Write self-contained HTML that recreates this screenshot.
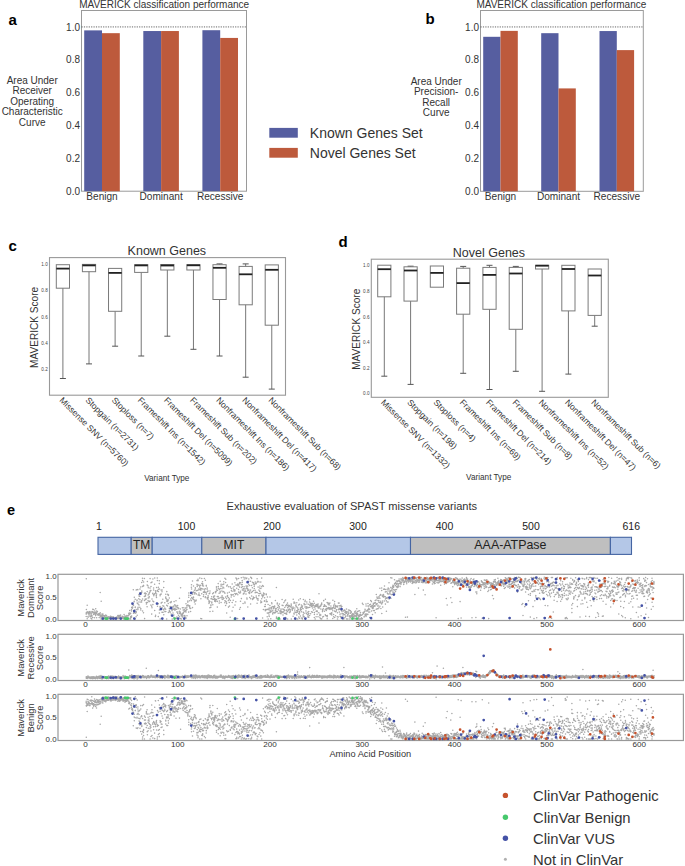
<!DOCTYPE html>
<html><head><meta charset="utf-8"><style>
html,body{margin:0;padding:0;background:#fff;}
svg{display:block;font-family:"Liberation Sans", sans-serif;}
</style></head><body>
<svg width="685" height="866" viewBox="0 0 685 866">
<rect x="81.5" y="10.5" width="165.0" height="180.7" fill="none" stroke="#9a9a9a" stroke-width="1"/>
<line x1="81.5" y1="26.93" x2="246.5" y2="26.93" stroke="#555" stroke-width="0.9" stroke-dasharray="1.2 1.2"/>
<rect x="84.20" y="30.38" width="17.80" height="160.82" fill="#565ea0"/>
<rect x="102.00" y="33.17" width="17.80" height="158.03" fill="#bd5a3c"/>
<rect x="143.30" y="31.03" width="17.80" height="160.17" fill="#565ea0"/>
<rect x="161.10" y="31.03" width="17.80" height="160.17" fill="#bd5a3c"/>
<rect x="202.40" y="30.21" width="17.80" height="160.99" fill="#565ea0"/>
<rect x="220.20" y="37.93" width="17.80" height="153.27" fill="#bd5a3c"/>
<text x="80.0" y="194.80" font-size="10" text-anchor="end" fill="#333333" font-weight="normal" >0.0</text>
<text x="80.0" y="161.95" font-size="10" text-anchor="end" fill="#333333" font-weight="normal" >0.2</text>
<text x="80.0" y="129.09" font-size="10" text-anchor="end" fill="#333333" font-weight="normal" >0.4</text>
<text x="80.0" y="96.24" font-size="10" text-anchor="end" fill="#333333" font-weight="normal" >0.6</text>
<text x="80.0" y="63.38" font-size="10" text-anchor="end" fill="#333333" font-weight="normal" >0.8</text>
<text x="80.0" y="30.53" font-size="10" text-anchor="end" fill="#333333" font-weight="normal" >1.0</text>
<text x="102.00" y="199.7" font-size="10.1" text-anchor="middle" fill="#333333" font-weight="normal" >Benign</text>
<text x="161.10" y="199.7" font-size="10.1" text-anchor="middle" fill="#333333" font-weight="normal" >Dominant</text>
<text x="220.20" y="199.7" font-size="10.1" text-anchor="middle" fill="#333333" font-weight="normal" >Recessive</text>
<text x="32.2" y="83.80" font-size="10" text-anchor="middle" fill="#333333" font-weight="normal" >Area Under</text>
<text x="32.2" y="94.30" font-size="10" text-anchor="middle" fill="#333333" font-weight="normal" >Receiver</text>
<text x="32.2" y="104.80" font-size="10" text-anchor="middle" fill="#333333" font-weight="normal" >Operating</text>
<text x="32.2" y="115.30" font-size="10" text-anchor="middle" fill="#333333" font-weight="normal" >Characteristic</text>
<text x="32.2" y="125.80" font-size="10" text-anchor="middle" fill="#333333" font-weight="normal" >Curve</text>
<text x="79.2" y="8.3" font-size="10.0" text-anchor="start" fill="#333333" font-weight="normal" >MAVERICK classification performance</text>
<rect x="480.5" y="10.5" width="162.79999999999995" height="180.8" fill="none" stroke="#9a9a9a" stroke-width="1"/>
<line x1="480.5" y1="26.94" x2="643.3" y2="26.94" stroke="#555" stroke-width="0.9" stroke-dasharray="1.2 1.2"/>
<rect x="483.20" y="36.80" width="17.30" height="154.50" fill="#565ea0"/>
<rect x="500.50" y="30.88" width="17.30" height="160.42" fill="#bd5a3c"/>
<rect x="541.20" y="33.18" width="17.30" height="158.12" fill="#565ea0"/>
<rect x="558.50" y="88.41" width="17.30" height="102.89" fill="#bd5a3c"/>
<rect x="599.50" y="31.05" width="17.30" height="160.25" fill="#565ea0"/>
<rect x="616.80" y="50.11" width="17.30" height="141.19" fill="#bd5a3c"/>
<text x="479.0" y="194.90" font-size="10" text-anchor="end" fill="#333333" font-weight="normal" >0.0</text>
<text x="479.0" y="162.03" font-size="10" text-anchor="end" fill="#333333" font-weight="normal" >0.2</text>
<text x="479.0" y="129.15" font-size="10" text-anchor="end" fill="#333333" font-weight="normal" >0.4</text>
<text x="479.0" y="96.28" font-size="10" text-anchor="end" fill="#333333" font-weight="normal" >0.6</text>
<text x="479.0" y="63.41" font-size="10" text-anchor="end" fill="#333333" font-weight="normal" >0.8</text>
<text x="479.0" y="30.54" font-size="10" text-anchor="end" fill="#333333" font-weight="normal" >1.0</text>
<text x="500.50" y="199.7" font-size="10.1" text-anchor="middle" fill="#333333" font-weight="normal" >Benign</text>
<text x="558.50" y="199.7" font-size="10.1" text-anchor="middle" fill="#333333" font-weight="normal" >Dominant</text>
<text x="616.80" y="199.7" font-size="10.1" text-anchor="middle" fill="#333333" font-weight="normal" >Recessive</text>
<text x="436.2" y="85.00" font-size="10" text-anchor="middle" fill="#333333" font-weight="normal" >Area Under</text>
<text x="436.2" y="95.40" font-size="10" text-anchor="middle" fill="#333333" font-weight="normal" >Precision-</text>
<text x="436.2" y="105.80" font-size="10" text-anchor="middle" fill="#333333" font-weight="normal" >Recall</text>
<text x="436.2" y="116.20" font-size="10" text-anchor="middle" fill="#333333" font-weight="normal" >Curve</text>
<text x="476.4" y="8.3" font-size="10.0" text-anchor="start" fill="#333333" font-weight="normal" >MAVERICK classification performance</text>
<text x="8.5" y="24.5" font-size="15" text-anchor="start" fill="#000" font-weight="bold" >a</text>
<text x="425.6" y="24.2" font-size="15" text-anchor="start" fill="#000" font-weight="bold" >b</text>
<rect x="269.3" y="127.9" width="28.5" height="9.8" fill="#565ea0"/>
<rect x="269.3" y="147.9" width="28.5" height="9.8" fill="#bd5a3c"/>
<text x="309.8" y="137.8" font-size="14" text-anchor="start" fill="#333333" font-weight="normal" >Known Genes Set</text>
<text x="309.8" y="157.8" font-size="14" text-anchor="start" fill="#333333" font-weight="normal" >Novel Genes Set</text>
<rect x="49.5" y="257.6" width="236.0" height="137.59999999999997" fill="none" stroke="#999" stroke-width="1.1"/>
<line x1="62.90" y1="288.20" x2="62.90" y2="378.50" stroke="#777" stroke-width="1"/>
<line x1="59.90" y1="378.50" x2="65.90" y2="378.50" stroke="#555" stroke-width="1"/>
<rect x="56.30" y="264.70" width="13.2" height="23.50" fill="none" stroke="#7a7a7a" stroke-width="1"/>
<line x1="56.30" y1="268.60" x2="69.50" y2="268.60" stroke="#222" stroke-width="1.8"/>
<line x1="89.01" y1="271.70" x2="89.01" y2="363.90" stroke="#777" stroke-width="1"/>
<line x1="86.01" y1="363.90" x2="92.01" y2="363.90" stroke="#555" stroke-width="1"/>
<rect x="82.41" y="264.40" width="13.2" height="7.30" fill="none" stroke="#7a7a7a" stroke-width="1"/>
<line x1="82.41" y1="265.40" x2="95.61" y2="265.40" stroke="#222" stroke-width="1.8"/>
<line x1="115.12" y1="311.30" x2="115.12" y2="346.20" stroke="#777" stroke-width="1"/>
<line x1="112.12" y1="346.20" x2="118.12" y2="346.20" stroke="#555" stroke-width="1"/>
<rect x="108.52" y="268.40" width="13.2" height="42.90" fill="none" stroke="#7a7a7a" stroke-width="1"/>
<line x1="108.52" y1="272.90" x2="121.72" y2="272.90" stroke="#222" stroke-width="1.8"/>
<line x1="141.23" y1="272.40" x2="141.23" y2="356.00" stroke="#777" stroke-width="1"/>
<line x1="138.23" y1="356.00" x2="144.23" y2="356.00" stroke="#555" stroke-width="1"/>
<rect x="134.63" y="264.70" width="13.2" height="7.70" fill="none" stroke="#7a7a7a" stroke-width="1"/>
<line x1="134.63" y1="265.40" x2="147.83" y2="265.40" stroke="#222" stroke-width="1.8"/>
<line x1="167.34" y1="270.00" x2="167.34" y2="336.20" stroke="#777" stroke-width="1"/>
<line x1="164.34" y1="336.20" x2="170.34" y2="336.20" stroke="#555" stroke-width="1"/>
<rect x="160.74" y="264.50" width="13.2" height="5.50" fill="none" stroke="#7a7a7a" stroke-width="1"/>
<line x1="160.74" y1="265.50" x2="173.94" y2="265.50" stroke="#222" stroke-width="1.8"/>
<line x1="193.45" y1="270.00" x2="193.45" y2="349.30" stroke="#777" stroke-width="1"/>
<line x1="190.45" y1="349.30" x2="196.45" y2="349.30" stroke="#555" stroke-width="1"/>
<rect x="186.85" y="264.70" width="13.2" height="5.30" fill="none" stroke="#7a7a7a" stroke-width="1"/>
<line x1="186.85" y1="265.30" x2="200.05" y2="265.30" stroke="#222" stroke-width="1.8"/>
<line x1="219.56" y1="299.50" x2="219.56" y2="356.00" stroke="#777" stroke-width="1"/>
<line x1="216.56" y1="356.00" x2="222.56" y2="356.00" stroke="#555" stroke-width="1"/>
<line x1="219.56" y1="263.90" x2="219.56" y2="264.70" stroke="#777" stroke-width="1"/>
<line x1="216.56" y1="263.90" x2="222.56" y2="263.90" stroke="#555" stroke-width="1"/>
<rect x="212.96" y="264.70" width="13.2" height="34.80" fill="none" stroke="#7a7a7a" stroke-width="1"/>
<line x1="212.96" y1="267.80" x2="226.16" y2="267.80" stroke="#222" stroke-width="1.8"/>
<line x1="245.67" y1="304.80" x2="245.67" y2="377.20" stroke="#777" stroke-width="1"/>
<line x1="242.67" y1="377.20" x2="248.67" y2="377.20" stroke="#555" stroke-width="1"/>
<line x1="245.67" y1="263.90" x2="245.67" y2="266.40" stroke="#777" stroke-width="1"/>
<line x1="242.67" y1="263.90" x2="248.67" y2="263.90" stroke="#555" stroke-width="1"/>
<rect x="239.07" y="266.40" width="13.2" height="38.40" fill="none" stroke="#7a7a7a" stroke-width="1"/>
<line x1="239.07" y1="274.30" x2="252.27" y2="274.30" stroke="#222" stroke-width="1.8"/>
<line x1="271.78" y1="325.20" x2="271.78" y2="389.10" stroke="#777" stroke-width="1"/>
<line x1="268.78" y1="389.10" x2="274.78" y2="389.10" stroke="#555" stroke-width="1"/>
<rect x="265.18" y="264.90" width="13.2" height="60.30" fill="none" stroke="#7a7a7a" stroke-width="1"/>
<line x1="265.18" y1="269.80" x2="278.38" y2="269.80" stroke="#222" stroke-width="1.8"/>
<text x="47.7" y="371.10" font-size="4.6" text-anchor="end" fill="#444" font-weight="normal" >0.2</text>
<text x="47.7" y="344.80" font-size="4.6" text-anchor="end" fill="#444" font-weight="normal" >0.4</text>
<text x="47.7" y="318.50" font-size="4.6" text-anchor="end" fill="#444" font-weight="normal" >0.6</text>
<text x="47.7" y="292.20" font-size="4.6" text-anchor="end" fill="#444" font-weight="normal" >0.8</text>
<text x="47.7" y="265.90" font-size="4.6" text-anchor="end" fill="#444" font-weight="normal" >1.0</text>
<text x="0" y="0" font-size="8.6" fill="#333333" transform="translate(59.00,400.80) rotate(45)">Missense SNV (n=5760)</text>
<text x="0" y="0" font-size="8.6" fill="#333333" transform="translate(85.11,400.80) rotate(45)">Stopgain (n=2731)</text>
<text x="0" y="0" font-size="8.6" fill="#333333" transform="translate(111.22,400.80) rotate(45)">Stoploss (n=7)</text>
<text x="0" y="0" font-size="8.6" fill="#333333" transform="translate(137.33,400.80) rotate(45)">Frameshift Ins (n=1542)</text>
<text x="0" y="0" font-size="8.6" fill="#333333" transform="translate(163.44,400.80) rotate(45)">Frameshift Del (n=5099)</text>
<text x="0" y="0" font-size="8.6" fill="#333333" transform="translate(189.55,400.80) rotate(45)">Frameshift Sub (n=202)</text>
<text x="0" y="0" font-size="8.6" fill="#333333" transform="translate(215.66,400.80) rotate(45)">Nonframeshift Ins (n=186)</text>
<text x="0" y="0" font-size="8.6" fill="#333333" transform="translate(241.77,400.80) rotate(45)">Nonframeshift Del (n=417)</text>
<text x="0" y="0" font-size="8.6" fill="#333333" transform="translate(267.88,400.80) rotate(45)">Nonframeshift Sub (n=68)</text>
<text x="127.60" y="255.4" font-size="12.5" text-anchor="start" fill="#333333" font-weight="normal" >Known Genes</text>
<text x="0" y="0" font-size="10.1" fill="#333333" text-anchor="middle" transform="translate(37.5,327.40) rotate(-90)">MAVERICK Score</text>
<text x="166.8" y="481.2" font-size="8.2" text-anchor="middle" fill="#333333" font-weight="normal" >Variant Type</text>
<rect x="371.3" y="259.2" width="236.99999999999994" height="138.10000000000002" fill="none" stroke="#999" stroke-width="1.1"/>
<line x1="384.30" y1="296.80" x2="384.30" y2="376.20" stroke="#777" stroke-width="1"/>
<line x1="381.30" y1="376.20" x2="387.30" y2="376.20" stroke="#555" stroke-width="1"/>
<rect x="377.70" y="265.20" width="13.2" height="31.60" fill="none" stroke="#7a7a7a" stroke-width="1"/>
<line x1="377.70" y1="269.20" x2="390.90" y2="269.20" stroke="#222" stroke-width="1.8"/>
<line x1="410.60" y1="301.10" x2="410.60" y2="384.40" stroke="#777" stroke-width="1"/>
<line x1="407.60" y1="384.40" x2="413.60" y2="384.40" stroke="#555" stroke-width="1"/>
<line x1="410.60" y1="266.20" x2="410.60" y2="266.80" stroke="#777" stroke-width="1"/>
<line x1="407.60" y1="266.20" x2="413.60" y2="266.20" stroke="#555" stroke-width="1"/>
<rect x="404.00" y="266.80" width="13.2" height="34.30" fill="none" stroke="#7a7a7a" stroke-width="1"/>
<line x1="404.00" y1="270.50" x2="417.20" y2="270.50" stroke="#222" stroke-width="1.8"/>
<rect x="430.30" y="266.00" width="13.2" height="21.20" fill="none" stroke="#7a7a7a" stroke-width="1"/>
<line x1="430.30" y1="272.90" x2="443.50" y2="272.90" stroke="#222" stroke-width="1.8"/>
<line x1="463.20" y1="314.20" x2="463.20" y2="373.30" stroke="#777" stroke-width="1"/>
<line x1="460.20" y1="373.30" x2="466.20" y2="373.30" stroke="#555" stroke-width="1"/>
<line x1="463.20" y1="266.40" x2="463.20" y2="268.20" stroke="#777" stroke-width="1"/>
<line x1="460.20" y1="266.40" x2="466.20" y2="266.40" stroke="#555" stroke-width="1"/>
<rect x="456.60" y="268.20" width="13.2" height="46.00" fill="none" stroke="#7a7a7a" stroke-width="1"/>
<line x1="456.60" y1="283.10" x2="469.80" y2="283.10" stroke="#222" stroke-width="1.8"/>
<line x1="489.50" y1="309.30" x2="489.50" y2="389.50" stroke="#777" stroke-width="1"/>
<line x1="486.50" y1="389.50" x2="492.50" y2="389.50" stroke="#555" stroke-width="1"/>
<line x1="489.50" y1="265.30" x2="489.50" y2="267.40" stroke="#777" stroke-width="1"/>
<line x1="486.50" y1="265.30" x2="492.50" y2="265.30" stroke="#555" stroke-width="1"/>
<rect x="482.90" y="267.40" width="13.2" height="41.90" fill="none" stroke="#7a7a7a" stroke-width="1"/>
<line x1="482.90" y1="274.90" x2="496.10" y2="274.90" stroke="#222" stroke-width="1.8"/>
<line x1="515.80" y1="329.30" x2="515.80" y2="371.30" stroke="#777" stroke-width="1"/>
<line x1="512.80" y1="371.30" x2="518.80" y2="371.30" stroke="#555" stroke-width="1"/>
<line x1="515.80" y1="266.40" x2="515.80" y2="267.40" stroke="#777" stroke-width="1"/>
<line x1="512.80" y1="266.40" x2="518.80" y2="266.40" stroke="#555" stroke-width="1"/>
<rect x="509.20" y="267.40" width="13.2" height="61.90" fill="none" stroke="#7a7a7a" stroke-width="1"/>
<line x1="509.20" y1="273.50" x2="522.40" y2="273.50" stroke="#222" stroke-width="1.8"/>
<line x1="542.10" y1="269.00" x2="542.10" y2="391.30" stroke="#777" stroke-width="1"/>
<line x1="539.10" y1="391.30" x2="545.10" y2="391.30" stroke="#555" stroke-width="1"/>
<rect x="535.50" y="265.30" width="13.2" height="3.70" fill="none" stroke="#7a7a7a" stroke-width="1"/>
<line x1="535.50" y1="265.70" x2="548.70" y2="265.70" stroke="#222" stroke-width="1.8"/>
<line x1="568.40" y1="310.90" x2="568.40" y2="374.10" stroke="#777" stroke-width="1"/>
<line x1="565.40" y1="374.10" x2="571.40" y2="374.10" stroke="#555" stroke-width="1"/>
<rect x="561.80" y="265.30" width="13.2" height="45.60" fill="none" stroke="#7a7a7a" stroke-width="1"/>
<line x1="561.80" y1="269.00" x2="575.00" y2="269.00" stroke="#222" stroke-width="1.8"/>
<line x1="594.70" y1="315.40" x2="594.70" y2="326.20" stroke="#777" stroke-width="1"/>
<line x1="591.70" y1="326.20" x2="597.70" y2="326.20" stroke="#555" stroke-width="1"/>
<rect x="588.10" y="269.00" width="13.2" height="46.40" fill="none" stroke="#7a7a7a" stroke-width="1"/>
<line x1="588.10" y1="275.50" x2="601.30" y2="275.50" stroke="#222" stroke-width="1.8"/>
<text x="369.5" y="395.20" font-size="4.6" text-anchor="end" fill="#444" font-weight="normal" >0.0</text>
<text x="369.5" y="369.64" font-size="4.6" text-anchor="end" fill="#444" font-weight="normal" >0.2</text>
<text x="369.5" y="344.08" font-size="4.6" text-anchor="end" fill="#444" font-weight="normal" >0.4</text>
<text x="369.5" y="318.52" font-size="4.6" text-anchor="end" fill="#444" font-weight="normal" >0.6</text>
<text x="369.5" y="292.96" font-size="4.6" text-anchor="end" fill="#444" font-weight="normal" >0.8</text>
<text x="369.5" y="267.40" font-size="4.6" text-anchor="end" fill="#444" font-weight="normal" >1.0</text>
<text x="0" y="0" font-size="8.6" fill="#333333" transform="translate(380.40,402.90) rotate(45)">Missense SNV (n=1332)</text>
<text x="0" y="0" font-size="8.6" fill="#333333" transform="translate(406.70,402.90) rotate(45)">Stopgain (n=198)</text>
<text x="0" y="0" font-size="8.6" fill="#333333" transform="translate(433.00,402.90) rotate(45)">Stoploss (n=4)</text>
<text x="0" y="0" font-size="8.6" fill="#333333" transform="translate(459.30,402.90) rotate(45)">Frameshift Ins (n=69)</text>
<text x="0" y="0" font-size="8.6" fill="#333333" transform="translate(485.60,402.90) rotate(45)">Frameshift Del (n=214)</text>
<text x="0" y="0" font-size="8.6" fill="#333333" transform="translate(511.90,402.90) rotate(45)">Frameshift Sub (n=8)</text>
<text x="0" y="0" font-size="8.6" fill="#333333" transform="translate(538.20,402.90) rotate(45)">Nonframeshift Ins (n=52)</text>
<text x="0" y="0" font-size="8.6" fill="#333333" transform="translate(564.50,402.90) rotate(45)">Nonframeshift Del (n=47)</text>
<text x="0" y="0" font-size="8.6" fill="#333333" transform="translate(590.80,402.90) rotate(45)">Nonframeshift Sub (n=6)</text>
<text x="452.80" y="256.6" font-size="12.5" text-anchor="start" fill="#333333" font-weight="normal" >Novel Genes</text>
<text x="0" y="0" font-size="10.1" fill="#333333" text-anchor="middle" transform="translate(359.5,329.25) rotate(-90)">MAVERICK Score</text>
<text x="488.7" y="480.2" font-size="8.2" text-anchor="middle" fill="#333333" font-weight="normal" >Variant Type</text>
<text x="8.5" y="251.0" font-size="15" text-anchor="start" fill="#000" font-weight="bold" >c</text>
<text x="338.6" y="246.5" font-size="15" text-anchor="start" fill="#000" font-weight="bold" >d</text>
<text x="7.0" y="514.9" font-size="14.5" text-anchor="start" fill="#000" font-weight="bold" >e</text>
<text x="226.6" y="509.7" font-size="11.1" text-anchor="start" fill="#333333" font-weight="normal" >Exhaustive evaluation of SPAST missense variants</text>
<rect x="98" y="537.3" width="33.20" height="17.1" fill="#b4c7e7" stroke="#4565a3" stroke-width="1.1"/>
<rect x="131.2" y="537.3" width="21.00" height="17.1" fill="#bfbfbf" stroke="#4565a3" stroke-width="1.1"/>
<rect x="152.2" y="537.3" width="49.60" height="17.1" fill="#b4c7e7" stroke="#4565a3" stroke-width="1.1"/>
<rect x="201.8" y="537.3" width="64.20" height="17.1" fill="#bfbfbf" stroke="#4565a3" stroke-width="1.1"/>
<rect x="266" y="537.3" width="144.50" height="17.1" fill="#b4c7e7" stroke="#4565a3" stroke-width="1.1"/>
<rect x="410.5" y="537.3" width="199.90" height="17.1" fill="#bfbfbf" stroke="#4565a3" stroke-width="1.1"/>
<rect x="610.4" y="537.3" width="21.10" height="17.1" fill="#b4c7e7" stroke="#4565a3" stroke-width="1.1"/>
<text x="141.7" y="549.4" font-size="12" text-anchor="middle" fill="#222" font-weight="normal" >TM</text>
<text x="233.9" y="549.4" font-size="12" text-anchor="middle" fill="#222" font-weight="normal" >MIT</text>
<text x="510.4" y="549.4" font-size="12.4" text-anchor="middle" fill="#222" font-weight="normal" >AAA-ATPase</text>
<text x="99" y="529.5" font-size="10.5" text-anchor="middle" fill="#222" font-weight="normal" >1</text>
<text x="186.5" y="529.5" font-size="10.5" text-anchor="middle" fill="#222" font-weight="normal" >100</text>
<text x="272" y="529.5" font-size="10.5" text-anchor="middle" fill="#222" font-weight="normal" >200</text>
<text x="358" y="529.5" font-size="10.5" text-anchor="middle" fill="#222" font-weight="normal" >300</text>
<text x="444.5" y="529.5" font-size="10.5" text-anchor="middle" fill="#222" font-weight="normal" >400</text>
<text x="531" y="529.5" font-size="10.5" text-anchor="middle" fill="#222" font-weight="normal" >500</text>
<text x="631.3" y="529.5" font-size="10.5" text-anchor="middle" fill="#222" font-weight="normal" >616</text>
<rect x="58.0" y="574.3" width="625.4" height="46.2" fill="none" stroke="#999" stroke-width="1.2"/>
<path d="M86.2 616.5h0M86.3 613.6h0M86.4 609.5h0M86.2 614.1h0M86.3 612.7h0M87.2 611.7h0M87.2 605.2h0M87.2 611.8h0M87.2 618.7h0M87.1 612.1h0M88.0 616.6h0M88.1 612.3h0M88.1 613.6h0M88.1 612.6h0M88.1 617.3h0M89.0 613.6h0M89.1 615.1h0M89.2 611.7h0M89.2 612.7h0M89.0 614.1h0M90.0 611.8h0M90.0 616.4h0M90.0 611.6h0M90.0 613.1h0M90.0 612.0h0M91.0 616.6h0M91.1 613.1h0M91.0 615.6h0M91.0 614.8h0M91.0 618.2h0M92.0 615.9h0M91.8 618.9h0M91.8 613.1h0M91.8 615.2h0M91.9 611.6h0M92.7 609.3h0M92.7 617.4h0M92.8 611.6h0M92.8 611.9h0M92.9 612.1h0M93.7 614.5h0M93.7 612.8h0M93.7 609.5h0M93.8 612.8h0M93.6 612.9h0M94.7 613.1h0M94.7 613.6h0M94.6 611.0h0M94.5 617.8h0M94.6 613.0h0M95.7 608.8h0M95.6 615.6h0M95.5 613.5h0M95.6 612.2h0M95.4 614.4h0M96.5 613.5h0M96.6 617.8h0M96.5 611.0h0M96.5 613.0h0M96.5 612.8h0M97.4 611.8h0M97.4 614.8h0M97.3 614.6h0M97.4 611.5h0M97.3 614.8h0M98.3 614.5h0M98.4 613.7h0M98.4 615.1h0M98.2 615.1h0M98.4 614.5h0M99.2 617.6h0M99.2 615.1h0M99.1 614.6h0M99.2 614.4h0M99.4 613.7h0M100.2 614.7h0M100.2 592.4h0M100.0 613.4h0M100.2 612.7h0M100.3 616.3h0M101.1 615.5h0M101.0 617.4h0M101.2 601.2h0M101.1 616.2h0M101.0 618.9h0M101.9 618.9h0M102.0 615.2h0M102.1 616.8h0M102.0 613.9h0M102.1 616.1h0M103.0 617.5h0M102.9 614.0h0M102.8 615.2h0M102.9 617.4h0M102.9 618.9h0M103.9 617.1h0M103.9 617.2h0M103.9 615.4h0M104.0 618.9h0M103.9 615.7h0M104.9 618.1h0M104.7 615.8h0M104.8 618.1h0M104.7 616.4h0M104.8 617.7h0M105.8 615.5h0M105.8 617.9h0M105.6 617.4h0M105.6 615.6h0M105.8 615.0h0M106.5 617.4h0M106.7 618.1h0M106.7 618.8h0M106.6 615.7h0M106.6 617.6h0M107.4 617.8h0M107.4 618.5h0M107.6 618.7h0M107.5 617.0h0M107.5 618.7h0M108.5 618.8h0M108.6 617.9h0M108.5 617.1h0M108.5 618.4h0M108.6 616.8h0M109.5 617.3h0M109.3 617.5h0M109.4 617.7h0M109.4 617.5h0M109.5 618.4h0M110.4 618.2h0M110.3 617.3h0M110.4 616.3h0M110.3 617.5h0M110.3 617.7h0M111.3 617.7h0M111.2 617.5h0M111.3 617.0h0M111.3 618.9h0M111.1 616.5h0M112.1 618.0h0M112.0 618.0h0M112.3 618.7h0M112.1 617.6h0M112.1 618.4h0M113.2 618.3h0M113.1 618.5h0M113.0 616.8h0M113.1 617.5h0M113.1 616.7h0M114.1 618.1h0M114.0 618.9h0M114.0 617.9h0M114.0 618.9h0M114.1 618.2h0M114.8 617.8h0M114.9 617.6h0M114.9 618.0h0M115.0 618.8h0M114.9 617.7h0M115.8 618.9h0M115.9 617.5h0M115.9 617.7h0M115.9 617.5h0M115.8 617.7h0M116.8 617.2h0M116.9 618.3h0M116.8 617.7h0M116.9 618.7h0M116.8 617.0h0M117.8 617.1h0M117.6 617.4h0M117.8 615.5h0M117.6 618.5h0M117.6 617.5h0M118.6 617.6h0M118.6 618.5h0M118.6 618.2h0M118.5 615.5h0M118.5 616.6h0M119.7 617.4h0M119.5 615.4h0M119.5 616.9h0M119.7 616.9h0M119.6 618.3h0M120.5 618.4h0M120.4 616.1h0M120.4 618.1h0M120.6 614.9h0M120.4 618.7h0M121.4 618.7h0M121.4 618.9h0M121.4 617.5h0M121.4 618.4h0M121.4 618.0h0M122.2 617.4h0M122.3 616.3h0M122.3 617.0h0M122.4 618.1h0M122.3 616.9h0M123.1 616.9h0M123.4 618.9h0M123.4 616.9h0M123.3 617.5h0M123.3 617.5h0M124.1 614.6h0M124.3 618.5h0M124.1 617.3h0M124.2 618.3h0M124.1 617.4h0M125.0 615.9h0M125.1 617.5h0M125.0 615.9h0M125.0 618.9h0M125.0 617.4h0M126.0 617.3h0M125.9 616.3h0M126.1 618.2h0M126.0 617.5h0M126.1 617.5h0M126.9 616.0h0M126.8 618.1h0M126.9 618.3h0M126.9 615.5h0M126.8 618.0h0M127.7 617.7h0M127.8 618.9h0M127.8 616.0h0M127.9 618.9h0M127.8 618.9h0M128.8 613.2h0M128.7 615.6h0M128.8 615.4h0M128.9 614.7h0M128.8 613.5h0M129.7 610.5h0M129.6 618.9h0M129.6 618.9h0M129.8 614.3h0M129.6 613.0h0M130.7 613.3h0M130.7 616.5h0M130.5 617.4h0M130.5 618.9h0M130.7 618.9h0M131.6 616.1h0M131.5 609.6h0M131.5 610.9h0M131.7 607.5h0M131.5 617.2h0M132.4 607.0h0M132.4 608.2h0M132.6 607.4h0M132.6 607.7h0M132.4 604.5h0M133.5 613.3h0M133.3 589.8h0M133.5 610.8h0M133.5 605.0h0M133.5 605.4h0M134.2 601.8h0M134.3 597.3h0M134.3 612.2h0M134.4 610.0h0M134.2 601.3h0M135.2 599.3h0M135.3 607.0h0M135.2 607.5h0M135.2 613.2h0M135.3 618.9h0M136.2 609.5h0M136.2 611.4h0M136.2 612.6h0M136.2 589.9h0M136.1 616.7h0M137.0 599.9h0M137.2 589.5h0M137.2 615.2h0M137.0 600.8h0M137.2 603.1h0M138.1 603.9h0M137.9 608.2h0M138.1 607.2h0M137.9 589.8h0M137.9 609.6h0M139.0 604.9h0M138.8 598.8h0M139.1 596.1h0M139.0 602.0h0M138.9 594.4h0M140.0 589.1h0M140.0 599.8h0M139.8 607.2h0M139.9 593.0h0M139.8 596.2h0M140.7 587.0h0M140.7 593.0h0M140.8 608.5h0M140.9 602.1h0M140.8 609.9h0M141.8 592.2h0M141.8 600.4h0M141.8 590.9h0M141.6 601.9h0M141.7 582.4h0M142.5 586.4h0M142.6 599.0h0M142.6 580.6h0M142.6 611.0h0M142.5 578.3h0M143.4 585.4h0M143.6 585.6h0M143.5 585.9h0M143.6 582.0h0M143.5 612.8h0M144.5 600.4h0M144.4 578.4h0M144.4 596.4h0M144.6 618.6h0M144.5 593.3h0M145.3 599.6h0M145.5 596.1h0M145.3 599.0h0M145.3 594.9h0M145.3 593.1h0M146.3 598.9h0M146.4 604.0h0M146.3 602.5h0M146.2 593.8h0M146.4 602.8h0M147.2 591.6h0M147.4 581.5h0M147.1 606.8h0M147.2 585.1h0M147.3 602.4h0M148.1 600.6h0M148.1 594.9h0M148.3 587.7h0M148.1 586.0h0M148.2 597.9h0M149.2 596.6h0M149.0 597.8h0M149.2 593.1h0M149.0 601.7h0M149.0 594.1h0M150.0 588.1h0M150.1 590.8h0M149.9 601.1h0M150.1 578.6h0M149.9 591.9h0M150.8 590.6h0M151.0 586.5h0M151.0 582.8h0M150.9 605.1h0M150.9 590.4h0M152.0 582.1h0M152.0 599.0h0M151.7 614.1h0M151.7 606.2h0M152.0 607.7h0M152.8 593.2h0M152.9 604.6h0M152.9 579.0h0M152.8 593.8h0M152.8 601.0h0M153.6 589.9h0M153.7 601.7h0M153.6 588.0h0M153.7 594.7h0M153.8 595.7h0M154.7 593.9h0M154.6 584.3h0M154.7 578.0h0M154.7 610.5h0M154.6 593.8h0M155.4 616.5h0M155.6 592.9h0M155.7 592.1h0M155.5 590.8h0M155.6 615.2h0M156.6 587.5h0M156.3 595.5h0M156.6 594.0h0M156.3 596.0h0M156.5 597.5h0M157.4 590.5h0M157.5 606.2h0M157.3 578.0h0M157.3 591.0h0M157.4 580.5h0M158.4 589.3h0M158.4 587.3h0M158.4 591.4h0M158.3 603.7h0M158.3 616.6h0M159.3 583.6h0M159.3 580.7h0M159.4 613.0h0M159.4 589.0h0M159.4 610.0h0M160.2 594.5h0M160.2 618.9h0M160.1 595.7h0M160.1 606.4h0M160.1 607.2h0M161.2 594.1h0M161.0 594.3h0M161.2 603.1h0M161.0 608.7h0M161.1 590.0h0M162.1 589.9h0M162.0 591.7h0M162.0 612.3h0M162.0 607.5h0M162.1 602.3h0M163.1 612.3h0M162.8 599.2h0M163.0 609.0h0M162.9 605.7h0M162.8 599.3h0M163.7 587.4h0M163.8 581.6h0M163.8 614.7h0M163.8 609.9h0M163.8 606.2h0M164.8 608.1h0M164.8 602.8h0M164.9 611.6h0M164.8 608.8h0M164.9 608.2h0M165.8 594.3h0M165.8 597.1h0M165.8 611.4h0M165.7 609.3h0M165.7 598.1h0M166.8 591.6h0M166.7 618.9h0M166.6 601.1h0M166.7 605.2h0M166.5 598.9h0M167.6 601.4h0M167.5 605.9h0M167.6 601.0h0M167.6 600.0h0M167.7 594.3h0M168.4 600.0h0M168.3 595.4h0M168.5 594.9h0M168.3 603.4h0M168.4 612.5h0M169.4 610.4h0M169.3 598.0h0M169.4 608.7h0M169.4 611.4h0M169.4 608.2h0M170.2 606.5h0M170.4 606.8h0M170.3 602.6h0M170.2 612.3h0M170.3 611.9h0M171.1 602.5h0M171.4 607.0h0M171.3 615.7h0M171.2 601.4h0M171.1 614.0h0M172.1 610.7h0M172.0 610.3h0M172.1 609.4h0M172.2 618.9h0M172.1 610.6h0M173.0 606.5h0M173.0 607.8h0M173.1 607.9h0M173.1 609.2h0M173.0 612.9h0M174.0 609.4h0M173.9 617.3h0M174.1 601.6h0M173.9 614.9h0M174.0 606.0h0M174.8 608.4h0M175.0 610.3h0M174.9 608.2h0M174.8 604.7h0M175.1 609.9h0M175.9 606.8h0M175.9 609.2h0M175.9 618.2h0M176.0 600.8h0M175.9 605.6h0M176.9 617.1h0M176.8 611.9h0M176.8 609.3h0M176.7 606.9h0M176.7 618.6h0M177.8 612.0h0M177.7 607.8h0M177.6 605.5h0M177.7 613.5h0M177.6 605.7h0M178.5 618.9h0M178.5 615.3h0M178.5 608.0h0M178.6 615.5h0M178.6 608.6h0M179.5 598.2h0M179.5 611.3h0M179.7 613.5h0M179.5 616.7h0M179.5 613.1h0M180.4 618.4h0M180.6 587.7h0M180.3 613.8h0M180.4 612.2h0M180.3 608.9h0M181.3 615.8h0M181.5 614.3h0M181.3 615.5h0M181.3 618.9h0M181.4 614.5h0M182.3 613.8h0M182.4 607.7h0M182.3 614.7h0M182.3 617.1h0M182.4 616.0h0M183.2 607.7h0M183.1 613.6h0M183.2 609.9h0M183.2 612.9h0M183.3 612.6h0M184.2 611.8h0M184.0 609.9h0M184.2 615.6h0M184.0 616.0h0M184.3 609.8h0M185.1 615.9h0M185.1 610.2h0M185.0 617.6h0M185.0 607.9h0M184.9 611.5h0M186.0 612.0h0M186.0 603.7h0M186.0 610.6h0M186.1 618.1h0M185.9 607.9h0M186.9 609.4h0M186.9 605.4h0M187.0 615.7h0M186.9 609.2h0M187.0 607.0h0M187.9 601.9h0M187.9 601.1h0M187.9 605.1h0M187.8 602.1h0M188.0 605.1h0M188.7 612.1h0M188.9 605.9h0M188.8 592.9h0M188.7 597.2h0M188.8 595.2h0M189.7 608.0h0M189.6 606.6h0M189.7 600.7h0M189.7 605.7h0M189.8 607.2h0M190.6 611.4h0M190.6 611.4h0M190.7 608.5h0M190.6 595.5h0M190.7 599.0h0M191.7 597.5h0M191.4 600.6h0M191.4 587.3h0M191.6 589.0h0M191.5 584.8h0M192.4 592.4h0M192.4 594.3h0M192.4 598.5h0M192.5 580.9h0M192.5 607.6h0M193.5 585.9h0M193.3 599.4h0M193.4 597.0h0M193.4 592.0h0M193.5 597.7h0M194.3 600.0h0M194.3 593.9h0M194.4 590.2h0M194.4 601.9h0M194.3 592.4h0M195.3 587.7h0M195.1 592.8h0M195.4 589.0h0M195.2 601.1h0M195.2 603.9h0M196.2 594.1h0M196.1 600.1h0M196.1 590.7h0M196.2 593.7h0M196.1 600.7h0M197.1 590.5h0M197.0 584.2h0M197.0 584.8h0M197.2 586.4h0M197.0 580.6h0M198.0 585.1h0M198.0 579.2h0M198.1 594.9h0M198.0 590.2h0M198.1 580.6h0M199.0 594.7h0M198.8 589.0h0M198.8 595.0h0M199.1 585.2h0M199.0 593.1h0M199.9 587.8h0M199.9 589.8h0M199.8 595.5h0M199.8 578.1h0M199.7 586.2h0M200.9 598.7h0M200.8 618.4h0M200.8 588.7h0M200.9 590.1h0M200.7 585.2h0M201.7 618.8h0M201.8 583.4h0M201.7 593.8h0M201.8 578.4h0M201.6 588.5h0M202.8 588.9h0M202.7 584.8h0M202.5 581.8h0M202.7 583.7h0M202.6 585.7h0M203.4 596.5h0M203.4 592.2h0M203.6 594.8h0M203.5 586.0h0M203.5 592.1h0M204.3 589.3h0M204.5 591.9h0M204.5 591.0h0M204.4 578.4h0M204.4 592.5h0M205.4 592.3h0M205.4 580.2h0M205.3 597.6h0M205.4 596.7h0M205.4 588.8h0M206.4 592.9h0M206.3 585.6h0M206.2 585.5h0M206.3 586.1h0M206.2 594.3h0M207.2 588.0h0M207.1 589.3h0M207.3 598.7h0M207.3 591.6h0M207.2 597.4h0M208.3 597.2h0M208.1 599.2h0M208.0 591.1h0M208.1 595.7h0M208.1 597.6h0M209.1 593.7h0M209.0 603.5h0M209.0 600.7h0M209.2 602.7h0M209.0 601.7h0M209.9 601.6h0M210.0 591.0h0M209.9 607.8h0M209.9 592.9h0M210.0 611.5h0M211.0 605.1h0M211.0 598.8h0M210.9 604.9h0M210.9 607.2h0M210.9 605.5h0M211.7 596.8h0M211.8 598.8h0M211.8 602.1h0M211.8 603.0h0M211.8 602.3h0M212.8 593.5h0M212.8 599.5h0M212.8 611.2h0M212.7 593.7h0M212.8 604.7h0M213.8 596.3h0M213.6 592.8h0M213.6 597.3h0M213.6 599.2h0M213.7 596.7h0M214.6 596.0h0M214.7 601.3h0M214.7 600.6h0M214.7 598.4h0M214.6 599.5h0M215.6 599.4h0M215.7 592.8h0M215.6 601.6h0M215.5 600.8h0M215.4 591.7h0M216.5 599.6h0M216.5 589.1h0M216.4 591.1h0M216.5 586.7h0M216.5 587.3h0M217.3 607.1h0M217.3 596.6h0M217.3 601.2h0M217.5 590.2h0M217.3 601.4h0M218.2 583.6h0M218.2 598.4h0M218.4 588.2h0M218.3 586.4h0M218.2 596.5h0M219.1 593.2h0M219.4 600.9h0M219.2 598.1h0M219.3 589.4h0M219.2 603.1h0M220.2 591.6h0M220.2 592.7h0M220.1 591.2h0M220.2 581.2h0M220.3 588.6h0M221.1 602.4h0M221.2 584.3h0M220.9 597.6h0M221.1 586.2h0M221.1 585.0h0M222.0 588.6h0M222.0 599.0h0M222.1 595.8h0M222.0 596.9h0M221.9 591.0h0M222.8 599.5h0M223.0 592.0h0M222.9 587.1h0M222.8 584.6h0M223.0 597.4h0M223.8 587.9h0M223.8 581.7h0M223.8 584.1h0M223.8 591.5h0M223.8 598.4h0M224.7 592.8h0M224.9 593.3h0M224.9 578.2h0M224.8 602.7h0M224.9 600.7h0M225.8 579.2h0M225.6 605.4h0M225.6 601.3h0M225.6 582.5h0M225.6 597.1h0M226.5 598.6h0M226.5 602.1h0M226.6 603.6h0M226.7 585.9h0M226.7 612.9h0M227.5 593.0h0M227.4 585.0h0M227.5 595.6h0M227.4 596.6h0M227.4 596.0h0M228.5 586.8h0M228.4 600.4h0M228.5 597.5h0M228.5 600.5h0M228.5 607.1h0M229.5 606.0h0M229.3 602.4h0M229.3 598.7h0M229.4 599.2h0M229.3 592.3h0M230.2 617.3h0M230.4 600.5h0M230.3 587.1h0M230.2 586.8h0M230.4 587.0h0M231.2 597.0h0M231.4 590.4h0M231.3 595.2h0M231.1 594.5h0M231.3 588.4h0M232.2 583.9h0M232.1 611.0h0M232.1 591.2h0M232.0 594.9h0M232.2 602.4h0M233.2 600.2h0M233.2 600.2h0M233.1 587.9h0M233.1 607.2h0M233.2 594.6h0M233.9 589.5h0M234.0 596.2h0M234.1 590.9h0M234.1 586.4h0M233.9 591.0h0M234.9 593.4h0M235.0 590.1h0M234.9 582.8h0M234.8 591.0h0M235.0 605.1h0M235.9 578.0h0M235.8 594.0h0M235.7 594.6h0M235.9 584.9h0M235.8 601.8h0M236.8 579.7h0M236.7 588.3h0M236.7 585.1h0M236.8 593.5h0M236.8 578.6h0M237.7 584.0h0M237.6 618.6h0M237.8 584.5h0M237.8 585.6h0M237.8 594.7h0M238.5 589.5h0M238.7 585.8h0M238.6 592.1h0M238.6 578.4h0M238.7 584.6h0M239.5 592.9h0M239.6 587.1h0M239.6 609.3h0M239.6 582.5h0M239.5 583.6h0M240.5 592.8h0M240.4 591.3h0M240.5 601.3h0M240.4 607.5h0M240.6 582.8h0M241.3 577.7h0M241.4 584.8h0M241.4 598.6h0M241.5 587.5h0M241.3 584.5h0M242.3 582.3h0M242.3 589.9h0M242.2 580.5h0M242.4 586.4h0M242.2 584.4h0M243.1 603.4h0M243.3 593.9h0M243.2 588.8h0M243.2 577.3h0M243.2 590.3h0M244.2 579.0h0M244.0 593.6h0M244.2 592.0h0M244.1 586.8h0M244.1 588.4h0M245.0 577.5h0M245.0 590.1h0M245.1 590.9h0M244.9 601.9h0M245.0 603.1h0M246.0 594.1h0M246.1 588.6h0M246.0 578.8h0M246.1 586.1h0M245.9 591.5h0M246.8 578.1h0M247.0 599.1h0M247.0 586.3h0M246.9 598.0h0M246.9 587.7h0M247.8 606.9h0M247.7 588.7h0M247.8 590.8h0M247.8 589.7h0M247.9 585.9h0M248.7 584.3h0M248.8 578.9h0M248.8 581.2h0M248.7 592.7h0M248.9 590.1h0M249.7 592.3h0M249.7 597.4h0M249.7 585.5h0M249.8 591.4h0M249.6 593.5h0M250.6 590.1h0M250.7 577.3h0M250.6 604.0h0M250.7 598.7h0M250.6 581.3h0M251.6 585.4h0M251.6 595.9h0M251.6 578.5h0M251.5 577.9h0M251.5 592.4h0M252.4 591.4h0M252.6 599.4h0M252.4 587.7h0M252.5 582.3h0M252.5 599.0h0M253.3 596.9h0M253.3 583.9h0M253.5 590.5h0M253.3 598.6h0M253.5 582.8h0M254.3 584.5h0M254.3 588.4h0M254.2 586.2h0M254.3 597.7h0M254.3 586.2h0M255.4 592.2h0M255.3 583.7h0M255.2 592.7h0M255.3 582.1h0M255.1 590.2h0M256.2 596.0h0M256.1 592.3h0M256.2 597.5h0M256.1 618.4h0M256.2 583.6h0M257.1 578.8h0M257.1 603.2h0M257.0 598.8h0M257.2 592.6h0M257.1 582.2h0M258.0 598.9h0M257.9 598.4h0M257.9 581.2h0M258.1 587.1h0M258.0 600.2h0M258.8 595.7h0M258.9 593.4h0M259.0 595.8h0M258.9 589.9h0M259.0 581.9h0M260.0 593.4h0M259.9 591.2h0M259.7 591.3h0M259.9 586.0h0M259.7 588.0h0M260.8 602.8h0M260.9 588.4h0M260.7 593.2h0M260.7 601.0h0M260.8 582.1h0M261.7 602.1h0M261.7 598.7h0M261.7 578.1h0M261.7 586.8h0M261.7 594.9h0M262.5 585.4h0M262.8 595.1h0M262.6 596.9h0M262.5 596.2h0M262.6 618.0h0M263.5 593.0h0M263.7 593.7h0M263.4 586.2h0M263.6 595.6h0M263.4 609.5h0M264.4 601.3h0M264.6 606.4h0M264.6 593.9h0M264.6 597.7h0M264.5 600.7h0M265.3 610.1h0M265.3 606.5h0M265.3 610.8h0M265.3 609.4h0M265.3 604.5h0M266.4 609.7h0M266.2 601.8h0M266.3 594.1h0M266.3 594.7h0M266.3 600.0h0M267.4 597.0h0M267.2 609.3h0M267.2 616.8h0M267.3 612.9h0M267.2 601.6h0M268.1 604.5h0M268.2 613.2h0M268.2 618.9h0M268.2 609.7h0M268.1 609.6h0M269.0 615.0h0M269.2 608.0h0M269.1 612.6h0M269.1 608.6h0M269.2 616.4h0M270.1 610.9h0M269.9 610.0h0M270.0 596.9h0M270.1 612.4h0M269.9 605.4h0M270.8 618.8h0M271.0 608.5h0M270.8 611.9h0M270.8 611.3h0M271.0 607.6h0M271.9 609.0h0M271.9 603.8h0M271.9 610.9h0M271.7 607.3h0M271.7 602.8h0M272.8 606.5h0M272.9 613.3h0M272.7 614.0h0M272.8 613.1h0M272.8 610.8h0M273.7 608.7h0M273.7 607.9h0M273.7 607.0h0M273.6 607.0h0M273.7 612.4h0M274.5 612.6h0M274.6 612.9h0M274.7 606.9h0M274.6 605.9h0M274.6 606.3h0M275.5 608.7h0M275.7 610.2h0M275.4 600.5h0M275.4 612.6h0M275.4 610.7h0M276.3 608.7h0M276.5 617.1h0M276.5 611.6h0M276.4 618.3h0M276.4 587.4h0M277.3 618.9h0M277.3 611.6h0M277.3 602.9h0M277.5 607.5h0M277.3 603.9h0M278.3 609.8h0M278.2 613.3h0M278.4 610.0h0M278.3 605.5h0M278.4 617.5h0M279.2 606.4h0M279.3 617.4h0M279.1 608.2h0M279.4 603.9h0M279.2 607.0h0M280.1 618.9h0M280.2 611.5h0M280.1 610.6h0M280.0 613.3h0M280.0 611.8h0M281.0 613.8h0M281.0 609.1h0M281.0 611.9h0M281.1 610.9h0M281.1 609.3h0M282.1 605.3h0M281.9 612.5h0M282.1 611.7h0M282.0 611.8h0M282.1 599.4h0M283.0 605.6h0M283.0 614.9h0M283.0 609.3h0M282.9 608.9h0M283.1 612.6h0M284.0 618.9h0M283.9 609.4h0M283.9 602.6h0M283.8 611.3h0M283.8 618.9h0M284.8 618.9h0M284.8 610.2h0M284.6 613.3h0M284.8 607.4h0M284.7 601.0h0M285.7 613.6h0M285.8 606.0h0M285.6 600.0h0M285.8 605.6h0M285.6 617.4h0M286.5 610.7h0M286.7 604.5h0M286.5 613.0h0M286.7 614.3h0M286.7 609.9h0M287.6 618.9h0M287.6 611.6h0M287.5 603.1h0M287.6 607.7h0M287.4 605.4h0M288.4 610.2h0M288.4 606.8h0M288.4 605.3h0M288.4 609.4h0M288.5 610.2h0M289.5 609.5h0M289.4 608.9h0M289.4 612.6h0M289.3 606.4h0M289.4 605.5h0M290.4 611.0h0M290.4 606.8h0M290.2 609.4h0M290.2 611.4h0M290.2 612.0h0M291.2 607.1h0M291.3 605.2h0M291.2 604.1h0M291.2 605.6h0M291.3 618.9h0M292.2 608.2h0M292.1 609.1h0M292.2 609.5h0M292.3 610.2h0M292.2 608.4h0M293.2 608.4h0M293.2 599.3h0M293.1 607.8h0M293.0 606.9h0M293.1 616.3h0M294.1 614.1h0M294.1 602.7h0M294.0 603.2h0M293.9 613.2h0M294.1 602.0h0M294.8 610.1h0M294.9 611.9h0M294.9 607.9h0M295.0 603.0h0M294.9 618.4h0M295.9 606.0h0M295.9 605.3h0M296.0 605.1h0M295.8 618.9h0M295.8 612.4h0M296.8 614.9h0M296.8 612.5h0M296.7 610.7h0M296.8 602.7h0M296.8 607.0h0M297.8 609.9h0M297.6 618.9h0M297.6 611.9h0M297.7 608.1h0M297.7 611.4h0M298.7 600.0h0M298.6 604.9h0M298.7 613.4h0M298.5 609.6h0M298.7 617.0h0M299.6 612.2h0M299.4 618.3h0M299.5 604.2h0M299.5 614.1h0M299.5 611.6h0M300.4 609.3h0M300.5 610.3h0M300.4 615.9h0M300.3 598.7h0M300.4 608.1h0M301.3 618.0h0M301.5 611.8h0M301.3 607.1h0M301.3 609.6h0M301.4 605.0h0M302.3 618.1h0M302.4 618.9h0M302.4 606.0h0M302.2 606.5h0M302.3 607.9h0M303.4 599.5h0M303.1 608.7h0M303.1 616.1h0M303.2 614.8h0M303.3 612.3h0M304.0 617.1h0M304.1 616.6h0M304.2 604.7h0M304.1 613.3h0M304.1 603.4h0M305.1 604.6h0M305.0 601.6h0M305.1 618.7h0M305.0 607.1h0M305.2 600.3h0M306.1 608.5h0M305.9 611.0h0M306.1 613.1h0M306.0 610.9h0M306.1 606.7h0M307.0 604.0h0M307.0 606.9h0M306.8 602.0h0M307.0 613.9h0M307.0 607.6h0M308.0 616.0h0M307.8 612.3h0M308.0 617.1h0M308.0 614.7h0M307.7 607.7h0M308.7 613.6h0M308.8 611.4h0M308.8 617.2h0M308.8 607.4h0M308.7 604.3h0M309.7 599.6h0M309.8 607.3h0M309.8 605.3h0M309.6 602.0h0M309.6 615.5h0M310.7 605.3h0M310.7 603.5h0M310.6 613.8h0M310.5 603.2h0M310.6 604.7h0M311.5 611.7h0M311.5 603.4h0M311.6 604.8h0M311.5 603.8h0M311.4 606.4h0M312.5 605.4h0M312.5 612.3h0M312.5 608.0h0M312.3 606.1h0M312.6 603.4h0M313.5 605.5h0M313.3 604.9h0M313.5 610.0h0M313.5 601.3h0M313.4 605.1h0M314.4 612.6h0M314.2 607.3h0M314.3 603.2h0M314.3 617.4h0M314.4 614.4h0M315.1 606.2h0M315.2 618.9h0M315.1 609.0h0M315.1 605.4h0M315.1 606.7h0M316.2 606.5h0M316.2 606.0h0M316.2 604.5h0M316.1 616.8h0M316.1 611.2h0M317.0 610.7h0M317.2 604.4h0M317.1 614.2h0M317.0 606.0h0M317.2 611.6h0M317.9 605.6h0M318.0 606.6h0M318.1 604.1h0M318.0 607.7h0M318.0 616.8h0M319.0 607.2h0M319.0 608.3h0M318.9 607.7h0M318.8 612.7h0M319.0 593.8h0M319.8 614.2h0M319.9 606.7h0M319.9 606.2h0M319.9 617.8h0M319.8 615.7h0M320.8 609.0h0M320.9 604.9h0M320.7 606.1h0M320.7 618.8h0M320.8 614.9h0M321.7 604.6h0M321.7 603.1h0M321.6 618.9h0M321.8 618.7h0M321.6 603.7h0M322.6 616.9h0M322.5 609.4h0M322.7 610.5h0M322.6 610.8h0M322.5 611.6h0M323.5 616.4h0M323.4 608.7h0M323.6 606.5h0M323.7 600.4h0M323.7 600.7h0M324.5 611.3h0M324.5 604.7h0M324.6 606.3h0M324.3 605.0h0M324.5 605.5h0M325.3 609.6h0M325.4 599.3h0M325.5 606.0h0M325.5 615.4h0M325.3 614.7h0M326.3 608.4h0M326.3 606.4h0M326.3 609.3h0M326.3 615.7h0M326.4 610.4h0M327.1 602.6h0M327.2 618.8h0M327.2 616.7h0M327.3 608.8h0M327.3 615.6h0M328.0 602.8h0M328.2 603.4h0M328.0 603.9h0M328.1 607.4h0M328.1 608.6h0M329.1 603.9h0M329.0 607.8h0M329.2 609.0h0M329.2 608.7h0M329.1 605.0h0M330.0 609.5h0M329.9 608.8h0M329.9 613.7h0M329.9 603.1h0M330.0 607.8h0M330.8 614.2h0M331.0 613.2h0M330.8 608.6h0M330.9 606.0h0M331.0 614.5h0M331.8 612.8h0M331.8 614.9h0M331.9 609.2h0M331.8 613.2h0M331.7 608.0h0M332.9 600.2h0M332.7 608.8h0M332.8 610.8h0M332.8 618.4h0M332.7 607.7h0M333.6 616.7h0M333.7 607.5h0M333.7 605.2h0M333.8 606.7h0M333.6 614.4h0M334.6 604.0h0M334.6 611.1h0M334.7 617.5h0M334.7 608.4h0M334.6 601.6h0M335.4 605.5h0M335.5 615.7h0M335.4 608.1h0M335.5 611.8h0M335.6 606.5h0M336.5 606.2h0M336.5 609.8h0M336.4 610.9h0M336.4 609.8h0M336.5 606.6h0M337.5 606.9h0M337.3 605.9h0M337.4 612.8h0M337.3 616.8h0M337.5 618.9h0M338.4 603.1h0M338.4 609.6h0M338.3 609.5h0M338.3 609.4h0M338.2 616.9h0M339.3 612.1h0M339.1 603.1h0M339.3 608.3h0M339.1 609.5h0M339.1 605.7h0M340.2 605.8h0M340.0 609.3h0M340.1 616.2h0M340.0 614.2h0M340.2 613.9h0M341.1 616.7h0M341.2 610.2h0M341.0 605.2h0M341.1 607.1h0M340.9 617.8h0M341.9 606.4h0M342.0 613.7h0M342.1 610.1h0M342.0 611.6h0M342.1 613.8h0M342.8 613.8h0M343.0 618.9h0M343.0 616.0h0M342.9 613.4h0M343.0 618.9h0M343.8 618.9h0M343.9 610.3h0M343.7 614.3h0M343.7 610.9h0M344.0 614.5h0M344.9 612.3h0M344.7 610.3h0M344.9 614.6h0M344.8 617.8h0M344.7 610.1h0M345.8 613.1h0M345.6 616.6h0M345.6 611.4h0M345.8 616.0h0M345.6 611.2h0M346.5 609.0h0M346.7 618.9h0M346.6 613.2h0M346.6 618.9h0M346.5 611.8h0M347.5 615.9h0M347.4 618.9h0M347.6 614.7h0M347.5 612.0h0M347.7 614.7h0M348.4 613.6h0M348.5 613.6h0M348.6 612.1h0M348.5 610.0h0M348.6 613.8h0M349.4 616.4h0M349.5 610.3h0M349.3 615.8h0M349.3 616.6h0M349.2 618.9h0M350.4 613.0h0M350.3 616.0h0M350.3 617.5h0M350.3 610.8h0M350.4 613.2h0M351.1 611.5h0M351.3 615.6h0M351.3 612.2h0M351.2 616.2h0M351.1 618.9h0M352.0 614.2h0M352.0 616.8h0M352.2 617.4h0M352.1 614.0h0M352.2 615.2h0M353.0 616.4h0M353.0 616.2h0M353.1 613.4h0M353.1 616.5h0M353.1 614.5h0M353.9 618.1h0M354.0 616.4h0M354.1 618.9h0M354.0 614.7h0M354.0 615.1h0M354.9 612.1h0M354.8 613.1h0M354.8 615.9h0M354.8 618.2h0M354.9 611.4h0M355.9 615.2h0M355.7 618.9h0M355.8 611.0h0M355.8 616.2h0M355.7 613.3h0M356.8 608.8h0M356.8 612.8h0M356.8 615.7h0M356.7 616.4h0M356.7 614.1h0M357.7 614.8h0M357.6 613.8h0M357.6 611.5h0M357.7 614.0h0M357.7 618.9h0M358.5 616.9h0M358.6 617.7h0M358.6 611.0h0M358.5 618.9h0M358.6 615.8h0M359.6 610.8h0M359.4 616.2h0M359.5 618.9h0M359.4 615.1h0M359.6 616.3h0M360.5 618.9h0M360.5 612.4h0M360.4 615.6h0M360.3 618.9h0M360.3 614.3h0M361.4 615.2h0M361.5 618.5h0M361.4 618.9h0M361.5 617.8h0M361.3 618.9h0M362.4 603.3h0M362.2 618.9h0M362.3 614.8h0M362.4 618.7h0M362.2 618.9h0M363.1 613.3h0M363.1 612.5h0M363.3 613.8h0M363.3 613.4h0M363.1 604.5h0M364.0 612.6h0M364.2 612.2h0M364.1 612.0h0M364.2 616.4h0M364.1 616.9h0M365.0 609.2h0M365.1 610.0h0M365.1 614.2h0M365.0 611.2h0M365.1 615.1h0M365.9 615.5h0M366.1 605.9h0M366.0 604.0h0M365.9 614.1h0M366.0 616.4h0M366.9 611.2h0M366.9 614.7h0M366.8 610.8h0M366.8 614.1h0M366.9 610.5h0M367.7 610.7h0M368.0 603.4h0M367.9 614.3h0M368.0 606.1h0M367.9 609.5h0M368.8 612.1h0M368.8 605.9h0M368.6 609.5h0M368.7 608.2h0M368.7 609.5h0M369.7 604.8h0M369.6 609.4h0M369.6 609.2h0M369.7 611.9h0M369.7 617.5h0M370.6 606.4h0M370.7 600.4h0M370.6 604.3h0M370.6 606.5h0M370.7 606.7h0M371.5 606.7h0M371.6 618.8h0M371.4 606.0h0M371.4 601.6h0M371.5 611.0h0M372.5 608.5h0M372.5 614.4h0M372.4 608.4h0M372.4 605.6h0M372.4 607.6h0M373.4 606.5h0M373.4 610.5h0M373.4 604.6h0M373.3 603.3h0M373.4 607.9h0M374.3 606.2h0M374.4 610.6h0M374.3 606.0h0M374.4 605.7h0M374.3 603.2h0M375.1 602.6h0M375.1 605.9h0M375.4 602.8h0M375.2 600.5h0M375.2 612.7h0M376.3 594.5h0M376.2 604.0h0M376.2 599.9h0M376.2 609.2h0M376.2 604.8h0M377.1 603.7h0M377.2 608.8h0M377.1 598.0h0M377.1 603.5h0M377.0 597.0h0M378.0 608.8h0M378.0 605.3h0M378.0 600.5h0M377.9 598.4h0M378.0 606.2h0M379.0 607.7h0M379.0 596.5h0M378.9 600.7h0M378.9 597.8h0M378.9 602.2h0M379.9 595.2h0M379.9 598.3h0M379.9 606.2h0M380.0 602.7h0M379.9 588.2h0M380.7 601.3h0M380.9 595.1h0M380.6 594.5h0M380.6 602.7h0M380.9 608.5h0M381.8 613.4h0M381.7 590.5h0M381.6 603.3h0M381.7 603.9h0M381.7 587.9h0M382.5 596.4h0M382.6 600.9h0M382.7 606.9h0M382.5 595.3h0M382.5 602.6h0M383.4 595.2h0M383.5 595.7h0M383.5 594.4h0M383.5 597.1h0M383.6 589.3h0M384.4 596.6h0M384.5 586.0h0M384.4 601.0h0M384.3 589.2h0M384.4 588.9h0M385.4 604.1h0M385.5 589.5h0M385.4 598.9h0M385.3 591.9h0M385.4 596.8h0M386.2 591.5h0M386.2 598.0h0M386.2 598.3h0M386.3 600.7h0M386.4 611.2h0M387.2 589.2h0M387.1 598.5h0M387.2 597.4h0M387.3 593.1h0M387.2 602.0h0M388.2 587.9h0M388.1 601.9h0M388.1 594.2h0M388.1 593.8h0M388.0 591.0h0M389.0 588.9h0M389.0 582.8h0M388.9 589.3h0M389.1 597.7h0M389.1 598.9h0M389.9 592.7h0M390.1 590.4h0M390.1 594.2h0M389.9 593.4h0M389.9 591.6h0M390.8 587.6h0M390.8 577.8h0M390.9 591.1h0M390.9 598.2h0M391.0 587.6h0M391.9 589.1h0M391.8 594.6h0M391.9 578.0h0M391.8 594.5h0M392.0 590.3h0M392.8 594.2h0M392.7 591.9h0M392.7 586.5h0M392.7 588.1h0M392.9 585.2h0M393.6 587.3h0M393.6 592.3h0M393.6 589.8h0M393.8 586.1h0M393.5 587.0h0M394.5 590.1h0M394.6 592.9h0M394.5 579.7h0M394.5 584.1h0M394.7 583.4h0M395.5 585.4h0M395.5 591.4h0M395.5 589.7h0M395.6 582.4h0M395.6 583.2h0M396.5 583.4h0M396.5 589.4h0M396.4 586.8h0M396.5 584.4h0M396.4 581.0h0M397.4 587.6h0M397.2 580.9h0M397.4 586.5h0M397.4 581.7h0M397.4 583.8h0M398.3 587.0h0M398.2 586.0h0M398.4 584.0h0M398.3 585.2h0M398.3 580.7h0M399.1 578.9h0M399.2 581.2h0M399.1 580.6h0M399.3 581.5h0M399.2 583.5h0M400.1 581.2h0M400.1 582.0h0M400.1 583.5h0M400.0 586.2h0M400.1 586.6h0M401.1 578.5h0M401.0 582.7h0M401.0 583.8h0M401.0 579.6h0M401.0 584.2h0M402.0 580.4h0M402.1 581.4h0M402.1 579.8h0M401.9 582.2h0M402.0 581.7h0M403.0 579.7h0M402.9 580.3h0M402.8 578.1h0M402.9 578.9h0M402.9 577.6h0M403.8 583.9h0M403.7 584.5h0M403.7 582.2h0M403.7 580.8h0M403.7 578.8h0M404.8 582.3h0M404.7 581.8h0M404.9 581.4h0M404.7 581.3h0M404.7 582.3h0M405.5 617.2h0M405.7 578.0h0M405.8 580.4h0M405.6 579.4h0M405.6 580.9h0M406.5 579.5h0M406.6 582.3h0M406.7 581.7h0M406.6 577.8h0M406.7 583.7h0M407.5 578.9h0M407.6 580.6h0M407.4 617.1h0M407.4 580.2h0M407.5 577.7h0M408.3 579.6h0M408.4 582.1h0M408.5 580.5h0M408.4 578.2h0M408.4 580.5h0M409.3 580.4h0M409.4 580.9h0M409.4 579.9h0M409.3 578.3h0M409.4 580.9h0M410.4 580.6h0M410.2 578.9h0M410.4 580.3h0M410.4 582.0h0M410.4 579.5h0M411.2 579.8h0M411.2 577.6h0M411.3 578.2h0M411.3 581.0h0M411.3 577.8h0M412.2 579.6h0M412.2 583.5h0M412.3 581.2h0M412.3 583.0h0M412.2 577.8h0M413.0 582.1h0M413.0 578.9h0M413.0 581.4h0M413.1 578.0h0M413.2 579.9h0M413.9 582.6h0M414.0 582.0h0M413.9 582.7h0M413.9 579.3h0M414.1 582.6h0M415.0 580.7h0M415.0 578.7h0M414.9 594.5h0M414.9 579.1h0M414.9 582.0h0M415.9 577.7h0M415.9 577.8h0M415.9 583.0h0M415.8 578.2h0M415.8 580.6h0M416.8 579.7h0M416.7 582.3h0M416.6 578.3h0M416.8 581.5h0M416.6 577.9h0M417.6 580.2h0M417.6 580.6h0M417.7 580.9h0M417.8 577.5h0M417.7 579.7h0M418.5 588.1h0M418.7 578.6h0M418.6 580.1h0M418.7 580.4h0M418.5 582.2h0M419.5 578.3h0M419.6 580.7h0M419.6 579.9h0M419.5 582.1h0M419.5 578.9h0M420.5 578.4h0M420.5 577.7h0M420.5 579.3h0M420.5 577.6h0M420.4 579.4h0M421.3 577.8h0M421.4 582.1h0M421.3 580.3h0M421.4 577.6h0M421.5 577.8h0M422.4 581.3h0M422.2 582.5h0M422.3 582.5h0M422.4 580.8h0M422.4 579.4h0M423.3 590.1h0M423.1 579.2h0M423.2 579.6h0M423.4 582.5h0M423.2 579.1h0M424.2 578.6h0M424.2 577.6h0M424.2 579.7h0M424.3 581.5h0M424.1 581.5h0M425.2 582.8h0M425.1 594.8h0M425.0 581.8h0M424.9 581.3h0M425.2 582.7h0M426.1 580.6h0M426.1 582.9h0M426.0 578.8h0M426.0 580.2h0M425.9 578.7h0M426.9 579.0h0M426.9 577.5h0M426.8 582.2h0M426.9 580.8h0M426.8 577.5h0M427.8 578.4h0M427.7 579.5h0M427.8 578.0h0M427.7 579.4h0M427.9 581.7h0M428.9 580.7h0M428.9 582.0h0M428.8 578.5h0M428.9 579.3h0M428.8 582.7h0M429.8 579.0h0M429.6 577.9h0M429.6 580.0h0M429.8 582.1h0M429.5 581.1h0M430.7 579.1h0M430.6 578.4h0M430.6 577.4h0M430.7 580.3h0M430.5 579.9h0M431.4 579.7h0M431.4 578.4h0M431.5 579.3h0M431.4 579.2h0M431.7 580.0h0M432.4 583.9h0M432.5 577.5h0M432.4 579.2h0M432.3 580.9h0M432.5 579.2h0M433.4 582.3h0M433.3 582.2h0M433.5 579.6h0M433.4 577.4h0M433.4 577.8h0M434.3 581.1h0M434.2 580.8h0M434.3 582.3h0M434.3 580.1h0M434.2 583.8h0M435.1 579.8h0M435.2 583.2h0M435.1 581.3h0M435.3 581.1h0M435.1 579.5h0M436.2 580.5h0M436.1 580.2h0M436.1 579.4h0M436.1 617.7h0M436.2 579.6h0M437.0 580.4h0M437.0 582.4h0M437.1 577.8h0M437.2 580.5h0M437.1 577.6h0M437.9 578.2h0M438.0 580.8h0M437.9 580.4h0M438.1 582.9h0M438.0 577.5h0M439.0 580.7h0M439.0 582.6h0M439.0 579.6h0M438.9 580.3h0M439.0 579.4h0M440.0 580.0h0M439.9 578.3h0M439.8 578.6h0M440.0 581.8h0M439.9 578.9h0M440.8 579.5h0M440.8 580.3h0M440.7 585.3h0M440.9 581.1h0M440.7 578.8h0M441.6 578.2h0M441.8 581.6h0M441.8 578.6h0M441.8 577.6h0M441.8 581.6h0M442.5 581.2h0M442.6 578.2h0M442.6 579.3h0M442.5 579.3h0M442.7 581.1h0M443.4 579.7h0M443.6 580.1h0M443.6 582.1h0M443.6 578.4h0M443.4 578.9h0M444.3 580.8h0M444.4 578.7h0M444.5 584.1h0M444.3 580.6h0M444.4 578.0h0M445.3 580.1h0M445.3 581.9h0M445.3 580.7h0M445.4 582.5h0M445.4 577.8h0M446.4 580.1h0M446.3 580.6h0M446.3 583.5h0M446.3 598.5h0M446.3 580.6h0M447.1 578.0h0M447.1 581.1h0M447.1 578.7h0M447.3 582.5h0M447.2 604.9h0M448.1 579.3h0M448.2 581.5h0M448.2 580.8h0M448.1 582.3h0M448.2 580.8h0M449.1 579.8h0M448.9 577.6h0M449.0 580.7h0M449.0 579.3h0M449.0 581.2h0M450.0 580.4h0M450.1 577.9h0M449.9 581.5h0M449.9 580.2h0M449.9 580.8h0M451.0 578.7h0M450.8 579.6h0M451.0 579.3h0M450.9 583.3h0M450.8 597.7h0M451.9 602.4h0M451.7 583.0h0M451.9 582.7h0M451.8 582.8h0M451.7 578.6h0M452.7 580.2h0M452.8 586.8h0M452.9 581.0h0M452.7 580.8h0M452.7 581.8h0M453.6 580.5h0M453.8 582.7h0M453.8 580.5h0M453.6 578.8h0M453.8 581.1h0M454.5 583.8h0M454.5 580.7h0M454.7 584.6h0M454.7 583.0h0M454.5 582.3h0M455.6 582.4h0M455.5 582.6h0M455.5 577.7h0M455.6 583.2h0M455.5 581.9h0M456.4 583.2h0M456.4 578.5h0M456.4 584.1h0M456.3 578.1h0M456.4 582.2h0M457.4 585.6h0M457.4 581.9h0M457.4 578.5h0M457.3 579.5h0M457.3 583.5h0M458.2 618.6h0M458.4 585.1h0M458.2 584.1h0M458.3 579.6h0M458.3 583.1h0M459.3 581.4h0M459.2 580.6h0M459.3 580.5h0M459.2 580.2h0M459.3 582.7h0M460.0 578.9h0M460.1 601.6h0M460.0 585.5h0M460.1 583.0h0M460.1 585.0h0M461.0 581.8h0M461.1 618.0h0M461.2 585.0h0M461.1 580.0h0M461.1 581.1h0M462.1 578.1h0M462.0 581.6h0M462.0 580.6h0M462.0 584.6h0M462.1 580.6h0M463.0 581.6h0M462.8 581.0h0M462.8 582.4h0M462.9 584.5h0M462.9 584.9h0M463.9 580.3h0M463.8 579.4h0M463.9 583.1h0M463.8 580.8h0M463.8 580.1h0M464.7 579.0h0M464.8 583.7h0M464.7 582.3h0M464.9 580.7h0M464.8 580.0h0M465.5 580.7h0M465.8 583.5h0M465.7 580.2h0M465.8 585.3h0M465.6 581.3h0M466.7 579.0h0M466.5 587.1h0M466.6 579.0h0M466.5 583.7h0M466.5 577.5h0M467.4 583.4h0M467.6 583.6h0M467.4 580.0h0M467.5 580.9h0M467.6 579.0h0M468.5 582.7h0M468.4 582.5h0M468.4 580.9h0M468.5 587.3h0M468.5 586.3h0M469.4 586.5h0M469.2 587.8h0M469.4 584.1h0M469.3 582.0h0M469.3 581.9h0M470.3 588.0h0M470.2 582.9h0M470.3 582.0h0M470.3 586.9h0M470.2 580.1h0M471.3 582.9h0M471.3 585.7h0M471.1 578.6h0M471.3 582.6h0M471.3 587.1h0M472.3 584.8h0M472.1 582.6h0M472.3 585.5h0M472.1 581.6h0M472.0 617.8h0M473.2 582.5h0M473.0 583.6h0M473.1 582.2h0M473.1 579.8h0M473.1 579.8h0M474.0 586.4h0M474.0 582.7h0M473.9 578.9h0M474.1 584.1h0M474.0 582.4h0M474.9 585.4h0M475.0 584.0h0M475.0 585.8h0M475.0 585.5h0M475.0 584.2h0M475.8 580.9h0M475.9 583.6h0M475.9 617.5h0M475.8 581.0h0M475.9 592.0h0M476.7 585.1h0M476.7 586.0h0M476.7 581.1h0M476.8 592.0h0M476.8 593.8h0M477.7 584.5h0M477.6 582.1h0M477.5 587.4h0M477.6 582.8h0M477.6 581.9h0M478.6 587.3h0M478.6 581.8h0M478.7 586.7h0M478.5 586.4h0M478.7 588.0h0M479.6 585.4h0M479.6 586.2h0M479.7 584.6h0M479.6 583.2h0M479.5 585.8h0M480.4 586.2h0M480.3 584.5h0M480.6 590.3h0M480.3 585.3h0M480.4 584.9h0M481.5 581.8h0M481.5 584.7h0M481.3 586.4h0M481.4 580.8h0M481.2 587.8h0M482.2 582.3h0M482.3 618.2h0M482.3 584.6h0M482.2 582.0h0M482.2 581.8h0M483.3 584.9h0M483.2 583.6h0M483.1 584.7h0M483.1 584.8h0M483.3 583.1h0M484.2 586.7h0M484.0 582.7h0M484.3 588.5h0M484.1 584.4h0M484.3 580.1h0M485.1 583.6h0M485.1 584.2h0M485.0 585.0h0M485.1 582.8h0M485.0 580.0h0M486.0 580.8h0M485.9 583.5h0M486.0 585.9h0M485.9 587.6h0M485.9 586.9h0M486.8 579.7h0M487.0 584.1h0M486.8 587.0h0M486.9 581.9h0M486.9 583.2h0M487.7 584.0h0M487.8 584.0h0M487.9 584.2h0M487.9 581.8h0M487.9 591.4h0M488.7 587.8h0M488.7 618.6h0M488.7 590.2h0M488.8 582.9h0M488.7 581.4h0M489.5 583.1h0M489.6 582.8h0M489.8 582.9h0M489.6 587.2h0M489.6 582.6h0M490.5 585.8h0M490.7 583.0h0M490.5 584.7h0M490.6 587.3h0M490.6 589.7h0M491.4 586.0h0M491.6 583.1h0M491.4 585.4h0M491.6 584.3h0M491.4 589.3h0M492.5 595.4h0M492.4 583.9h0M492.4 584.5h0M492.4 587.2h0M492.4 587.0h0M493.3 587.1h0M493.2 584.6h0M493.5 598.7h0M493.5 581.8h0M493.2 583.3h0M494.4 585.7h0M494.3 587.1h0M494.2 580.1h0M494.2 581.6h0M494.2 584.8h0M495.3 579.4h0M495.2 587.4h0M495.3 581.2h0M495.1 582.3h0M495.3 581.6h0M496.0 585.3h0M496.1 588.3h0M496.3 588.9h0M496.0 584.1h0M496.1 583.2h0M497.2 584.5h0M497.1 582.4h0M497.0 584.8h0M497.1 584.4h0M496.9 585.3h0M497.9 583.2h0M497.9 578.2h0M498.0 582.1h0M498.0 581.7h0M497.9 583.5h0M499.0 584.9h0M498.8 583.3h0M498.8 582.0h0M498.8 582.2h0M498.8 580.5h0M499.8 583.8h0M499.7 583.5h0M499.9 584.4h0M499.7 584.5h0M499.7 584.6h0M500.7 580.8h0M500.8 580.0h0M500.9 585.8h0M500.8 579.5h0M500.7 585.6h0M501.8 581.5h0M501.6 585.7h0M501.6 582.5h0M501.6 580.0h0M501.5 585.2h0M502.6 583.6h0M502.7 582.4h0M502.5 582.0h0M502.6 581.0h0M502.5 580.8h0M503.7 586.2h0M503.5 579.9h0M503.5 583.5h0M503.4 584.4h0M503.6 583.5h0M504.3 584.8h0M504.4 581.4h0M504.5 583.4h0M504.3 588.5h0M504.6 580.9h0M505.3 577.7h0M505.5 581.9h0M505.3 584.6h0M505.5 578.0h0M505.3 587.6h0M506.2 581.2h0M506.2 582.3h0M506.4 579.6h0M506.3 581.0h0M506.2 578.4h0M507.3 581.7h0M507.3 582.9h0M507.1 585.9h0M507.1 580.4h0M507.3 579.4h0M508.0 578.3h0M508.0 580.1h0M508.1 587.3h0M508.2 582.1h0M508.2 578.1h0M509.0 584.1h0M509.0 577.4h0M509.1 584.5h0M509.1 580.4h0M509.0 586.1h0M509.9 584.2h0M510.0 586.5h0M509.8 588.3h0M510.0 578.0h0M510.1 587.7h0M510.8 579.5h0M510.8 584.6h0M511.0 579.4h0M510.9 578.6h0M510.8 578.4h0M511.7 586.2h0M511.9 581.6h0M511.7 584.0h0M511.8 587.1h0M511.7 583.5h0M512.8 586.6h0M512.6 582.1h0M512.8 578.7h0M512.9 583.1h0M512.7 583.0h0M513.7 581.9h0M513.6 585.0h0M513.7 578.6h0M513.6 580.9h0M513.8 584.7h0M514.7 582.7h0M514.6 577.5h0M514.6 580.4h0M514.6 587.9h0M514.7 584.4h0M515.4 581.3h0M515.6 578.3h0M515.6 581.1h0M515.4 585.5h0M515.6 579.6h0M516.3 585.7h0M516.4 577.5h0M516.5 577.6h0M516.3 581.6h0M516.5 585.4h0M517.4 578.5h0M517.5 592.1h0M517.4 587.1h0M517.3 580.7h0M517.5 581.4h0M518.2 580.5h0M518.3 584.7h0M518.4 577.3h0M518.3 584.5h0M518.3 580.2h0M519.1 586.4h0M519.3 588.6h0M519.1 586.3h0M519.2 588.1h0M519.3 577.4h0M520.2 582.1h0M520.2 577.7h0M520.3 579.9h0M520.1 581.6h0M520.1 586.7h0M521.0 583.3h0M521.0 580.4h0M521.1 580.4h0M521.1 589.9h0M521.1 581.4h0M521.9 604.5h0M521.9 590.1h0M521.9 581.9h0M521.9 581.1h0M522.0 583.9h0M523.0 586.2h0M522.9 588.9h0M523.0 615.5h0M522.8 603.4h0M522.9 585.2h0M523.9 585.5h0M523.9 581.1h0M523.7 584.9h0M524.0 582.9h0M523.9 586.8h0M524.7 578.9h0M524.9 584.2h0M524.8 606.6h0M524.7 581.2h0M524.7 581.8h0M525.7 586.8h0M525.7 578.5h0M525.7 580.0h0M525.6 592.0h0M525.8 587.9h0M526.5 586.5h0M526.5 589.2h0M526.5 586.3h0M526.6 587.6h0M526.6 581.9h0M527.5 580.9h0M527.6 588.9h0M527.6 589.3h0M527.5 587.2h0M527.5 583.9h0M528.5 589.7h0M528.5 600.7h0M528.5 580.1h0M528.5 594.4h0M528.4 580.5h0M529.2 581.8h0M529.3 584.7h0M529.5 586.1h0M529.3 587.7h0M529.5 579.6h0M530.3 595.3h0M530.3 617.1h0M530.2 583.2h0M530.4 588.8h0M530.4 593.4h0M531.1 586.8h0M531.1 587.7h0M531.2 585.4h0M531.2 586.7h0M531.2 577.4h0M532.1 584.4h0M532.1 586.0h0M532.0 591.5h0M532.2 580.7h0M532.0 578.6h0M533.0 606.6h0M533.2 583.6h0M533.1 583.8h0M533.2 577.9h0M533.0 591.6h0M534.1 590.0h0M533.9 577.4h0M533.9 586.3h0M534.1 590.5h0M534.0 618.6h0M534.8 581.5h0M534.8 600.8h0M535.0 578.6h0M535.0 578.0h0M534.8 591.2h0M535.7 586.0h0M535.8 595.4h0M535.8 589.4h0M535.7 581.8h0M535.8 596.9h0M536.7 617.8h0M536.7 579.1h0M536.8 578.9h0M536.8 583.0h0M536.8 577.8h0M537.7 589.7h0M537.5 582.7h0M537.7 580.7h0M537.6 583.3h0M537.6 580.6h0M538.5 578.8h0M538.6 589.7h0M538.7 597.8h0M538.6 584.5h0M538.5 581.1h0M539.6 593.2h0M539.5 578.1h0M539.6 579.3h0M539.6 598.5h0M539.5 582.9h0M540.4 586.5h0M540.4 599.6h0M540.5 587.1h0M540.5 583.6h0M540.4 588.6h0M541.3 584.0h0M541.3 578.4h0M541.4 590.3h0M541.3 578.9h0M541.5 586.1h0M542.2 583.1h0M542.4 581.1h0M542.3 592.6h0M542.4 586.6h0M542.3 591.2h0M543.3 590.7h0M543.3 593.2h0M543.1 584.5h0M543.2 588.7h0M543.1 590.8h0M544.0 586.9h0M544.1 578.8h0M544.3 577.3h0M544.2 583.6h0M544.1 592.8h0M545.1 585.8h0M545.0 585.5h0M545.1 579.5h0M545.0 588.8h0M545.2 605.5h0M545.9 577.5h0M545.9 588.7h0M546.0 588.4h0M546.0 586.6h0M546.0 591.5h0M546.8 581.7h0M547.0 578.5h0M546.8 594.4h0M547.0 587.0h0M546.8 586.8h0M547.8 605.7h0M547.8 587.0h0M547.8 577.6h0M547.7 581.3h0M547.8 595.8h0M548.8 582.1h0M548.8 585.2h0M548.8 618.0h0M548.8 592.2h0M548.7 581.8h0M549.6 585.8h0M549.8 595.1h0M549.6 590.5h0M549.6 587.0h0M549.7 593.7h0M550.6 584.6h0M550.5 596.8h0M550.6 590.1h0M550.5 583.5h0M550.5 583.9h0M551.5 586.3h0M551.6 618.3h0M551.7 583.2h0M551.5 593.1h0M551.4 577.5h0M552.5 585.5h0M552.5 583.1h0M552.4 589.0h0M552.3 582.8h0M552.5 577.5h0M553.3 612.0h0M553.5 590.6h0M553.5 592.3h0M553.2 584.9h0M553.3 581.9h0M554.2 585.7h0M554.3 596.6h0M554.3 582.5h0M554.3 589.7h0M554.1 600.2h0M555.1 587.9h0M555.2 588.3h0M555.1 582.8h0M555.1 587.9h0M555.2 594.7h0M556.1 587.2h0M556.1 583.0h0M556.3 588.1h0M556.2 585.6h0M556.1 594.3h0M557.0 592.2h0M557.0 592.4h0M557.0 579.1h0M557.1 601.5h0M557.2 577.6h0M558.1 593.6h0M557.8 588.8h0M557.9 585.6h0M558.0 585.2h0M558.0 592.2h0M558.8 595.0h0M558.8 597.3h0M558.9 588.4h0M559.0 590.6h0M558.9 595.8h0M559.9 589.2h0M559.8 583.7h0M559.7 589.9h0M559.7 578.5h0M559.8 594.9h0M560.7 601.2h0M560.7 580.8h0M560.8 585.1h0M560.8 578.7h0M560.7 596.8h0M561.6 588.8h0M561.8 594.8h0M561.7 599.3h0M561.6 591.3h0M561.8 587.5h0M562.5 594.5h0M562.7 595.8h0M562.6 581.7h0M562.5 583.9h0M562.5 597.6h0M563.6 588.6h0M563.6 586.0h0M563.4 590.2h0M563.4 590.2h0M563.5 585.9h0M564.4 593.2h0M564.4 595.6h0M564.5 579.1h0M564.5 586.7h0M564.3 588.5h0M565.5 584.4h0M565.4 577.8h0M565.3 618.6h0M565.3 618.0h0M565.2 591.0h0M566.3 617.6h0M566.3 577.7h0M566.4 590.0h0M566.2 595.1h0M566.2 598.8h0M567.2 618.6h0M567.1 599.8h0M567.1 584.3h0M567.1 590.6h0M567.3 577.8h0M568.0 585.9h0M568.1 598.0h0M568.1 598.8h0M568.2 595.2h0M568.2 588.1h0M569.2 593.3h0M569.1 590.6h0M569.0 591.4h0M569.0 587.4h0M569.1 585.1h0M570.0 583.1h0M570.0 587.4h0M570.1 594.3h0M569.9 587.3h0M569.9 586.8h0M570.9 587.4h0M570.9 591.3h0M570.9 592.8h0M570.9 578.2h0M571.0 584.5h0M571.9 583.6h0M571.9 612.6h0M571.9 608.5h0M571.8 583.7h0M571.8 604.9h0M572.7 579.6h0M572.6 584.3h0M572.7 603.4h0M572.8 580.2h0M572.7 593.3h0M573.7 597.1h0M573.7 598.4h0M573.7 582.1h0M573.8 591.1h0M573.8 599.0h0M574.5 580.6h0M574.5 581.5h0M574.6 588.4h0M574.5 597.0h0M574.7 590.5h0M575.6 577.7h0M575.5 595.4h0M575.5 584.4h0M575.6 584.8h0M575.6 587.4h0M576.5 582.2h0M576.4 583.4h0M576.4 589.4h0M576.5 585.6h0M576.5 583.0h0M577.4 587.6h0M577.5 599.7h0M577.3 599.9h0M577.4 579.4h0M577.4 606.6h0M578.3 580.8h0M578.4 584.7h0M578.4 596.7h0M578.4 581.5h0M578.2 588.5h0M579.1 595.1h0M579.2 587.5h0M579.1 588.4h0M579.3 587.4h0M579.1 596.2h0M580.1 591.5h0M580.0 583.8h0M580.2 592.0h0M580.2 591.6h0M580.0 616.9h0M581.0 594.1h0M581.0 585.6h0M581.0 592.9h0M581.0 603.9h0M581.1 588.7h0M582.1 578.2h0M582.1 600.3h0M582.0 585.5h0M582.0 589.0h0M581.9 586.1h0M582.9 585.7h0M583.0 586.9h0M583.0 594.2h0M582.9 578.7h0M582.9 603.8h0M583.9 593.7h0M583.8 586.8h0M583.7 583.8h0M583.9 592.1h0M583.8 589.3h0M584.8 598.7h0M584.7 583.9h0M584.9 597.6h0M584.6 585.0h0M584.7 579.1h0M585.7 586.9h0M585.7 616.3h0M585.6 591.4h0M585.6 593.4h0M585.6 589.4h0M586.6 578.6h0M586.7 602.3h0M586.5 588.3h0M586.7 577.5h0M586.7 593.6h0M587.6 607.2h0M587.4 594.6h0M587.6 585.6h0M587.5 591.1h0M587.5 590.3h0M588.4 585.4h0M588.5 584.4h0M588.5 587.3h0M588.4 583.0h0M588.5 579.6h0M589.3 591.1h0M589.3 595.3h0M589.2 590.6h0M589.4 616.6h0M589.3 577.6h0M590.2 600.4h0M590.4 590.5h0M590.2 594.5h0M590.4 577.6h0M590.2 593.1h0M591.2 587.4h0M591.1 588.9h0M591.3 577.8h0M591.2 605.8h0M591.3 592.2h0M592.1 596.4h0M592.2 591.1h0M592.3 589.2h0M592.2 579.9h0M592.2 587.1h0M593.1 597.7h0M592.9 597.7h0M593.0 599.8h0M593.0 581.4h0M593.1 584.9h0M594.0 577.6h0M594.1 578.3h0M594.1 581.8h0M593.9 580.8h0M593.9 601.1h0M594.9 586.7h0M594.9 598.7h0M594.9 596.8h0M594.8 590.2h0M595.0 592.9h0M595.7 593.8h0M595.9 582.9h0M595.9 578.2h0M595.8 617.4h0M595.8 586.8h0M596.9 599.4h0M596.7 587.3h0M596.7 597.1h0M596.8 589.9h0M596.6 586.8h0M597.5 612.8h0M597.6 587.6h0M597.8 592.1h0M597.8 587.5h0M597.5 578.2h0M598.6 591.5h0M598.5 613.9h0M598.7 591.6h0M598.7 589.1h0M598.5 616.2h0M599.6 584.2h0M599.6 598.6h0M599.5 589.0h0M599.5 591.3h0M599.6 584.7h0M600.3 587.4h0M600.3 580.7h0M600.3 595.8h0M600.3 584.2h0M600.4 590.4h0M601.3 586.1h0M601.4 590.4h0M601.5 594.8h0M601.5 598.5h0M601.4 587.3h0M602.2 586.3h0M602.2 583.4h0M602.3 584.0h0M602.3 591.8h0M602.4 616.2h0M603.3 595.2h0M603.3 583.8h0M603.2 579.6h0M603.1 601.3h0M603.3 616.0h0M604.0 578.3h0M604.1 595.6h0M604.0 582.9h0M604.2 586.5h0M604.1 595.5h0M605.1 586.5h0M605.1 583.3h0M604.9 581.6h0M605.1 584.3h0M605.2 594.3h0M605.9 580.5h0M606.0 591.3h0M605.9 586.2h0M606.0 604.3h0M606.0 595.4h0M607.0 596.5h0M606.9 588.8h0M606.8 598.0h0M606.9 591.6h0M606.9 591.8h0M607.9 587.6h0M607.7 581.2h0M607.9 582.4h0M607.9 586.8h0M607.8 588.7h0M608.8 577.4h0M608.7 597.6h0M608.8 596.6h0M608.7 581.6h0M608.8 593.5h0M609.6 594.5h0M609.6 586.1h0M609.5 595.8h0M609.8 585.3h0M609.7 591.1h0M610.6 595.7h0M610.7 593.4h0M610.7 606.9h0M610.7 600.5h0M610.5 592.0h0M611.6 582.7h0M611.6 578.3h0M611.6 598.9h0M611.5 583.6h0M611.6 590.4h0M612.4 591.6h0M612.3 592.2h0M612.6 590.0h0M612.5 586.9h0M612.5 598.7h0M613.3 583.6h0M613.2 594.9h0M613.2 587.5h0M613.4 603.8h0M613.3 591.3h0M614.4 583.1h0M614.3 599.4h0M614.3 587.0h0M614.2 581.3h0M614.1 596.1h0M615.2 584.1h0M615.2 600.3h0M615.2 584.5h0M615.2 582.2h0M615.2 587.7h0M616.2 581.0h0M616.1 592.8h0M616.2 594.2h0M616.2 581.1h0M616.1 593.0h0M616.9 585.2h0M617.1 594.2h0M617.0 600.4h0M617.1 577.5h0M617.0 586.8h0M617.8 589.3h0M617.9 580.3h0M617.9 592.6h0M618.0 586.4h0M618.1 587.3h0M618.9 578.7h0M618.9 592.0h0M618.8 613.9h0M618.9 586.0h0M618.9 585.0h0M619.9 597.6h0M619.9 584.9h0M619.9 582.7h0M619.7 578.6h0M619.8 581.6h0M620.7 584.4h0M620.6 582.7h0M620.8 596.9h0M620.7 606.4h0M620.8 601.3h0M621.6 579.4h0M621.6 588.4h0M621.5 585.8h0M621.6 578.3h0M621.7 615.5h0M622.6 587.7h0M622.7 616.7h0M622.5 588.1h0M622.7 595.1h0M622.5 590.8h0M623.6 589.0h0M623.5 590.9h0M623.6 607.8h0M623.5 594.3h0M623.4 586.1h0M624.3 589.7h0M624.4 601.4h0M624.5 584.5h0M624.6 586.9h0M624.4 593.5h0M625.3 617.8h0M625.4 586.6h0M625.4 595.3h0M625.5 596.7h0M625.2 582.6h0M626.4 578.9h0M626.4 590.7h0M626.2 580.2h0M626.3 592.1h0M626.1 591.8h0M627.3 577.5h0M627.3 589.8h0M627.2 578.3h0M627.2 586.6h0M627.1 593.7h0M628.2 578.7h0M628.2 587.1h0M628.2 590.2h0M628.1 590.3h0M628.3 577.4h0M629.0 603.2h0M629.0 589.5h0M629.0 593.9h0M629.0 577.5h0M629.0 590.7h0M629.8 586.9h0M630.1 587.2h0M630.1 587.0h0M629.9 587.6h0M630.0 593.5h0M630.9 585.9h0M630.9 585.0h0M630.8 618.8h0M630.9 577.7h0M630.8 601.7h0M631.8 578.2h0M631.8 596.3h0M631.7 599.0h0M631.8 591.3h0M631.9 581.6h0M632.7 596.0h0M632.8 583.9h0M632.8 606.9h0M632.8 588.6h0M632.8 590.8h0M633.7 588.5h0M633.7 584.5h0M633.6 598.2h0M633.8 587.5h0M633.8 587.4h0M634.5 588.7h0M634.7 587.7h0M634.6 590.6h0M634.5 581.0h0M634.6 590.6h0M635.4 581.0h0M635.6 580.5h0M635.5 583.2h0M635.5 592.1h0M635.4 587.8h0M636.3 582.6h0M636.3 595.2h0M636.4 590.2h0M636.4 592.0h0M636.4 612.4h0M637.3 580.0h0M637.2 598.9h0M637.4 595.3h0M637.5 583.1h0M637.4 581.6h0M638.2 582.4h0M638.1 588.3h0M638.3 616.9h0M638.2 606.9h0M638.2 582.8h0M639.3 580.3h0M639.3 584.8h0M639.2 577.7h0M639.1 592.8h0M639.1 578.0h0M640.0 583.2h0M640.0 607.3h0M640.1 589.9h0M640.2 584.3h0M640.0 586.5h0M641.1 615.8h0M640.9 592.0h0M641.0 585.6h0M641.0 583.3h0M641.0 585.5h0M642.0 590.9h0M641.9 589.7h0M642.1 585.5h0M642.0 593.5h0M641.9 587.7h0M642.9 588.4h0M642.8 587.0h0M642.8 592.0h0M642.8 593.6h0M642.9 584.7h0M643.8 590.3h0M643.7 593.4h0M643.9 589.4h0M643.9 596.5h0M643.7 578.6h0M644.7 585.9h0M644.9 586.4h0M644.6 596.2h0M644.7 581.2h0M644.8 579.9h0M645.5 585.5h0M645.6 580.6h0M645.6 577.5h0M645.6 603.0h0M645.8 614.3h0M646.5 585.8h0M646.5 592.2h0M646.6 591.3h0M646.6 608.0h0M646.5 582.6h0M647.5 578.7h0M647.6 592.1h0M647.6 599.5h0M647.4 592.9h0M647.4 590.0h0M648.5 617.5h0M648.4 596.0h0M648.5 584.4h0M648.4 589.9h0M648.4 588.6h0M649.4 594.7h0M649.3 590.2h0M649.4 592.1h0M649.4 589.0h0M649.3 590.3h0M650.2 585.9h0M650.3 584.8h0M650.3 593.7h0M650.4 586.7h0M650.3 583.5h0M651.1 598.0h0M651.3 609.2h0M651.3 583.3h0M651.3 581.8h0M651.1 587.1h0M652.0 578.2h0M652.1 589.9h0M652.0 586.7h0M652.1 602.2h0M652.2 580.4h0M653.1 592.4h0M653.1 588.5h0M653.1 583.9h0M653.1 587.5h0M653.1 606.5h0M654.0 582.8h0M653.9 582.6h0M653.9 581.6h0M653.9 588.2h0M654.0 583.9h0M86.3 578.8h0" stroke="#a8a8a8" stroke-width="1.55" stroke-linecap="round" fill="none"/>
<path d="M105.7 618.6h0M107.1 618.6h0M125.1 618.6h0M126.5 618.5h0M127.9 618.6h0M174.6 618.5h0M234.9 618.9h0M278.7 618.7h0M352.5 618.5h0M356.9 618.6h0" stroke="#46c86c" stroke-width="2.75" stroke-linecap="round" fill="none"/>
<path d="M102.8 618.5h0M110.7 618.5h0M113.3 618.5h0M115.9 618.5h0M120.7 618.5h0M132.5 603.5h0M134.3 611.2h0M134.3 618.5h0M140.4 593.7h0M157.0 603.5h0M160.9 609.1h0M162.3 618.5h0M171.1 608.2h0M172.2 615.5h0M178.1 618.5h0M184.2 618.5h0M191.2 592.9h0M235.3 618.5h0M243.7 618.5h0M247.6 582.2h0M256.3 618.5h0M284.3 618.5h0M285.2 618.5h0M295.2 618.5h0M305.4 618.5h0M341.5 609.1h0M342.4 618.0h0M371.0 618.0h0M389.5 597.5h0M393.9 594.6h0M409.2 578.3h0M412.9 577.5h0M423.9 580.5h0M434.0 577.5h0M436.1 578.3h0M439.8 577.9h0M442.8 577.7h0M448.0 578.8h0M458.8 581.3h0M461.1 584.7h0M464.8 581.8h0M467.3 584.7h0M469.9 589.9h0M474.3 581.8h0M476.5 581.3h0M474.9 583.5h0M494.8 587.3h0M501.0 582.2h0M505.9 583.0h0M509.3 581.3h0M509.6 618.0h0M514.4 579.6h0M515.9 578.3h0M517.4 590.7h0M520.2 581.8h0M526.1 604.4h0M532.6 579.2h0M536.3 577.5h0M537.1 598.8h0M543.7 598.8h0M544.7 618.0h0M547.6 580.0h0M548.7 585.2h0M556.0 579.2h0M556.0 582.6h0M559.4 589.4h0M579.0 578.8h0M592.6 578.8h0M593.6 598.8h0M599.1 580.5h0M626.2 589.4h0M641.8 605.7h0M644.5 618.0h0M483.7 618.0h0" stroke="#4452a6" stroke-width="2.75" stroke-linecap="round" fill="none"/>
<path d="M405.6 577.9h0M414.3 577.7h0M419.2 577.5h0M425.2 578.3h0M428.2 582.2h0M430.3 578.3h0M431.1 577.9h0M434.8 578.3h0M439.8 577.7h0M444.3 578.3h0M445.4 582.2h0M446.3 579.2h0M454.4 579.8h0M460.1 588.6h0M463.2 586.4h0M467.5 581.3h0M471.2 582.6h0M479.2 586.4h0M487.4 581.8h0M492.5 586.4h0M493.3 587.7h0M496.6 589.4h0M499.8 584.7h0M504.9 580.5h0M510.0 579.2h0M512.7 586.4h0M521.0 579.6h0M534.8 581.3h0M535.5 582.6h0M541.5 580.5h0M542.8 584.3h0M546.3 578.3h0M560.4 578.3h0M564.3 578.8h0M590.2 582.2h0M600.0 586.4h0M601.4 585.2h0M604.8 578.3h0M604.8 581.3h0M613.8 601.0h0M618.5 584.3h0M628.7 583.5h0M632.5 580.5h0M635.4 584.7h0M652.0 583.5h0M652.9 598.8h0M550.3 616.8h0" stroke="#c6532e" stroke-width="2.75" stroke-linecap="round" fill="none"/>
<text x="56.6" y="621.5" font-size="7.9" text-anchor="end" fill="#333333" font-weight="normal" >0.0</text>
<text x="56.6" y="600.1" font-size="7.9" text-anchor="end" fill="#333333" font-weight="normal" >0.5</text>
<text x="56.6" y="578.8" font-size="7.9" text-anchor="end" fill="#333333" font-weight="normal" >1.0</text>
<text x="85.4" y="627.4" font-size="8.1" text-anchor="middle" fill="#333333" font-weight="normal" >0</text>
<text x="177.7" y="627.4" font-size="8.1" text-anchor="middle" fill="#333333" font-weight="normal" >100</text>
<text x="270.0" y="627.4" font-size="8.1" text-anchor="middle" fill="#333333" font-weight="normal" >200</text>
<text x="362.3" y="627.4" font-size="8.1" text-anchor="middle" fill="#333333" font-weight="normal" >300</text>
<text x="454.6" y="627.4" font-size="8.1" text-anchor="middle" fill="#333333" font-weight="normal" >400</text>
<text x="546.9" y="627.4" font-size="8.1" text-anchor="middle" fill="#333333" font-weight="normal" >500</text>
<text x="639.2" y="627.4" font-size="8.1" text-anchor="middle" fill="#333333" font-weight="normal" >600</text>
<text x="0" y="0" font-size="9.4" fill="#333333" text-anchor="middle" transform="translate(24.0,597.9) rotate(-90)">Maverick</text>
<text x="0" y="0" font-size="9.4" fill="#333333" text-anchor="middle" transform="translate(33.5,597.9) rotate(-90)">Dominant</text>
<text x="0" y="0" font-size="9.4" fill="#333333" text-anchor="middle" transform="translate(43.0,597.9) rotate(-90)">Score</text>
<rect x="58.0" y="634.3" width="625.4" height="46.2" fill="none" stroke="#999" stroke-width="1.2"/>
<path d="M86.2 677.1h0M86.3 678.2h0M86.4 676.7h0M86.2 677.3h0M86.3 676.9h0M87.2 678.4h0M87.2 677.4h0M87.2 677.3h0M87.2 677.8h0M87.1 678.2h0M88.0 675.9h0M88.1 677.0h0M88.1 677.8h0M88.1 677.2h0M88.1 676.6h0M89.0 677.7h0M89.1 677.7h0M89.2 677.1h0M89.2 677.9h0M89.0 678.0h0M90.0 677.5h0M90.0 677.5h0M90.0 678.2h0M90.0 677.0h0M90.0 676.9h0M91.0 677.3h0M91.1 677.4h0M91.0 678.5h0M91.0 678.6h0M91.0 677.1h0M92.0 676.8h0M91.8 678.3h0M91.8 677.6h0M91.8 678.3h0M91.9 677.4h0M92.7 676.9h0M92.7 676.9h0M92.8 678.7h0M92.8 677.6h0M92.9 678.0h0M93.7 677.3h0M93.7 677.4h0M93.7 677.2h0M93.8 678.1h0M93.6 676.7h0M94.7 678.0h0M94.7 678.1h0M94.6 678.3h0M94.5 678.0h0M94.6 677.0h0M95.7 678.5h0M95.6 677.6h0M95.5 678.2h0M95.6 677.3h0M95.4 678.7h0M96.5 678.0h0M96.6 677.6h0M96.5 676.3h0M96.5 676.6h0M96.5 677.1h0M97.4 677.1h0M97.4 678.6h0M97.3 677.0h0M97.4 677.3h0M97.3 677.6h0M98.3 678.0h0M98.4 677.0h0M98.4 677.3h0M98.2 676.9h0M98.4 677.5h0M99.2 676.8h0M99.2 675.9h0M99.1 678.2h0M99.2 678.3h0M99.4 676.2h0M100.2 677.3h0M100.2 677.0h0M100.0 677.3h0M100.2 678.2h0M100.3 676.2h0M101.1 678.6h0M101.0 677.3h0M101.2 676.8h0M101.1 677.9h0M101.0 675.5h0M101.9 677.4h0M102.0 676.8h0M102.1 678.9h0M102.0 677.0h0M102.1 678.3h0M103.0 677.0h0M102.9 677.5h0M102.8 677.3h0M102.9 677.2h0M102.9 677.1h0M103.9 677.0h0M103.9 677.3h0M103.9 677.5h0M104.0 677.9h0M103.9 677.9h0M104.9 677.8h0M104.7 677.3h0M104.8 677.0h0M104.7 677.9h0M104.8 676.5h0M105.8 677.2h0M105.8 676.7h0M105.6 677.6h0M105.6 677.0h0M105.8 677.6h0M106.5 677.9h0M106.7 678.8h0M106.7 676.9h0M106.6 677.8h0M106.6 677.1h0M107.4 677.3h0M107.4 677.5h0M107.6 677.3h0M107.5 677.6h0M107.5 677.3h0M108.5 675.9h0M108.6 678.5h0M108.5 678.6h0M108.5 678.0h0M108.6 677.4h0M109.5 677.5h0M109.3 677.2h0M109.4 677.3h0M109.4 677.0h0M109.5 677.9h0M110.4 676.7h0M110.3 678.0h0M110.4 677.5h0M110.3 677.7h0M110.3 676.0h0M111.3 677.4h0M111.2 677.7h0M111.3 678.6h0M111.3 676.6h0M111.1 677.1h0M112.1 676.7h0M112.0 676.1h0M112.3 676.7h0M112.1 677.2h0M112.1 677.5h0M113.2 678.2h0M113.1 676.3h0M113.0 678.5h0M113.1 677.0h0M113.1 678.1h0M114.1 676.8h0M114.0 677.5h0M114.0 677.7h0M114.0 677.3h0M114.1 677.4h0M114.8 676.5h0M114.9 676.5h0M114.9 677.0h0M115.0 677.7h0M114.9 677.2h0M115.8 678.0h0M115.9 676.5h0M115.9 678.1h0M115.9 678.1h0M115.8 676.5h0M116.8 678.0h0M116.9 678.5h0M116.8 678.2h0M116.9 677.5h0M116.8 678.3h0M117.8 677.3h0M117.6 677.4h0M117.8 676.8h0M117.6 677.4h0M117.6 677.7h0M118.6 676.1h0M118.6 676.7h0M118.6 676.6h0M118.5 678.1h0M118.5 676.9h0M119.7 677.6h0M119.5 676.7h0M119.5 677.2h0M119.7 677.2h0M119.6 677.7h0M120.5 676.7h0M120.4 677.1h0M120.4 677.4h0M120.6 678.6h0M120.4 677.0h0M121.4 678.4h0M121.4 676.9h0M121.4 676.7h0M121.4 678.1h0M121.4 678.3h0M122.2 677.9h0M122.3 677.9h0M122.3 677.8h0M122.4 677.6h0M122.3 677.4h0M123.1 675.6h0M123.4 677.4h0M123.4 676.9h0M123.3 677.5h0M123.3 676.6h0M124.1 678.2h0M124.3 678.7h0M124.1 677.3h0M124.2 677.5h0M124.1 678.0h0M125.0 676.9h0M125.1 676.4h0M125.0 676.1h0M125.0 677.6h0M125.0 678.2h0M126.0 676.8h0M125.9 676.6h0M126.1 677.6h0M126.0 676.8h0M126.1 676.7h0M126.9 677.6h0M126.8 676.8h0M126.9 677.0h0M126.9 677.7h0M126.8 677.2h0M127.7 677.6h0M127.8 677.4h0M127.8 677.9h0M127.9 677.2h0M127.8 677.9h0M128.8 678.6h0M128.7 678.6h0M128.8 670.0h0M128.9 678.3h0M128.8 677.5h0M129.7 675.5h0M129.6 676.7h0M129.6 677.0h0M129.8 676.7h0M129.6 676.0h0M130.7 676.0h0M130.7 677.3h0M130.5 677.1h0M130.5 677.0h0M130.7 677.6h0M131.6 674.9h0M131.5 676.6h0M131.5 677.5h0M131.7 678.0h0M131.5 677.1h0M132.4 676.5h0M132.4 677.1h0M132.6 676.0h0M132.6 676.4h0M132.4 675.5h0M133.5 677.3h0M133.3 678.4h0M133.5 676.6h0M133.5 676.0h0M133.5 676.8h0M134.2 678.7h0M134.3 675.9h0M134.3 676.0h0M134.4 676.9h0M134.2 675.7h0M135.2 676.9h0M135.3 676.0h0M135.2 676.0h0M135.2 676.2h0M135.3 678.1h0M136.2 676.1h0M136.2 677.1h0M136.2 676.5h0M136.2 675.8h0M136.1 677.7h0M137.0 676.1h0M137.2 676.8h0M137.2 678.9h0M137.0 677.3h0M137.2 676.9h0M138.1 676.7h0M137.9 676.4h0M138.1 675.6h0M137.9 676.5h0M137.9 677.8h0M139.0 677.1h0M138.8 677.2h0M139.1 677.3h0M139.0 677.8h0M138.9 676.5h0M140.0 677.0h0M140.0 676.1h0M139.8 676.0h0M139.9 676.2h0M139.8 676.1h0M140.7 676.2h0M140.7 676.9h0M140.8 676.6h0M140.9 676.2h0M140.8 677.8h0M141.8 676.8h0M141.8 677.0h0M141.8 676.6h0M141.6 676.7h0M141.7 678.0h0M142.5 676.6h0M142.6 676.9h0M142.6 676.3h0M142.6 676.4h0M142.5 675.6h0M143.4 675.7h0M143.6 677.3h0M143.5 676.6h0M143.6 677.6h0M143.5 676.8h0M144.5 677.4h0M144.4 676.4h0M144.4 677.2h0M144.6 677.6h0M144.5 677.3h0M145.3 677.1h0M145.5 676.9h0M145.3 676.4h0M145.3 676.3h0M145.3 677.0h0M146.3 668.3h0M146.4 678.5h0M146.3 677.5h0M146.2 677.0h0M146.4 677.4h0M147.2 676.1h0M147.4 677.4h0M147.1 676.7h0M147.2 676.6h0M147.3 677.2h0M148.1 676.2h0M148.1 675.7h0M148.3 677.6h0M148.1 677.2h0M148.2 675.7h0M149.2 676.4h0M149.0 676.5h0M149.2 677.7h0M149.0 677.1h0M149.0 676.6h0M150.0 676.8h0M150.1 677.1h0M149.9 677.6h0M150.1 676.2h0M149.9 677.6h0M150.8 676.9h0M151.0 675.3h0M151.0 676.4h0M150.9 676.6h0M150.9 676.0h0M152.0 676.1h0M152.0 676.9h0M151.7 675.6h0M151.7 676.7h0M152.0 676.6h0M152.8 676.8h0M152.9 676.8h0M152.9 677.0h0M152.8 677.5h0M152.8 676.6h0M153.6 677.0h0M153.7 676.8h0M153.6 677.3h0M153.7 677.3h0M153.8 676.1h0M154.7 677.4h0M154.6 676.7h0M154.7 676.2h0M154.7 676.4h0M154.6 676.4h0M155.4 676.4h0M155.6 676.2h0M155.7 677.8h0M155.5 676.5h0M155.6 677.2h0M156.6 676.9h0M156.3 675.6h0M156.6 676.4h0M156.3 677.2h0M156.5 676.6h0M157.4 677.6h0M157.5 677.0h0M157.3 676.3h0M157.3 675.8h0M157.4 677.0h0M158.4 670.4h0M158.4 676.1h0M158.4 676.9h0M158.3 676.8h0M158.3 677.3h0M159.3 676.6h0M159.3 677.0h0M159.4 676.5h0M159.4 676.6h0M159.4 675.8h0M160.2 677.2h0M160.2 676.8h0M160.1 678.1h0M160.1 676.4h0M160.1 677.7h0M161.2 677.4h0M161.0 677.1h0M161.2 677.5h0M161.0 676.9h0M161.1 676.6h0M162.1 677.1h0M162.0 677.7h0M162.0 678.0h0M162.0 676.7h0M162.1 675.7h0M163.1 677.1h0M162.8 676.9h0M163.0 677.8h0M162.9 677.6h0M162.8 676.2h0M163.7 677.1h0M163.8 676.5h0M163.8 675.9h0M163.8 677.3h0M163.8 675.7h0M164.8 675.6h0M164.8 677.3h0M164.9 676.6h0M164.8 675.9h0M164.9 678.5h0M165.8 676.4h0M165.8 676.8h0M165.8 677.1h0M165.7 676.9h0M165.7 675.9h0M166.8 677.4h0M166.7 677.5h0M166.6 676.4h0M166.7 676.8h0M166.5 676.8h0M167.6 677.8h0M167.5 676.5h0M167.6 677.1h0M167.6 676.3h0M167.7 675.3h0M168.4 676.5h0M168.3 677.7h0M168.5 675.6h0M168.3 676.6h0M168.4 675.7h0M169.4 677.7h0M169.3 676.8h0M169.4 675.9h0M169.4 675.9h0M169.4 677.5h0M170.2 676.4h0M170.4 676.6h0M170.3 677.2h0M170.2 676.2h0M170.3 675.9h0M171.1 677.4h0M171.4 677.0h0M171.3 676.3h0M171.2 676.6h0M171.1 677.2h0M172.1 677.6h0M172.0 677.2h0M172.1 676.5h0M172.2 676.5h0M172.1 676.6h0M173.0 677.2h0M173.0 675.9h0M173.1 676.2h0M173.1 676.9h0M173.0 676.2h0M174.0 678.0h0M173.9 676.8h0M174.1 676.3h0M173.9 677.5h0M174.0 676.6h0M174.8 676.7h0M175.0 676.6h0M174.9 676.4h0M174.8 677.0h0M175.1 676.7h0M175.9 677.6h0M175.9 676.9h0M175.9 676.5h0M176.0 675.5h0M175.9 678.0h0M176.9 678.2h0M176.8 677.1h0M176.8 676.1h0M176.7 676.5h0M176.7 676.8h0M177.8 676.7h0M177.7 677.0h0M177.6 676.1h0M177.7 677.0h0M177.6 676.5h0M178.5 676.4h0M178.5 676.3h0M178.5 676.4h0M178.6 677.0h0M178.6 677.5h0M179.5 676.8h0M179.5 676.6h0M179.7 678.0h0M179.5 676.7h0M179.5 676.9h0M180.4 677.5h0M180.6 677.1h0M180.3 677.0h0M180.4 677.0h0M180.3 676.5h0M181.3 677.3h0M181.5 677.0h0M181.3 676.7h0M181.3 677.2h0M181.4 676.7h0M182.3 677.5h0M182.4 677.2h0M182.3 677.0h0M182.3 676.1h0M182.4 676.4h0M183.2 676.4h0M183.1 676.5h0M183.2 677.7h0M183.2 677.3h0M183.3 677.0h0M184.2 677.3h0M184.0 677.6h0M184.2 676.5h0M184.0 676.7h0M184.3 676.4h0M185.1 677.2h0M185.1 676.1h0M185.0 676.6h0M185.0 675.3h0M184.9 677.4h0M186.0 676.9h0M186.0 677.5h0M186.0 675.7h0M186.1 676.4h0M185.9 676.8h0M186.9 676.6h0M186.9 676.3h0M187.0 677.4h0M186.9 677.4h0M187.0 676.1h0M187.9 676.7h0M187.9 676.6h0M187.9 675.7h0M187.8 677.0h0M188.0 677.3h0M188.7 676.3h0M188.9 676.1h0M188.8 676.2h0M188.7 677.1h0M188.8 676.6h0M189.7 676.2h0M189.6 676.8h0M189.7 676.7h0M189.7 676.5h0M189.8 676.7h0M190.6 677.1h0M190.6 677.0h0M190.7 676.0h0M190.6 676.0h0M190.7 676.3h0M191.7 677.3h0M191.4 676.0h0M191.4 677.8h0M191.6 677.4h0M191.5 677.3h0M192.4 677.3h0M192.4 676.7h0M192.4 676.4h0M192.5 677.1h0M192.5 677.8h0M193.5 675.3h0M193.3 676.0h0M193.4 678.1h0M193.4 676.0h0M193.5 677.4h0M194.3 676.6h0M194.3 676.7h0M194.4 675.9h0M194.4 677.5h0M194.3 677.4h0M195.3 678.4h0M195.1 676.2h0M195.4 677.6h0M195.2 676.2h0M195.2 675.1h0M196.2 676.1h0M196.1 675.2h0M196.1 677.0h0M196.2 676.8h0M196.1 676.0h0M197.1 678.1h0M197.0 675.6h0M197.0 676.8h0M197.2 677.2h0M197.0 677.8h0M198.0 676.4h0M198.0 676.8h0M198.1 676.8h0M198.0 677.1h0M198.1 677.3h0M199.0 675.8h0M198.8 677.0h0M198.8 677.4h0M199.1 677.5h0M199.0 675.6h0M199.9 676.9h0M199.9 677.3h0M199.8 677.8h0M199.8 676.4h0M199.7 676.9h0M200.9 676.3h0M200.8 677.8h0M200.8 676.3h0M200.9 676.4h0M200.7 677.2h0M201.7 675.7h0M201.8 676.1h0M201.7 676.4h0M201.8 676.5h0M201.6 676.6h0M202.8 677.5h0M202.7 675.6h0M202.5 676.4h0M202.7 676.1h0M202.6 677.4h0M203.4 677.0h0M203.4 676.6h0M203.6 676.3h0M203.5 676.6h0M203.5 677.4h0M204.3 676.6h0M204.5 676.7h0M204.5 675.8h0M204.4 677.7h0M204.4 677.2h0M205.4 676.0h0M205.4 677.3h0M205.3 677.1h0M205.4 677.8h0M205.4 677.6h0M206.4 677.6h0M206.3 677.0h0M206.2 675.7h0M206.3 677.2h0M206.2 677.3h0M207.2 678.4h0M207.1 677.3h0M207.3 676.0h0M207.3 676.6h0M207.2 676.8h0M208.3 677.5h0M208.1 676.4h0M208.0 677.0h0M208.1 674.9h0M208.1 677.3h0M209.1 677.6h0M209.0 675.2h0M209.0 677.3h0M209.2 676.5h0M209.0 676.6h0M209.9 675.7h0M210.0 677.4h0M209.9 677.0h0M209.9 676.5h0M210.0 676.7h0M211.0 675.8h0M211.0 677.3h0M210.9 676.5h0M210.9 676.9h0M210.9 677.7h0M211.7 676.8h0M211.8 676.0h0M211.8 677.5h0M211.8 677.1h0M211.8 677.1h0M212.8 677.9h0M212.8 677.6h0M212.8 677.4h0M212.7 676.7h0M212.8 677.4h0M213.8 677.6h0M213.6 676.8h0M213.6 676.4h0M213.6 676.9h0M213.7 675.6h0M214.6 676.7h0M214.7 677.2h0M214.7 675.3h0M214.7 677.6h0M214.6 677.3h0M215.6 678.1h0M215.7 676.6h0M215.6 676.5h0M215.5 676.8h0M215.4 676.9h0M216.5 676.2h0M216.5 677.9h0M216.4 677.0h0M216.5 676.4h0M216.5 676.5h0M217.3 677.8h0M217.3 677.7h0M217.3 676.6h0M217.5 677.9h0M217.3 677.4h0M218.2 676.9h0M218.2 676.3h0M218.4 677.4h0M218.3 677.5h0M218.2 677.2h0M219.1 677.0h0M219.4 676.7h0M219.2 676.6h0M219.3 676.5h0M219.2 676.7h0M220.2 676.8h0M220.2 677.2h0M220.1 676.6h0M220.2 676.5h0M220.3 675.3h0M221.1 677.1h0M221.2 676.2h0M220.9 676.7h0M221.1 675.1h0M221.1 677.1h0M222.0 677.3h0M222.0 676.4h0M222.1 677.6h0M222.0 676.3h0M221.9 676.2h0M222.8 678.1h0M223.0 676.5h0M222.9 677.6h0M222.8 676.8h0M223.0 677.6h0M223.8 677.9h0M223.8 676.3h0M223.8 677.5h0M223.8 677.1h0M223.8 676.1h0M224.7 676.9h0M224.9 676.7h0M224.9 677.0h0M224.8 678.6h0M224.9 677.7h0M225.8 675.9h0M225.6 677.2h0M225.6 677.5h0M225.6 676.4h0M225.6 677.1h0M226.5 676.7h0M226.5 677.3h0M226.6 676.7h0M226.7 676.5h0M226.7 677.1h0M227.5 676.6h0M227.4 677.4h0M227.5 676.8h0M227.4 677.5h0M227.4 677.3h0M228.5 676.1h0M228.4 676.6h0M228.5 676.5h0M228.5 675.5h0M228.5 677.1h0M229.5 676.1h0M229.3 677.1h0M229.3 677.2h0M229.4 677.0h0M229.3 676.4h0M230.2 676.3h0M230.4 677.2h0M230.3 677.7h0M230.2 677.2h0M230.4 676.4h0M231.2 676.1h0M231.4 676.6h0M231.3 678.0h0M231.1 677.4h0M231.3 676.8h0M232.2 677.4h0M232.1 677.6h0M232.1 676.0h0M232.0 677.6h0M232.2 678.5h0M233.2 675.4h0M233.2 677.8h0M233.1 676.6h0M233.1 677.5h0M233.2 676.9h0M233.9 676.8h0M234.0 676.5h0M234.1 676.5h0M234.1 678.0h0M233.9 677.9h0M234.9 676.4h0M235.0 677.6h0M234.9 676.3h0M234.8 676.5h0M235.0 677.6h0M235.9 677.6h0M235.8 675.3h0M235.7 676.8h0M235.9 676.3h0M235.8 678.1h0M236.8 676.5h0M236.7 677.5h0M236.7 676.8h0M236.8 676.9h0M236.8 676.5h0M237.7 677.9h0M237.6 675.8h0M237.8 675.6h0M237.8 676.8h0M237.8 677.1h0M238.5 676.7h0M238.7 675.1h0M238.6 676.6h0M238.6 677.4h0M238.7 676.8h0M239.5 676.7h0M239.6 676.3h0M239.6 675.6h0M239.6 676.2h0M239.5 676.9h0M240.5 676.4h0M240.4 677.2h0M240.5 676.6h0M240.4 676.4h0M240.6 676.7h0M241.3 676.9h0M241.4 677.1h0M241.4 675.3h0M241.5 677.6h0M241.3 676.6h0M242.3 676.0h0M242.3 677.4h0M242.2 675.9h0M242.4 675.8h0M242.2 677.9h0M243.1 675.5h0M243.3 676.6h0M243.2 676.8h0M243.2 676.5h0M243.2 677.7h0M244.2 677.7h0M244.0 676.4h0M244.2 675.6h0M244.1 676.0h0M244.1 677.2h0M245.0 677.4h0M245.0 675.2h0M245.1 678.4h0M244.9 678.2h0M245.0 676.3h0M246.0 676.7h0M246.1 676.9h0M246.0 676.5h0M246.1 677.8h0M245.9 677.3h0M246.8 676.6h0M247.0 677.3h0M247.0 675.5h0M246.9 677.2h0M246.9 676.9h0M247.8 677.0h0M247.7 676.9h0M247.8 677.8h0M247.8 677.4h0M247.9 677.7h0M248.7 677.7h0M248.8 677.0h0M248.8 677.0h0M248.7 677.3h0M248.9 675.0h0M249.7 676.3h0M249.7 676.5h0M249.7 677.4h0M249.8 676.9h0M249.6 676.8h0M250.6 677.2h0M250.7 677.4h0M250.6 677.6h0M250.7 676.7h0M250.6 677.8h0M251.6 678.6h0M251.6 677.1h0M251.6 677.7h0M251.5 677.4h0M251.5 677.0h0M252.4 675.9h0M252.6 677.0h0M252.4 676.9h0M252.5 677.4h0M252.5 677.6h0M253.3 676.1h0M253.3 676.9h0M253.5 677.2h0M253.3 676.4h0M253.5 677.5h0M254.3 676.7h0M254.3 677.2h0M254.2 676.0h0M254.3 676.3h0M254.3 675.4h0M255.4 677.8h0M255.3 676.3h0M255.2 677.6h0M255.3 677.7h0M255.1 676.4h0M256.2 676.8h0M256.1 676.8h0M256.2 676.4h0M256.1 675.9h0M256.2 676.8h0M257.1 676.5h0M257.1 677.0h0M257.0 678.3h0M257.2 676.3h0M257.1 675.8h0M258.0 676.8h0M257.9 676.7h0M257.9 676.9h0M258.1 678.0h0M258.0 677.0h0M258.8 676.9h0M258.9 676.6h0M259.0 677.0h0M258.9 676.7h0M259.0 676.9h0M260.0 675.9h0M259.9 678.3h0M259.7 677.7h0M259.9 676.3h0M259.7 676.4h0M260.8 676.9h0M260.9 675.5h0M260.7 676.8h0M260.7 677.7h0M260.8 676.1h0M261.7 675.8h0M261.7 675.7h0M261.7 676.1h0M261.7 676.7h0M261.7 677.9h0M262.5 676.9h0M262.8 676.6h0M262.6 676.5h0M262.5 676.7h0M262.6 677.2h0M263.5 677.0h0M263.7 676.9h0M263.4 676.0h0M263.6 676.3h0M263.4 676.8h0M264.4 676.7h0M264.6 676.0h0M264.6 677.0h0M264.6 676.4h0M264.5 676.7h0M265.3 676.6h0M265.3 675.5h0M265.3 675.7h0M265.3 676.2h0M265.3 677.2h0M266.4 677.2h0M266.2 676.4h0M266.3 676.4h0M266.3 677.2h0M266.3 676.9h0M267.4 677.1h0M267.2 676.2h0M267.2 677.2h0M267.3 675.0h0M267.2 676.5h0M268.1 675.6h0M268.2 676.6h0M268.2 676.4h0M268.2 676.6h0M268.1 677.2h0M269.0 677.5h0M269.2 676.5h0M269.1 676.2h0M269.1 677.3h0M269.2 676.8h0M270.1 676.6h0M269.9 676.7h0M270.0 676.9h0M270.1 677.8h0M269.9 677.1h0M270.8 675.3h0M271.0 676.5h0M270.8 677.2h0M270.8 677.2h0M271.0 676.6h0M271.9 676.7h0M271.9 674.9h0M271.9 676.9h0M271.7 677.2h0M271.7 676.6h0M272.8 676.9h0M272.9 677.5h0M272.7 677.3h0M272.8 676.9h0M272.8 677.3h0M273.7 676.3h0M273.7 677.2h0M273.7 676.4h0M273.6 675.9h0M273.7 676.8h0M274.5 677.2h0M274.6 676.9h0M274.7 676.7h0M274.6 677.5h0M274.6 676.5h0M275.5 676.5h0M275.7 676.6h0M275.4 675.6h0M275.4 675.5h0M275.4 675.7h0M276.3 675.8h0M276.5 677.0h0M276.5 676.9h0M276.4 675.5h0M276.4 676.5h0M277.3 676.4h0M277.3 675.4h0M277.3 677.4h0M277.5 677.9h0M277.3 677.3h0M278.3 676.5h0M278.2 677.6h0M278.4 677.0h0M278.3 677.0h0M278.4 675.7h0M279.2 676.4h0M279.3 677.1h0M279.1 676.7h0M279.4 677.7h0M279.2 676.7h0M280.1 677.2h0M280.2 676.7h0M280.1 676.2h0M280.0 676.7h0M280.0 676.0h0M281.0 676.9h0M281.0 676.6h0M281.0 677.3h0M281.1 676.6h0M281.1 677.3h0M282.1 676.7h0M281.9 677.3h0M282.1 676.6h0M282.0 677.5h0M282.1 677.3h0M283.0 677.2h0M283.0 677.3h0M283.0 676.5h0M282.9 677.2h0M283.1 676.7h0M284.0 676.8h0M283.9 676.8h0M283.9 676.9h0M283.8 676.7h0M283.8 676.5h0M284.8 677.0h0M284.8 676.3h0M284.6 676.4h0M284.8 676.4h0M284.7 677.8h0M285.7 676.6h0M285.8 677.0h0M285.6 676.3h0M285.8 677.1h0M285.6 677.1h0M286.5 677.2h0M286.7 677.1h0M286.5 675.7h0M286.7 678.6h0M286.7 677.2h0M287.6 677.1h0M287.6 675.8h0M287.5 677.0h0M287.6 677.5h0M287.4 677.8h0M288.4 676.1h0M288.4 677.2h0M288.4 677.0h0M288.4 675.0h0M288.5 676.7h0M289.5 676.0h0M289.4 676.3h0M289.4 676.6h0M289.3 676.7h0M289.4 678.3h0M290.4 676.4h0M290.4 676.7h0M290.2 676.8h0M290.2 676.8h0M290.2 676.0h0M291.2 676.1h0M291.3 677.6h0M291.2 677.1h0M291.2 676.8h0M291.3 676.5h0M292.2 677.8h0M292.1 676.2h0M292.2 677.0h0M292.3 677.7h0M292.2 678.2h0M293.2 677.1h0M293.2 676.5h0M293.1 676.2h0M293.0 677.2h0M293.1 677.5h0M294.1 675.9h0M294.1 676.9h0M294.0 676.6h0M293.9 677.2h0M294.1 677.9h0M294.8 676.8h0M294.9 675.7h0M294.9 678.7h0M295.0 677.4h0M294.9 678.2h0M295.9 676.4h0M295.9 676.9h0M296.0 677.3h0M295.8 676.9h0M295.8 676.0h0M296.8 676.9h0M296.8 676.2h0M296.7 676.5h0M296.8 676.4h0M296.8 678.2h0M297.8 676.3h0M297.6 674.3h0M297.6 671.9h0M297.7 676.6h0M297.7 676.6h0M298.7 677.6h0M298.6 676.5h0M298.7 677.0h0M298.5 677.8h0M298.7 676.1h0M299.6 676.5h0M299.4 677.0h0M299.5 676.6h0M299.5 677.6h0M299.5 676.0h0M300.4 677.7h0M300.5 677.5h0M300.4 676.6h0M300.3 677.2h0M300.4 677.0h0M301.3 675.7h0M301.5 676.7h0M301.3 676.3h0M301.3 677.2h0M301.4 676.2h0M302.3 676.9h0M302.4 676.7h0M302.4 676.9h0M302.2 677.0h0M302.3 677.2h0M303.4 676.8h0M303.1 676.9h0M303.1 677.5h0M303.2 676.1h0M303.3 677.0h0M304.0 675.8h0M304.1 676.2h0M304.2 677.4h0M304.1 677.7h0M304.1 676.2h0M305.1 677.1h0M305.0 676.0h0M305.1 676.0h0M305.0 676.6h0M305.2 676.5h0M306.1 676.2h0M305.9 677.7h0M306.1 676.2h0M306.0 677.4h0M306.1 677.3h0M307.0 677.0h0M307.0 677.9h0M306.8 677.0h0M307.0 676.9h0M307.0 676.4h0M308.0 676.3h0M307.8 676.8h0M308.0 675.4h0M308.0 676.7h0M307.7 676.1h0M308.7 676.5h0M308.8 677.0h0M308.8 676.9h0M308.8 677.2h0M308.7 676.4h0M309.7 667.6h0M309.8 676.9h0M309.8 676.6h0M309.6 676.6h0M309.6 675.2h0M310.7 676.6h0M310.7 676.9h0M310.6 676.9h0M310.5 676.8h0M310.6 677.5h0M311.5 677.8h0M311.5 677.8h0M311.6 676.2h0M311.5 676.3h0M311.4 676.9h0M312.5 676.8h0M312.5 676.3h0M312.5 675.3h0M312.3 677.2h0M312.6 677.2h0M313.5 677.1h0M313.3 677.3h0M313.5 677.5h0M313.5 676.7h0M313.4 676.1h0M314.4 677.0h0M314.2 675.8h0M314.3 677.1h0M314.3 677.2h0M314.4 675.4h0M315.1 675.9h0M315.2 677.0h0M315.1 677.2h0M315.1 676.2h0M315.1 676.1h0M316.2 676.1h0M316.2 676.5h0M316.2 677.4h0M316.1 676.7h0M316.1 676.6h0M317.0 677.0h0M317.2 675.4h0M317.1 677.2h0M317.0 675.3h0M317.2 676.9h0M317.9 675.9h0M318.0 677.1h0M318.1 677.4h0M318.0 676.8h0M318.0 675.7h0M319.0 676.3h0M319.0 676.2h0M318.9 677.1h0M318.8 676.4h0M319.0 677.1h0M319.8 675.7h0M319.9 675.8h0M319.9 677.0h0M319.9 677.2h0M319.8 676.6h0M320.8 676.3h0M320.9 676.5h0M320.7 676.6h0M320.7 676.4h0M320.8 676.3h0M321.7 676.8h0M321.7 677.3h0M321.6 677.3h0M321.8 676.0h0M321.6 678.0h0M322.6 677.9h0M322.5 677.3h0M322.7 676.5h0M322.6 676.0h0M322.5 676.9h0M323.5 677.3h0M323.4 676.1h0M323.6 677.0h0M323.7 676.4h0M323.7 677.4h0M324.5 677.4h0M324.5 676.4h0M324.6 676.1h0M324.3 677.1h0M324.5 677.2h0M325.3 676.9h0M325.4 677.5h0M325.5 676.9h0M325.5 676.5h0M325.3 676.5h0M326.3 676.7h0M326.3 676.4h0M326.3 677.1h0M326.3 676.3h0M326.4 676.8h0M327.1 678.0h0M327.2 676.2h0M327.2 676.6h0M327.3 677.8h0M327.3 677.3h0M328.0 676.2h0M328.2 677.2h0M328.0 676.2h0M328.1 675.7h0M328.1 677.0h0M329.1 677.4h0M329.0 675.9h0M329.2 677.4h0M329.2 677.5h0M329.1 677.6h0M330.0 676.7h0M329.9 676.4h0M329.9 675.2h0M329.9 676.9h0M330.0 675.9h0M330.8 677.1h0M331.0 677.8h0M330.8 676.4h0M330.9 677.0h0M331.0 676.1h0M331.8 676.7h0M331.8 677.2h0M331.9 675.9h0M331.8 675.9h0M331.7 676.3h0M332.9 677.1h0M332.7 676.4h0M332.8 677.6h0M332.8 676.9h0M332.7 677.3h0M333.6 677.9h0M333.7 677.1h0M333.7 675.2h0M333.8 676.1h0M333.6 677.9h0M334.6 676.6h0M334.6 677.5h0M334.7 676.3h0M334.7 675.4h0M334.6 675.8h0M335.4 677.1h0M335.5 676.8h0M335.4 677.4h0M335.5 676.1h0M335.6 676.5h0M336.5 677.8h0M336.5 677.3h0M336.4 677.2h0M336.4 677.1h0M336.5 676.4h0M337.5 676.4h0M337.3 677.2h0M337.4 676.0h0M337.3 675.9h0M337.5 675.8h0M338.4 677.6h0M338.4 676.4h0M338.3 676.3h0M338.3 676.7h0M338.2 676.7h0M339.3 676.7h0M339.1 675.9h0M339.3 677.6h0M339.1 677.0h0M339.1 676.8h0M340.2 676.9h0M340.0 677.2h0M340.1 677.6h0M340.0 677.0h0M340.2 676.2h0M341.1 677.2h0M341.2 677.2h0M341.0 676.8h0M341.1 676.7h0M340.9 675.1h0M341.9 676.7h0M342.0 676.9h0M342.1 676.8h0M342.0 676.8h0M342.1 676.8h0M342.8 676.4h0M343.0 676.8h0M343.0 677.2h0M342.9 676.3h0M343.0 676.9h0M343.8 676.3h0M343.9 667.5h0M343.7 676.0h0M343.7 676.0h0M344.0 676.6h0M344.9 676.5h0M344.7 675.7h0M344.9 678.1h0M344.8 676.5h0M344.7 676.8h0M345.8 676.2h0M345.6 676.6h0M345.6 676.2h0M345.8 676.8h0M345.6 677.0h0M346.5 676.8h0M346.7 676.1h0M346.6 676.5h0M346.6 676.6h0M346.5 676.2h0M347.5 677.6h0M347.4 676.5h0M347.6 677.5h0M347.5 676.6h0M347.7 677.3h0M348.4 677.3h0M348.5 677.6h0M348.6 677.4h0M348.5 676.8h0M348.6 676.9h0M349.4 676.5h0M349.5 676.4h0M349.3 676.7h0M349.3 676.6h0M349.2 677.7h0M350.4 677.2h0M350.3 676.5h0M350.3 677.9h0M350.3 676.9h0M350.4 676.3h0M351.1 676.2h0M351.3 677.8h0M351.3 676.2h0M351.2 676.3h0M351.1 676.6h0M352.0 678.2h0M352.0 677.3h0M352.2 677.0h0M352.1 676.4h0M352.2 678.1h0M353.0 676.3h0M353.0 676.8h0M353.1 675.9h0M353.1 676.0h0M353.1 676.8h0M353.9 677.5h0M354.0 675.9h0M354.1 676.7h0M354.0 678.4h0M354.0 675.6h0M354.9 676.0h0M354.8 676.9h0M354.8 677.5h0M354.8 678.0h0M354.9 676.9h0M355.9 677.0h0M355.7 678.6h0M355.8 676.6h0M355.8 677.9h0M355.7 675.8h0M356.8 676.1h0M356.8 676.7h0M356.8 676.4h0M356.7 676.2h0M356.7 677.0h0M357.7 677.0h0M357.6 675.4h0M357.6 676.9h0M357.7 675.9h0M357.7 676.5h0M358.5 676.9h0M358.6 677.0h0M358.6 677.2h0M358.5 677.0h0M358.6 676.9h0M359.6 677.1h0M359.4 676.8h0M359.5 675.6h0M359.4 677.7h0M359.6 676.1h0M360.5 677.8h0M360.5 676.6h0M360.4 676.5h0M360.3 677.2h0M360.3 677.6h0M361.4 676.7h0M361.5 677.6h0M361.4 676.4h0M361.5 675.9h0M361.3 676.5h0M362.4 677.3h0M362.2 677.1h0M362.3 676.5h0M362.4 676.2h0M362.2 676.3h0M363.1 677.3h0M363.1 675.8h0M363.3 676.7h0M363.3 676.8h0M363.1 676.1h0M364.0 677.1h0M364.2 676.5h0M364.1 676.7h0M364.2 677.2h0M364.1 676.2h0M365.0 676.9h0M365.1 677.5h0M365.1 677.1h0M365.0 676.2h0M365.1 677.0h0M365.9 676.3h0M366.1 676.1h0M366.0 676.6h0M365.9 677.8h0M366.0 676.7h0M366.9 677.5h0M366.9 677.1h0M366.8 677.3h0M366.8 677.1h0M366.9 676.8h0M367.7 677.7h0M368.0 677.6h0M367.9 677.5h0M368.0 677.4h0M367.9 676.4h0M368.8 676.0h0M368.8 676.6h0M368.6 675.3h0M368.7 676.7h0M368.7 676.5h0M369.7 676.6h0M369.6 676.5h0M369.6 676.7h0M369.7 675.7h0M369.7 678.9h0M370.6 677.5h0M370.7 677.3h0M370.6 677.3h0M370.6 676.3h0M370.7 676.3h0M371.5 676.6h0M371.6 677.8h0M371.4 676.8h0M371.4 676.2h0M371.5 677.6h0M372.5 674.9h0M372.5 676.9h0M372.4 675.3h0M372.4 675.8h0M372.4 677.5h0M373.4 676.4h0M373.4 675.7h0M373.4 676.0h0M373.3 676.1h0M373.4 677.1h0M374.3 676.8h0M374.4 677.7h0M374.3 676.0h0M374.4 678.5h0M374.3 677.0h0M375.1 677.1h0M375.1 677.3h0M375.4 675.3h0M375.2 676.6h0M375.2 677.4h0M376.3 676.6h0M376.2 676.1h0M376.2 676.4h0M376.2 676.7h0M376.2 676.4h0M377.1 676.7h0M377.2 676.5h0M377.1 677.5h0M377.1 676.1h0M377.0 676.4h0M378.0 676.0h0M378.0 676.7h0M378.0 677.0h0M377.9 676.9h0M378.0 677.0h0M379.0 676.4h0M379.0 676.3h0M378.9 677.5h0M378.9 676.9h0M378.9 677.3h0M379.9 678.4h0M379.9 675.8h0M379.9 677.6h0M380.0 676.4h0M379.9 677.2h0M380.7 676.6h0M380.9 676.6h0M380.6 678.4h0M380.6 677.0h0M380.9 677.1h0M381.8 676.3h0M381.7 677.9h0M381.6 677.3h0M381.7 677.6h0M381.7 675.9h0M382.5 676.6h0M382.6 676.6h0M382.7 676.8h0M382.5 667.0h0M382.5 677.1h0M383.4 676.7h0M383.5 677.3h0M383.5 675.5h0M383.5 677.4h0M383.6 677.8h0M384.4 677.4h0M384.5 676.9h0M384.4 677.6h0M384.3 677.5h0M384.4 676.2h0M385.4 677.7h0M385.5 672.9h0M385.4 676.5h0M385.3 676.1h0M385.4 677.6h0M386.2 676.1h0M386.2 676.6h0M386.2 677.1h0M386.3 676.0h0M386.4 676.5h0M387.2 677.0h0M387.1 676.7h0M387.2 676.6h0M387.3 678.2h0M387.2 676.1h0M388.2 676.7h0M388.1 678.1h0M388.1 676.7h0M388.1 675.9h0M388.0 676.5h0M389.0 676.7h0M389.0 676.6h0M388.9 676.2h0M389.1 676.0h0M389.1 677.1h0M389.9 676.9h0M390.1 676.0h0M390.1 678.3h0M389.9 675.3h0M389.9 677.0h0M390.8 677.3h0M390.8 675.7h0M390.9 676.6h0M390.9 676.2h0M391.0 676.6h0M391.9 676.4h0M391.8 676.3h0M391.9 676.6h0M391.8 676.7h0M392.0 678.2h0M392.8 676.1h0M392.7 676.4h0M392.7 676.7h0M392.7 677.2h0M392.9 677.3h0M393.6 677.1h0M393.6 675.9h0M393.6 676.6h0M393.8 678.0h0M393.5 675.5h0M394.5 677.0h0M394.6 676.6h0M394.5 677.7h0M394.5 676.7h0M394.7 676.9h0M395.5 675.8h0M395.5 676.1h0M395.5 677.7h0M395.6 676.8h0M395.6 676.9h0M396.5 677.4h0M396.5 676.5h0M396.4 676.5h0M396.5 676.9h0M396.4 677.3h0M397.4 676.7h0M397.2 677.5h0M397.4 676.6h0M397.4 676.8h0M397.4 676.1h0M398.3 676.0h0M398.2 677.0h0M398.4 676.8h0M398.3 676.8h0M398.3 676.6h0M399.1 677.6h0M399.2 676.4h0M399.1 677.1h0M399.3 677.2h0M399.2 677.4h0M400.1 677.1h0M400.1 676.8h0M400.1 677.8h0M400.0 676.9h0M400.1 676.4h0M401.1 676.8h0M401.0 676.0h0M401.0 677.3h0M401.0 677.7h0M401.0 675.7h0M402.0 677.1h0M402.1 676.7h0M402.1 676.4h0M401.9 676.5h0M402.0 677.0h0M403.0 676.4h0M402.9 675.5h0M402.8 677.0h0M402.9 677.0h0M402.9 677.9h0M403.8 676.8h0M403.7 676.2h0M403.7 675.8h0M403.7 676.7h0M403.7 677.0h0M404.8 676.1h0M404.7 676.6h0M404.9 676.5h0M404.7 676.5h0M404.7 677.4h0M405.5 677.2h0M405.7 677.2h0M405.8 676.7h0M405.6 676.8h0M405.6 677.5h0M406.5 676.9h0M406.6 678.3h0M406.7 676.5h0M406.6 676.3h0M406.7 676.3h0M407.5 677.4h0M407.6 675.3h0M407.4 676.5h0M407.4 677.7h0M407.5 677.1h0M408.3 676.4h0M408.4 676.7h0M408.5 677.4h0M408.4 677.3h0M408.4 677.2h0M409.3 676.6h0M409.4 676.1h0M409.4 676.4h0M409.3 677.4h0M409.4 677.3h0M410.4 676.8h0M410.2 677.6h0M410.4 676.1h0M410.4 677.1h0M410.4 677.6h0M411.2 677.4h0M411.2 676.8h0M411.3 676.3h0M411.3 676.1h0M411.3 677.1h0M412.2 676.4h0M412.2 675.8h0M412.3 676.4h0M412.3 676.6h0M412.2 677.0h0M413.0 677.6h0M413.0 677.5h0M413.0 677.0h0M413.1 676.6h0M413.2 677.3h0M413.9 677.0h0M414.0 675.5h0M413.9 676.0h0M413.9 676.9h0M414.1 678.1h0M415.0 676.1h0M415.0 676.9h0M414.9 677.3h0M414.9 675.8h0M414.9 677.1h0M415.9 676.4h0M415.9 676.7h0M415.9 676.1h0M415.8 676.6h0M415.8 677.0h0M416.8 676.7h0M416.7 676.2h0M416.6 676.2h0M416.8 677.8h0M416.6 676.7h0M417.6 677.2h0M417.6 676.4h0M417.7 676.1h0M417.8 677.1h0M417.7 677.9h0M418.5 676.6h0M418.7 677.2h0M418.6 677.3h0M418.7 676.8h0M418.5 676.3h0M419.5 677.0h0M419.6 677.0h0M419.6 676.7h0M419.5 676.5h0M419.5 677.6h0M420.5 676.8h0M420.5 675.9h0M420.5 675.9h0M420.5 677.4h0M420.4 676.5h0M421.3 675.6h0M421.4 676.2h0M421.3 676.4h0M421.4 677.2h0M421.5 676.3h0M422.4 676.2h0M422.2 676.7h0M422.3 675.7h0M422.4 677.2h0M422.4 676.2h0M423.3 677.9h0M423.1 676.8h0M423.2 676.7h0M423.4 676.4h0M423.2 676.1h0M424.2 675.4h0M424.2 676.9h0M424.2 675.8h0M424.3 675.6h0M424.1 675.2h0M425.2 677.0h0M425.1 676.4h0M425.0 677.2h0M424.9 676.7h0M425.2 676.4h0M426.1 676.9h0M426.1 675.2h0M426.0 676.7h0M426.0 676.5h0M425.9 676.4h0M426.9 676.1h0M426.9 676.1h0M426.8 676.3h0M426.9 675.8h0M426.8 677.0h0M427.8 676.8h0M427.7 677.2h0M427.8 676.3h0M427.7 676.3h0M427.9 677.1h0M428.9 676.7h0M428.9 677.3h0M428.8 676.0h0M428.9 675.5h0M428.8 675.8h0M429.8 677.9h0M429.6 676.0h0M429.6 677.6h0M429.8 677.0h0M429.5 676.6h0M430.7 676.4h0M430.6 676.8h0M430.6 677.6h0M430.7 677.3h0M430.5 677.0h0M431.4 677.3h0M431.4 677.6h0M431.5 677.2h0M431.4 676.3h0M431.7 677.7h0M432.4 677.0h0M432.5 672.8h0M432.4 677.5h0M432.3 676.2h0M432.5 677.4h0M433.4 676.7h0M433.3 677.5h0M433.5 678.1h0M433.4 677.1h0M433.4 678.3h0M434.3 676.1h0M434.2 676.8h0M434.3 675.6h0M434.3 677.0h0M434.2 678.1h0M435.1 676.9h0M435.2 677.0h0M435.1 676.3h0M435.3 676.3h0M435.1 676.5h0M436.2 677.6h0M436.1 677.4h0M436.1 678.9h0M436.1 677.9h0M436.2 676.0h0M437.0 677.2h0M437.0 677.5h0M437.1 666.1h0M437.2 677.1h0M437.1 677.3h0M437.9 676.7h0M438.0 677.0h0M437.9 676.5h0M438.1 676.3h0M438.0 677.1h0M439.0 676.7h0M439.0 677.6h0M439.0 676.4h0M438.9 676.8h0M439.0 676.1h0M440.0 677.9h0M439.9 676.6h0M439.8 676.5h0M440.0 675.9h0M439.9 677.5h0M440.8 677.5h0M440.8 676.7h0M440.7 676.9h0M440.9 676.6h0M440.7 676.1h0M441.6 676.1h0M441.8 677.2h0M441.8 677.9h0M441.8 676.5h0M441.8 677.8h0M442.5 676.6h0M442.6 676.4h0M442.6 676.7h0M442.5 677.0h0M442.7 676.7h0M443.4 676.6h0M443.6 677.2h0M443.6 677.0h0M443.6 676.7h0M443.4 668.3h0M444.3 676.7h0M444.4 676.5h0M444.5 676.0h0M444.3 676.6h0M444.4 677.4h0M445.3 676.6h0M445.3 676.4h0M445.3 677.9h0M445.4 676.4h0M445.4 676.5h0M446.4 676.7h0M446.3 676.1h0M446.3 676.0h0M446.3 677.2h0M446.3 676.6h0M447.1 677.7h0M447.1 677.6h0M447.1 677.1h0M447.3 677.2h0M447.2 676.9h0M448.1 677.3h0M448.2 676.1h0M448.2 677.8h0M448.1 676.5h0M448.2 676.1h0M449.1 676.9h0M448.9 676.8h0M449.0 675.7h0M449.0 676.1h0M449.0 677.2h0M450.0 676.0h0M450.1 675.8h0M449.9 677.2h0M449.9 677.7h0M449.9 677.0h0M451.0 677.2h0M450.8 677.0h0M451.0 675.5h0M450.9 676.4h0M450.8 676.7h0M451.9 677.5h0M451.7 675.7h0M451.9 677.1h0M451.8 675.5h0M451.7 676.1h0M452.7 676.8h0M452.8 676.6h0M452.9 674.9h0M452.7 676.1h0M452.7 676.2h0M453.6 675.6h0M453.8 676.6h0M453.8 677.3h0M453.6 674.9h0M453.8 677.8h0M454.5 675.9h0M454.5 676.0h0M454.7 676.0h0M454.7 675.2h0M454.5 677.0h0M455.6 676.4h0M455.5 676.8h0M455.5 675.0h0M455.6 676.4h0M455.5 677.2h0M456.4 677.5h0M456.4 676.3h0M456.4 676.3h0M456.3 675.0h0M456.4 676.8h0M457.4 676.9h0M457.4 675.0h0M457.4 676.7h0M457.3 675.6h0M457.3 675.8h0M458.2 676.0h0M458.4 674.2h0M458.2 674.6h0M458.3 675.9h0M458.3 676.4h0M459.3 674.5h0M459.2 674.2h0M459.3 674.8h0M459.2 675.1h0M459.3 674.2h0M460.0 675.1h0M460.1 675.1h0M460.0 674.1h0M460.1 675.4h0M460.1 674.5h0M461.0 673.9h0M461.1 675.2h0M461.2 672.4h0M461.1 674.6h0M461.1 675.0h0M462.1 675.2h0M462.0 674.1h0M462.0 675.3h0M462.0 673.6h0M462.1 674.9h0M463.0 674.9h0M462.8 673.0h0M462.8 674.7h0M462.9 667.5h0M462.9 676.0h0M463.9 673.4h0M463.8 672.7h0M463.9 673.8h0M463.8 674.2h0M463.8 674.5h0M464.7 673.5h0M464.8 673.8h0M464.7 674.3h0M464.9 674.3h0M464.8 673.9h0M465.5 674.6h0M465.8 673.3h0M465.7 672.9h0M465.8 672.4h0M465.6 673.7h0M466.7 673.1h0M466.5 673.4h0M466.6 674.4h0M466.5 674.5h0M466.5 673.3h0M467.4 674.1h0M467.6 674.4h0M467.4 674.7h0M467.5 672.3h0M467.6 672.6h0M468.5 672.5h0M468.4 674.0h0M468.4 674.1h0M468.5 673.4h0M468.5 674.0h0M469.4 672.7h0M469.2 674.5h0M469.4 673.2h0M469.3 675.1h0M469.3 674.6h0M470.3 674.5h0M470.2 673.0h0M470.3 674.8h0M470.3 672.6h0M470.2 673.9h0M471.3 673.9h0M471.3 673.8h0M471.1 674.2h0M471.3 674.1h0M471.3 673.8h0M472.3 674.2h0M472.1 674.9h0M472.3 674.3h0M472.1 673.2h0M472.0 674.0h0M473.2 673.0h0M473.0 675.2h0M473.1 675.1h0M473.1 674.9h0M473.1 675.1h0M474.0 674.1h0M474.0 674.7h0M473.9 673.9h0M474.1 674.6h0M474.0 675.5h0M474.9 674.9h0M475.0 675.3h0M475.0 674.7h0M475.0 675.0h0M475.0 675.0h0M475.8 675.2h0M475.9 671.3h0M475.9 674.0h0M475.8 677.4h0M475.9 674.7h0M476.7 674.8h0M476.7 675.4h0M476.7 671.8h0M476.8 674.9h0M476.8 675.5h0M477.7 676.1h0M477.6 675.0h0M477.5 675.7h0M477.6 675.3h0M477.6 676.3h0M478.6 675.1h0M478.6 675.9h0M478.7 675.4h0M478.5 676.8h0M478.7 676.1h0M479.6 677.0h0M479.6 676.7h0M479.7 675.4h0M479.6 677.4h0M479.5 676.9h0M480.4 676.4h0M480.3 677.0h0M480.6 676.6h0M480.3 678.3h0M480.4 676.4h0M481.5 676.4h0M481.5 675.9h0M481.3 676.5h0M481.4 676.7h0M481.2 676.3h0M482.2 677.0h0M482.3 676.3h0M482.3 676.2h0M482.2 675.7h0M482.2 676.9h0M483.3 676.7h0M483.2 677.3h0M483.1 674.8h0M483.1 676.7h0M483.3 676.1h0M484.2 675.7h0M484.0 676.4h0M484.3 676.1h0M484.1 676.1h0M484.3 677.3h0M485.1 676.0h0M485.1 676.1h0M485.0 676.6h0M485.1 677.7h0M485.0 675.9h0M486.0 676.0h0M485.9 676.8h0M486.0 675.7h0M485.9 676.1h0M485.9 675.2h0M486.8 675.5h0M487.0 675.1h0M486.8 675.7h0M486.9 675.7h0M486.9 675.9h0M487.7 674.3h0M487.8 674.7h0M487.9 674.9h0M487.9 674.9h0M487.9 674.9h0M488.7 673.6h0M488.7 672.7h0M488.7 674.2h0M488.8 673.7h0M488.7 673.4h0M489.5 672.4h0M489.6 671.2h0M489.8 672.9h0M489.6 671.8h0M489.6 673.6h0M490.5 670.8h0M490.7 672.6h0M490.5 671.7h0M490.6 670.9h0M490.6 671.8h0M491.4 671.2h0M491.6 671.2h0M491.4 670.4h0M491.6 671.0h0M491.4 670.7h0M492.5 670.8h0M492.4 670.6h0M492.4 671.0h0M492.4 670.8h0M492.4 670.7h0M493.3 669.7h0M493.2 671.1h0M493.5 671.9h0M493.5 671.3h0M493.2 671.6h0M494.4 672.1h0M494.3 672.4h0M494.2 670.2h0M494.2 672.3h0M494.2 671.6h0M495.3 672.2h0M495.2 673.3h0M495.3 673.5h0M495.1 673.2h0M495.3 672.5h0M496.0 673.1h0M496.1 672.7h0M496.3 673.3h0M496.0 673.6h0M496.1 673.8h0M497.2 674.7h0M497.1 675.2h0M497.0 673.9h0M497.1 674.0h0M496.9 675.7h0M497.9 674.7h0M497.9 675.9h0M498.0 675.0h0M498.0 675.1h0M497.9 675.8h0M499.0 675.8h0M498.8 676.9h0M498.8 676.0h0M498.8 676.0h0M498.8 675.5h0M499.8 676.3h0M499.7 677.1h0M499.9 676.7h0M499.7 676.1h0M499.7 676.2h0M500.7 677.2h0M500.8 675.8h0M500.9 675.9h0M500.8 676.6h0M500.7 677.0h0M501.8 677.3h0M501.6 675.7h0M501.6 676.5h0M501.6 676.4h0M501.5 676.8h0M502.6 677.9h0M502.7 678.2h0M502.5 675.8h0M502.6 677.2h0M502.5 675.8h0M503.7 675.0h0M503.5 677.5h0M503.5 676.5h0M503.4 676.9h0M503.6 676.6h0M504.3 677.0h0M504.4 676.8h0M504.5 676.3h0M504.3 676.8h0M504.6 678.3h0M505.3 676.2h0M505.5 676.6h0M505.3 677.3h0M505.5 675.7h0M505.3 676.4h0M506.2 677.5h0M506.2 675.7h0M506.4 677.1h0M506.3 677.1h0M506.2 677.7h0M507.3 677.5h0M507.3 677.3h0M507.1 677.5h0M507.1 676.2h0M507.3 677.3h0M508.0 677.0h0M508.0 676.5h0M508.1 676.3h0M508.2 676.7h0M508.2 675.9h0M509.0 676.4h0M509.0 677.3h0M509.1 677.3h0M509.1 676.3h0M509.0 677.5h0M509.9 676.5h0M510.0 677.6h0M509.8 676.1h0M510.0 678.4h0M510.1 677.5h0M510.8 676.9h0M510.8 677.2h0M511.0 676.6h0M510.9 676.2h0M510.8 677.2h0M511.7 676.7h0M511.9 678.0h0M511.7 677.5h0M511.8 675.5h0M511.7 677.3h0M512.8 677.1h0M512.6 676.9h0M512.8 677.1h0M512.9 677.2h0M512.7 677.7h0M513.7 676.2h0M513.6 676.9h0M513.7 677.2h0M513.6 676.7h0M513.8 676.1h0M514.7 677.2h0M514.6 675.8h0M514.6 675.4h0M514.6 677.0h0M514.7 676.5h0M515.4 677.0h0M515.6 676.5h0M515.6 675.7h0M515.4 676.8h0M515.6 676.0h0M516.3 676.5h0M516.4 676.2h0M516.5 676.7h0M516.3 676.6h0M516.5 677.1h0M517.4 676.8h0M517.5 677.3h0M517.4 677.5h0M517.3 677.4h0M517.5 677.6h0M518.2 676.7h0M518.3 676.8h0M518.4 676.9h0M518.3 677.3h0M518.3 676.5h0M519.1 676.2h0M519.3 675.9h0M519.1 676.4h0M519.2 675.4h0M519.3 676.3h0M520.2 676.6h0M520.2 676.2h0M520.3 676.5h0M520.1 675.6h0M520.1 676.5h0M521.0 677.2h0M521.0 676.1h0M521.1 676.5h0M521.1 676.0h0M521.1 677.9h0M521.9 677.5h0M521.9 678.1h0M521.9 676.6h0M521.9 676.6h0M522.0 676.1h0M523.0 677.6h0M522.9 675.1h0M523.0 676.2h0M522.8 676.7h0M522.9 677.2h0M523.9 677.1h0M523.9 676.3h0M523.7 677.6h0M524.0 676.9h0M523.9 676.5h0M524.7 677.1h0M524.9 677.2h0M524.8 677.0h0M524.7 676.6h0M524.7 676.0h0M525.7 676.9h0M525.7 676.4h0M525.7 676.7h0M525.6 676.5h0M525.8 677.1h0M526.5 676.4h0M526.5 676.5h0M526.5 676.9h0M526.6 676.4h0M526.6 676.6h0M527.5 676.5h0M527.6 675.6h0M527.6 677.0h0M527.5 675.7h0M527.5 677.4h0M528.5 676.2h0M528.5 676.6h0M528.5 676.6h0M528.5 675.7h0M528.4 676.4h0M529.2 676.1h0M529.3 675.9h0M529.5 676.9h0M529.3 677.1h0M529.5 676.3h0M530.3 677.2h0M530.3 676.0h0M530.2 678.1h0M530.4 677.4h0M530.4 676.8h0M531.1 676.8h0M531.1 678.3h0M531.2 677.1h0M531.2 677.8h0M531.2 676.4h0M532.1 677.0h0M532.1 676.2h0M532.0 677.4h0M532.2 676.8h0M532.0 675.6h0M533.0 676.5h0M533.2 677.5h0M533.1 675.4h0M533.2 676.6h0M533.0 675.0h0M534.1 675.7h0M533.9 676.1h0M533.9 677.2h0M534.1 675.1h0M534.0 676.4h0M534.8 677.0h0M534.8 676.2h0M535.0 676.9h0M535.0 677.6h0M534.8 676.6h0M535.7 676.9h0M535.8 678.0h0M535.8 676.3h0M535.7 677.6h0M535.8 677.4h0M536.7 676.9h0M536.7 676.3h0M536.8 677.7h0M536.8 676.6h0M536.8 676.2h0M537.7 677.8h0M537.5 677.1h0M537.7 676.2h0M537.6 677.4h0M537.6 676.4h0M538.5 676.2h0M538.6 677.1h0M538.7 676.5h0M538.6 677.4h0M538.5 677.2h0M539.6 676.5h0M539.5 677.7h0M539.6 676.0h0M539.6 677.1h0M539.5 676.5h0M540.4 676.4h0M540.4 677.1h0M540.5 676.7h0M540.5 676.7h0M540.4 677.1h0M541.3 677.1h0M541.3 676.4h0M541.4 676.1h0M541.3 676.6h0M541.5 677.2h0M542.2 676.3h0M542.4 677.0h0M542.3 676.6h0M542.4 676.4h0M542.3 676.4h0M543.3 677.7h0M543.3 674.6h0M543.1 676.6h0M543.2 677.0h0M543.1 675.8h0M544.0 676.8h0M544.1 676.8h0M544.3 677.6h0M544.2 677.5h0M544.1 677.1h0M545.1 676.0h0M545.0 677.3h0M545.1 675.9h0M545.0 675.5h0M545.2 676.7h0M545.9 676.6h0M545.9 676.8h0M546.0 676.8h0M546.0 676.6h0M546.0 677.0h0M546.8 676.1h0M547.0 677.3h0M546.8 676.3h0M547.0 677.9h0M546.8 675.9h0M547.8 677.4h0M547.8 677.3h0M547.8 676.0h0M547.7 677.2h0M547.8 675.4h0M548.8 676.1h0M548.8 677.0h0M548.8 674.7h0M548.8 675.9h0M548.7 677.3h0M549.6 676.5h0M549.8 675.9h0M549.6 677.5h0M549.6 676.8h0M549.7 677.3h0M550.6 677.0h0M550.5 675.4h0M550.6 677.1h0M550.5 676.3h0M550.5 677.1h0M551.5 677.1h0M551.6 678.3h0M551.7 675.7h0M551.5 677.1h0M551.4 676.9h0M552.5 677.5h0M552.5 676.8h0M552.4 675.7h0M552.3 676.0h0M552.5 677.6h0M553.3 676.7h0M553.5 678.6h0M553.5 676.7h0M553.2 676.6h0M553.3 677.1h0M554.2 676.8h0M554.3 677.9h0M554.3 676.9h0M554.3 676.6h0M554.1 677.3h0M555.1 676.9h0M555.2 677.7h0M555.1 676.2h0M555.1 676.9h0M555.2 677.6h0M556.1 675.7h0M556.1 676.8h0M556.3 674.7h0M556.2 676.4h0M556.1 676.2h0M557.0 677.0h0M557.0 676.4h0M557.0 676.4h0M557.1 676.4h0M557.2 676.5h0M558.1 676.7h0M557.8 675.7h0M557.9 677.1h0M558.0 677.1h0M558.0 676.4h0M558.8 676.7h0M558.8 676.9h0M558.9 676.9h0M559.0 676.2h0M558.9 676.6h0M559.9 677.2h0M559.8 676.1h0M559.7 677.7h0M559.7 677.2h0M559.8 677.5h0M560.7 676.1h0M560.7 677.2h0M560.8 676.4h0M560.8 676.6h0M560.7 675.6h0M561.6 675.9h0M561.8 676.6h0M561.7 676.6h0M561.6 676.5h0M561.8 676.7h0M562.5 676.1h0M562.7 677.8h0M562.6 676.6h0M562.5 677.9h0M562.5 677.2h0M563.6 676.5h0M563.6 676.2h0M563.4 676.3h0M563.4 676.9h0M563.5 676.8h0M564.4 675.9h0M564.4 676.8h0M564.5 677.2h0M564.5 677.4h0M564.3 676.8h0M565.5 676.3h0M565.4 677.7h0M565.3 677.0h0M565.3 676.0h0M565.2 678.2h0M566.3 676.1h0M566.3 675.3h0M566.4 677.7h0M566.2 676.6h0M566.2 676.9h0M567.2 677.8h0M567.1 676.0h0M567.1 676.9h0M567.1 676.3h0M567.3 676.7h0M568.0 676.4h0M568.1 676.3h0M568.1 677.1h0M568.2 676.3h0M568.2 677.3h0M569.2 677.2h0M569.1 676.7h0M569.0 677.1h0M569.0 677.8h0M569.1 676.2h0M570.0 677.0h0M570.0 677.2h0M570.1 676.7h0M569.9 676.3h0M569.9 677.0h0M570.9 676.9h0M570.9 677.8h0M570.9 676.5h0M570.9 677.5h0M571.0 677.6h0M571.9 677.4h0M571.9 677.7h0M571.9 676.4h0M571.8 677.0h0M571.8 676.2h0M572.7 675.4h0M572.6 676.1h0M572.7 675.7h0M572.8 677.3h0M572.7 677.1h0M573.7 677.1h0M573.7 677.2h0M573.7 676.9h0M573.8 677.0h0M573.8 676.6h0M574.5 676.9h0M574.5 676.7h0M574.6 676.5h0M574.5 677.1h0M574.7 676.5h0M575.6 676.2h0M575.5 676.9h0M575.5 675.3h0M575.6 675.8h0M575.6 677.5h0M576.5 676.6h0M576.4 677.2h0M576.4 675.8h0M576.5 676.2h0M576.5 676.7h0M577.4 676.7h0M577.5 676.1h0M577.3 678.1h0M577.4 676.7h0M577.4 676.1h0M578.3 675.9h0M578.4 676.6h0M578.4 676.9h0M578.4 677.0h0M578.2 677.5h0M579.1 676.4h0M579.2 677.0h0M579.1 675.9h0M579.3 676.1h0M579.1 677.5h0M580.1 676.4h0M580.0 676.2h0M580.2 676.1h0M580.2 676.3h0M580.0 676.7h0M581.0 677.2h0M581.0 676.4h0M581.0 675.8h0M581.0 677.1h0M581.1 675.5h0M582.1 677.2h0M582.1 677.2h0M582.0 676.7h0M582.0 676.3h0M581.9 677.6h0M582.9 677.2h0M583.0 677.2h0M583.0 677.4h0M582.9 669.5h0M582.9 675.5h0M583.9 676.9h0M583.8 677.1h0M583.7 676.5h0M583.9 676.6h0M583.8 675.9h0M584.8 677.0h0M584.7 678.2h0M584.9 677.1h0M584.6 677.2h0M584.7 676.5h0M585.7 677.2h0M585.7 676.0h0M585.6 676.8h0M585.6 676.1h0M585.6 676.6h0M586.6 675.5h0M586.7 677.2h0M586.5 677.6h0M586.7 677.2h0M586.7 676.7h0M587.6 676.6h0M587.4 677.0h0M587.6 677.6h0M587.5 676.3h0M587.5 676.6h0M588.4 677.2h0M588.5 677.9h0M588.5 676.7h0M588.4 675.7h0M588.5 676.2h0M589.3 677.0h0M589.3 676.5h0M589.2 676.6h0M589.4 676.8h0M589.3 676.6h0M590.2 677.6h0M590.4 677.1h0M590.2 677.4h0M590.4 675.5h0M590.2 678.1h0M591.2 676.0h0M591.1 677.2h0M591.3 676.4h0M591.2 676.5h0M591.3 676.9h0M592.1 676.1h0M592.2 677.2h0M592.3 676.6h0M592.2 677.3h0M592.2 676.5h0M593.1 677.1h0M592.9 676.6h0M593.0 676.0h0M593.0 677.4h0M593.1 677.0h0M594.0 676.4h0M594.1 676.3h0M594.1 677.4h0M593.9 676.6h0M593.9 677.0h0M594.9 676.5h0M594.9 677.5h0M594.9 677.6h0M594.8 677.1h0M595.0 675.9h0M595.7 675.7h0M595.9 675.8h0M595.9 676.1h0M595.8 677.0h0M595.8 677.0h0M596.9 677.5h0M596.7 675.7h0M596.7 675.8h0M596.8 676.9h0M596.6 677.8h0M597.5 676.8h0M597.6 676.6h0M597.8 677.4h0M597.8 676.5h0M597.5 676.1h0M598.6 677.2h0M598.5 675.6h0M598.7 676.9h0M598.7 676.0h0M598.5 678.2h0M599.6 676.2h0M599.6 676.5h0M599.5 676.8h0M599.5 676.3h0M599.6 676.7h0M600.3 677.0h0M600.3 675.8h0M600.3 677.9h0M600.3 677.3h0M600.4 677.3h0M601.3 677.4h0M601.4 675.6h0M601.5 676.6h0M601.5 676.3h0M601.4 677.3h0M602.2 676.9h0M602.2 678.0h0M602.3 676.8h0M602.3 676.5h0M602.4 677.0h0M603.3 678.2h0M603.3 676.9h0M603.2 676.7h0M603.1 676.7h0M603.3 677.0h0M604.0 678.1h0M604.1 677.6h0M604.0 677.1h0M604.2 676.4h0M604.1 676.4h0M605.1 677.6h0M605.1 677.3h0M604.9 677.1h0M605.1 676.1h0M605.2 677.2h0M605.9 677.9h0M606.0 676.6h0M605.9 676.9h0M606.0 676.3h0M606.0 676.8h0M607.0 677.4h0M606.9 676.1h0M606.8 675.5h0M606.9 677.0h0M606.9 677.1h0M607.9 678.3h0M607.7 676.1h0M607.9 676.9h0M607.9 677.3h0M607.8 677.1h0M608.8 677.5h0M608.7 677.5h0M608.8 677.8h0M608.7 676.3h0M608.8 676.6h0M609.6 678.3h0M609.6 675.6h0M609.5 674.9h0M609.8 676.6h0M609.7 676.4h0M610.6 677.2h0M610.7 676.7h0M610.7 675.6h0M610.7 675.9h0M610.5 677.4h0M611.6 677.1h0M611.6 676.9h0M611.6 676.7h0M611.5 676.6h0M611.6 676.3h0M612.4 676.9h0M612.3 676.4h0M612.6 676.6h0M612.5 677.7h0M612.5 675.9h0M613.3 676.2h0M613.2 675.3h0M613.2 676.9h0M613.4 677.1h0M613.3 676.7h0M614.4 676.3h0M614.3 676.5h0M614.3 677.1h0M614.2 676.3h0M614.1 676.7h0M615.2 676.3h0M615.2 677.3h0M615.2 676.3h0M615.2 675.3h0M615.2 676.5h0M616.2 676.4h0M616.1 676.8h0M616.2 675.4h0M616.2 677.1h0M616.1 677.1h0M616.9 676.3h0M617.1 676.3h0M617.0 677.5h0M617.1 676.8h0M617.0 676.3h0M617.8 676.8h0M617.9 671.7h0M617.9 677.7h0M618.0 675.2h0M618.1 676.8h0M618.9 677.4h0M618.9 676.9h0M618.8 677.0h0M618.9 677.8h0M618.9 676.7h0M619.9 678.3h0M619.9 676.6h0M619.9 677.6h0M619.7 673.5h0M619.8 677.1h0M620.7 678.6h0M620.6 675.9h0M620.8 675.9h0M620.7 676.5h0M620.8 677.6h0M621.6 676.9h0M621.6 676.8h0M621.5 677.7h0M621.6 676.7h0M621.7 676.9h0M622.6 677.9h0M622.7 677.8h0M622.5 676.8h0M622.7 676.6h0M622.5 676.4h0M623.6 675.8h0M623.5 676.7h0M623.6 675.9h0M623.5 676.6h0M623.4 677.9h0M624.3 675.6h0M624.4 676.6h0M624.5 677.8h0M624.6 676.7h0M624.4 677.5h0M625.3 676.7h0M625.4 677.5h0M625.4 678.1h0M625.5 676.4h0M625.2 676.1h0M626.4 677.5h0M626.4 678.1h0M626.2 675.2h0M626.3 676.5h0M626.1 677.9h0M627.3 677.6h0M627.3 677.2h0M627.2 677.1h0M627.2 676.9h0M627.1 676.2h0M628.2 675.4h0M628.2 676.0h0M628.2 676.0h0M628.1 676.1h0M628.3 677.0h0M629.0 675.7h0M629.0 678.3h0M629.0 677.1h0M629.0 677.8h0M629.0 676.2h0M629.8 676.7h0M630.1 676.4h0M630.1 676.0h0M629.9 677.3h0M630.0 677.2h0M630.9 676.5h0M630.9 677.6h0M630.8 676.6h0M630.9 675.4h0M630.8 676.6h0M631.8 678.1h0M631.8 676.3h0M631.7 677.0h0M631.8 677.1h0M631.9 676.1h0M632.7 676.4h0M632.8 677.5h0M632.8 677.2h0M632.8 677.0h0M632.8 677.6h0M633.7 678.1h0M633.7 676.7h0M633.6 676.7h0M633.8 676.2h0M633.8 676.7h0M634.5 676.3h0M634.7 676.7h0M634.6 676.4h0M634.5 676.3h0M634.6 676.2h0M635.4 676.4h0M635.6 676.0h0M635.5 676.3h0M635.5 675.9h0M635.4 676.8h0M636.3 676.7h0M636.3 676.4h0M636.4 676.7h0M636.4 675.5h0M636.4 676.9h0M637.3 677.2h0M637.2 676.2h0M637.4 676.7h0M637.5 677.0h0M637.4 676.9h0M638.2 675.8h0M638.1 676.6h0M638.3 676.9h0M638.2 677.2h0M638.2 675.8h0M639.3 675.7h0M639.3 676.2h0M639.2 677.9h0M639.1 676.5h0M639.1 677.2h0M640.0 677.2h0M640.0 676.5h0M640.1 676.9h0M640.2 677.3h0M640.0 676.9h0M641.1 675.9h0M640.9 676.6h0M641.0 677.9h0M641.0 677.3h0M641.0 676.2h0M642.0 676.5h0M641.9 677.0h0M642.1 677.0h0M642.0 675.7h0M641.9 677.6h0M642.9 677.2h0M642.8 677.8h0M642.8 676.4h0M642.8 677.3h0M642.9 677.2h0M643.8 676.6h0M643.7 676.6h0M643.9 677.4h0M643.9 677.6h0M643.7 677.4h0M644.7 676.4h0M644.9 676.8h0M644.6 677.4h0M644.7 677.1h0M644.8 676.7h0M645.5 676.1h0M645.6 675.6h0M645.6 677.0h0M645.6 676.6h0M645.8 676.3h0M646.5 677.2h0M646.5 676.8h0M646.6 677.5h0M646.6 677.8h0M646.5 676.3h0M647.5 678.0h0M647.6 676.4h0M647.6 676.4h0M647.4 676.2h0M647.4 676.3h0M648.5 676.9h0M648.4 676.5h0M648.5 676.0h0M648.4 676.9h0M648.4 676.2h0M649.4 676.4h0M649.3 676.3h0M649.4 676.2h0M649.4 676.3h0M649.3 676.6h0M650.2 676.6h0M650.3 677.2h0M650.3 676.4h0M650.4 675.7h0M650.3 677.0h0M651.1 675.9h0M651.3 676.8h0M651.3 677.0h0M651.3 677.8h0M651.1 676.5h0M652.0 675.2h0M652.1 676.4h0M652.0 678.0h0M652.1 677.1h0M652.2 677.2h0M653.1 670.2h0M653.1 676.5h0M653.1 676.4h0M653.1 676.9h0M653.1 677.5h0M654.0 675.8h0M653.9 677.6h0M653.9 677.7h0M653.9 677.0h0M654.0 676.2h0M86.3 678.0h0" stroke="#a8a8a8" stroke-width="1.55" stroke-linecap="round" fill="none"/>
<path d="M105.7 677.6h0M107.1 677.6h0M125.1 677.6h0M126.5 677.6h0M127.9 677.6h0M174.6 677.6h0M234.9 677.6h0M278.7 677.6h0M352.5 677.6h0M356.9 677.6h0" stroke="#46c86c" stroke-width="2.75" stroke-linecap="round" fill="none"/>
<path d="M102.8 677.2h0M110.7 677.6h0M113.3 677.8h0M115.9 677.3h0M120.7 678.2h0M132.5 677.0h0M134.3 676.3h0M134.3 676.7h0M140.4 677.0h0M157.0 675.5h0M160.9 676.7h0M162.3 677.1h0M171.1 676.7h0M172.2 677.1h0M178.1 677.0h0M184.2 677.0h0M191.2 675.6h0M235.3 676.8h0M243.7 676.7h0M247.6 676.4h0M256.3 675.6h0M284.3 676.9h0M285.2 677.1h0M295.2 675.3h0M305.4 677.6h0M341.5 677.0h0M342.4 676.4h0M371.0 675.4h0M389.5 677.3h0M393.9 678.2h0M409.2 676.4h0M412.9 677.1h0M423.9 677.0h0M434.0 676.5h0M436.1 676.6h0M439.8 676.6h0M442.8 677.0h0M448.0 676.0h0M458.8 674.5h0M461.1 674.7h0M464.8 673.9h0M467.3 672.9h0M469.9 673.3h0M474.3 675.4h0M476.5 675.7h0M474.9 674.3h0M494.8 672.2h0M501.0 676.8h0M505.9 676.6h0M509.3 676.8h0M509.6 676.8h0M514.4 677.9h0M515.9 675.7h0M517.4 676.6h0M520.2 677.3h0M526.1 676.2h0M532.6 676.6h0M536.3 676.8h0M537.1 676.1h0M543.7 675.4h0M544.7 676.4h0M547.6 675.8h0M548.7 675.5h0M556.0 677.4h0M556.0 677.1h0M559.4 676.3h0M579.0 677.8h0M592.6 676.9h0M593.6 676.0h0M599.1 676.1h0M626.2 676.4h0M641.8 677.9h0M644.5 675.4h0M483.7 655.8h0" stroke="#4452a6" stroke-width="2.75" stroke-linecap="round" fill="none"/>
<path d="M405.6 676.4h0M414.3 676.3h0M419.2 676.5h0M425.2 677.8h0M428.2 677.6h0M430.3 677.5h0M431.1 675.6h0M434.8 677.3h0M439.8 676.9h0M444.3 676.9h0M445.4 676.4h0M446.3 676.4h0M454.4 676.2h0M460.1 675.7h0M463.2 675.9h0M467.5 673.2h0M471.2 673.7h0M479.2 675.3h0M487.4 675.0h0M492.5 671.2h0M493.3 670.7h0M496.6 675.0h0M499.8 676.9h0M504.9 677.4h0M510.0 676.6h0M512.7 675.5h0M521.0 676.3h0M534.8 676.1h0M535.5 676.6h0M541.5 676.6h0M542.8 677.0h0M546.3 676.9h0M560.4 678.2h0M564.3 677.5h0M590.2 677.5h0M600.0 676.3h0M601.4 676.4h0M604.8 676.1h0M604.8 675.8h0M613.8 676.9h0M618.5 676.1h0M628.7 675.6h0M632.5 676.8h0M635.4 676.1h0M652.0 676.9h0M652.9 677.7h0M550.3 649.4h0" stroke="#c6532e" stroke-width="2.75" stroke-linecap="round" fill="none"/>
<text x="56.6" y="681.5" font-size="7.9" text-anchor="end" fill="#333333" font-weight="normal" >0.0</text>
<text x="56.6" y="660.1" font-size="7.9" text-anchor="end" fill="#333333" font-weight="normal" >0.5</text>
<text x="56.6" y="638.8" font-size="7.9" text-anchor="end" fill="#333333" font-weight="normal" >1.0</text>
<text x="85.4" y="687.4" font-size="8.1" text-anchor="middle" fill="#333333" font-weight="normal" >0</text>
<text x="177.7" y="687.4" font-size="8.1" text-anchor="middle" fill="#333333" font-weight="normal" >100</text>
<text x="270.0" y="687.4" font-size="8.1" text-anchor="middle" fill="#333333" font-weight="normal" >200</text>
<text x="362.3" y="687.4" font-size="8.1" text-anchor="middle" fill="#333333" font-weight="normal" >300</text>
<text x="454.6" y="687.4" font-size="8.1" text-anchor="middle" fill="#333333" font-weight="normal" >400</text>
<text x="546.9" y="687.4" font-size="8.1" text-anchor="middle" fill="#333333" font-weight="normal" >500</text>
<text x="639.2" y="687.4" font-size="8.1" text-anchor="middle" fill="#333333" font-weight="normal" >600</text>
<text x="0" y="0" font-size="9.4" fill="#333333" text-anchor="middle" transform="translate(24.0,657.9) rotate(-90)">Maverick</text>
<text x="0" y="0" font-size="9.4" fill="#333333" text-anchor="middle" transform="translate(33.5,657.9) rotate(-90)">Recessive</text>
<text x="0" y="0" font-size="9.4" fill="#333333" text-anchor="middle" transform="translate(43.0,657.9) rotate(-90)">Score</text>
<rect x="58.0" y="694.3" width="625.4" height="46.2" fill="none" stroke="#999" stroke-width="1.2"/>
<path d="M86.2 701.2h0M86.3 703.0h0M86.4 706.1h0M86.2 702.5h0M86.3 705.5h0M87.2 703.9h0M87.2 711.5h0M87.2 705.5h0M87.2 699.3h0M87.1 704.5h0M88.0 701.5h0M88.1 703.9h0M88.1 703.0h0M88.1 704.7h0M88.1 699.7h0M89.0 702.2h0M89.1 702.8h0M89.2 705.5h0M89.2 703.0h0M89.0 702.4h0M90.0 704.3h0M90.0 700.4h0M90.0 704.3h0M90.0 703.7h0M90.0 705.6h0M91.0 700.1h0M91.1 703.5h0M91.0 700.2h0M91.0 701.2h0M91.0 700.0h0M92.0 702.6h0M91.8 696.8h0M91.8 703.9h0M91.8 700.5h0M91.9 704.3h0M92.7 708.1h0M92.7 700.4h0M92.8 703.6h0M92.8 704.6h0M92.9 703.9h0M93.7 701.2h0M93.7 704.0h0M93.7 706.4h0M93.8 704.1h0M93.6 705.5h0M94.7 702.1h0M94.7 701.0h0M94.6 704.4h0M94.5 699.1h0M94.6 704.9h0M95.7 706.5h0M95.6 700.6h0M95.5 701.3h0M95.6 704.8h0M95.4 702.4h0M96.5 702.6h0M96.6 699.5h0M96.5 708.0h0M96.5 702.8h0M96.5 704.9h0M97.4 704.7h0M97.4 700.1h0M97.3 701.6h0M97.4 704.2h0M97.3 702.1h0M98.3 701.2h0M98.4 704.5h0M98.4 700.6h0M98.2 700.7h0M98.4 702.5h0M99.2 699.7h0M99.2 704.0h0M99.1 700.9h0M99.2 701.4h0M99.4 703.9h0M100.2 702.5h0M100.2 724.3h0M100.0 703.0h0M100.2 703.6h0M100.3 701.6h0M101.1 698.9h0M101.0 699.9h0M101.2 716.3h0M101.1 699.1h0M101.0 699.4h0M101.9 698.1h0M102.0 701.3h0M102.1 699.2h0M102.0 702.8h0M102.1 699.6h0M103.0 699.7h0M102.9 703.0h0M102.8 700.6h0M102.9 699.5h0M102.9 697.0h0M103.9 700.6h0M103.9 699.1h0M103.9 700.3h0M104.0 697.2h0M103.9 700.9h0M104.9 698.0h0M104.7 701.1h0M104.8 698.7h0M104.7 700.2h0M104.8 699.0h0M105.8 700.6h0M105.8 700.4h0M105.6 698.8h0M105.6 701.8h0M105.8 701.7h0M106.5 698.8h0M106.7 697.7h0M106.7 699.5h0M106.6 700.0h0M106.6 700.4h0M107.4 700.2h0M107.4 698.6h0M107.6 698.2h0M107.5 699.4h0M107.5 698.7h0M108.5 700.3h0M108.6 696.9h0M108.5 698.8h0M108.5 697.2h0M108.6 700.2h0M109.5 698.9h0M109.3 699.2h0M109.4 698.5h0M109.4 699.5h0M109.5 697.6h0M110.4 699.0h0M110.3 698.1h0M110.4 700.8h0M110.3 699.0h0M110.3 699.7h0M111.3 699.0h0M111.2 698.3h0M111.3 699.1h0M111.3 698.2h0M111.1 700.9h0M112.1 699.4h0M112.0 700.1h0M112.3 698.8h0M112.1 698.4h0M112.1 698.3h0M113.2 696.8h0M113.1 698.4h0M113.0 698.0h0M113.1 698.2h0M113.1 700.1h0M114.1 699.7h0M114.0 697.7h0M114.0 698.2h0M114.0 699.2h0M114.1 699.4h0M114.8 700.0h0M114.9 699.4h0M114.9 699.0h0M115.0 696.8h0M114.9 699.6h0M115.8 697.0h0M115.9 700.4h0M115.9 697.8h0M115.9 697.8h0M115.8 698.8h0M116.8 699.1h0M116.9 696.8h0M116.8 697.8h0M116.9 696.8h0M116.8 699.2h0M117.8 699.8h0M117.6 698.7h0M117.8 701.3h0M117.6 698.9h0M117.6 698.3h0M118.6 699.8h0M118.6 698.3h0M118.6 699.3h0M118.5 700.8h0M118.5 700.4h0M119.7 699.6h0M119.5 701.2h0M119.5 699.8h0M119.7 700.4h0M119.6 698.3h0M120.5 699.0h0M120.4 700.6h0M120.4 698.0h0M120.6 700.5h0M120.4 697.5h0M121.4 696.8h0M121.4 697.3h0M121.4 699.7h0M121.4 697.8h0M121.4 697.7h0M122.2 698.5h0M122.3 699.8h0M122.3 698.4h0M122.4 698.4h0M122.3 700.0h0M123.1 701.3h0M123.4 697.9h0M123.4 700.1h0M123.3 699.5h0M123.3 700.7h0M124.1 700.6h0M124.3 697.5h0M124.1 699.8h0M124.2 698.7h0M124.1 699.8h0M125.0 700.8h0M125.1 700.5h0M125.0 702.2h0M125.0 697.3h0M125.0 698.3h0M126.0 699.8h0M125.9 701.3h0M126.1 698.8h0M126.0 699.6h0M126.1 701.3h0M126.9 699.1h0M126.8 698.7h0M126.9 698.4h0M126.9 701.2h0M126.8 699.7h0M127.7 698.5h0M127.8 697.7h0M127.8 700.3h0M127.9 699.2h0M127.8 697.6h0M128.8 701.9h0M128.7 698.4h0M128.8 709.0h0M128.9 701.2h0M128.8 703.4h0M129.7 708.3h0M129.6 698.4h0M129.6 697.8h0M129.8 702.5h0M129.6 703.8h0M130.7 704.9h0M130.7 699.2h0M130.5 699.0h0M130.5 698.5h0M130.7 697.8h0M131.6 703.8h0M131.5 707.5h0M131.5 705.8h0M131.7 709.3h0M131.5 700.5h0M132.4 710.8h0M132.4 708.8h0M132.6 710.4h0M132.6 709.8h0M132.4 713.8h0M133.5 704.1h0M133.3 725.8h0M133.5 706.5h0M133.5 712.2h0M133.5 712.4h0M134.2 714.2h0M134.3 720.7h0M134.3 706.1h0M134.4 706.9h0M134.2 716.9h0M135.2 717.8h0M135.3 710.6h0M135.2 710.5h0M135.2 705.3h0M135.3 696.8h0M136.2 707.5h0M136.2 705.6h0M136.2 704.8h0M136.2 728.0h0M136.1 698.6h0M137.0 718.1h0M137.2 728.5h0M137.2 700.1h0M137.0 717.2h0M137.2 714.2h0M138.1 713.3h0M137.9 708.9h0M138.1 710.9h0M137.9 727.7h0M137.9 707.0h0M139.0 711.1h0M138.8 718.3h0M139.1 721.0h0M139.0 714.5h0M138.9 723.7h0M140.0 728.3h0M140.0 718.8h0M139.8 710.2h0M139.9 724.9h0M139.8 721.8h0M140.7 731.4h0M140.7 724.2h0M140.8 708.9h0M140.9 717.0h0M140.8 705.6h0M141.8 725.2h0M141.8 716.3h0M141.8 726.5h0M141.6 715.7h0M141.7 734.1h0M142.5 731.5h0M142.6 718.4h0M142.6 736.9h0M142.6 705.6h0M142.5 738.9h0M143.4 732.5h0M143.6 729.5h0M143.5 730.5h0M143.6 735.5h0M143.5 704.4h0M144.5 716.1h0M144.4 738.9h0M144.4 720.1h0M144.6 697.0h0M144.5 723.8h0M145.3 717.3h0M145.5 719.9h0M145.3 717.3h0M145.3 723.9h0M145.3 723.1h0M146.3 727.6h0M146.4 711.4h0M146.3 713.8h0M146.2 723.6h0M146.4 712.3h0M147.2 725.4h0M147.4 734.8h0M147.1 709.7h0M147.2 731.8h0M147.3 714.1h0M148.1 717.3h0M148.1 722.3h0M148.3 728.3h0M148.1 730.8h0M148.2 720.2h0M149.2 720.9h0M149.0 719.0h0M149.2 723.5h0M149.0 714.0h0M149.0 723.4h0M150.0 728.6h0M150.1 726.8h0M149.9 716.5h0M150.1 738.9h0M149.9 724.4h0M150.8 725.3h0M151.0 730.9h0M151.0 736.4h0M150.9 713.1h0M150.9 727.3h0M152.0 735.4h0M152.0 718.5h0M151.7 705.0h0M151.7 712.3h0M152.0 709.7h0M152.8 724.3h0M152.9 712.7h0M152.9 738.1h0M152.8 723.1h0M152.8 716.1h0M153.6 726.7h0M153.7 715.4h0M153.6 729.7h0M153.7 721.4h0M153.8 722.2h0M154.7 723.0h0M154.6 733.1h0M154.7 738.6h0M154.7 707.3h0M154.6 724.0h0M155.4 700.8h0M155.6 724.7h0M155.7 724.5h0M155.5 726.6h0M155.6 700.9h0M156.6 730.0h0M156.3 722.7h0M156.6 723.1h0M156.3 721.4h0M156.5 720.4h0M157.4 724.8h0M157.5 710.6h0M157.3 738.9h0M157.3 726.3h0M157.4 737.0h0M158.4 734.4h0M158.4 730.2h0M158.4 725.5h0M158.3 712.1h0M158.3 700.4h0M159.3 733.4h0M159.3 736.6h0M159.4 705.0h0M159.4 729.4h0M159.4 707.8h0M160.2 722.2h0M160.2 698.5h0M160.1 720.7h0M160.1 711.2h0M160.1 709.3h0M161.2 723.9h0M161.0 721.6h0M161.2 713.5h0M161.0 708.1h0M161.1 727.4h0M162.1 727.0h0M162.0 724.2h0M162.0 705.9h0M162.0 710.0h0M162.1 715.9h0M163.1 704.5h0M162.8 718.2h0M163.0 707.7h0M162.9 710.6h0M162.8 718.3h0M163.7 730.2h0M163.8 734.6h0M163.8 703.5h0M163.8 706.6h0M163.8 711.6h0M164.8 710.5h0M164.8 714.4h0M164.9 704.7h0M164.8 709.2h0M164.9 706.1h0M165.8 724.0h0M165.8 721.0h0M165.8 705.4h0M165.7 706.9h0M165.7 720.3h0M166.8 725.5h0M166.7 697.1h0M166.6 717.0h0M166.7 711.6h0M166.5 717.9h0M167.6 714.8h0M167.5 710.6h0M167.6 717.0h0M167.6 717.7h0M167.7 725.5h0M168.4 717.0h0M168.3 720.8h0M168.5 723.1h0M168.3 715.0h0M168.4 705.6h0M169.4 706.1h0M169.3 718.7h0M169.4 709.0h0M169.4 707.4h0M169.4 709.0h0M170.2 712.4h0M170.4 710.7h0M170.3 715.1h0M170.2 704.4h0M170.3 706.3h0M171.1 714.0h0M171.4 710.3h0M171.3 701.6h0M171.2 715.3h0M171.1 703.1h0M172.1 704.3h0M172.0 706.5h0M172.1 707.8h0M172.2 698.4h0M172.1 706.9h0M173.0 712.0h0M173.0 710.8h0M173.1 709.0h0M173.1 708.6h0M173.0 704.3h0M174.0 707.3h0M173.9 699.6h0M174.1 716.0h0M173.9 700.5h0M174.0 711.4h0M174.8 708.8h0M175.0 706.8h0M174.9 708.9h0M174.8 712.3h0M175.1 708.0h0M175.9 709.0h0M175.9 707.9h0M175.9 698.8h0M176.0 718.2h0M175.9 710.9h0M176.9 699.1h0M176.8 705.3h0M176.8 708.7h0M176.7 710.9h0M176.7 697.7h0M177.8 704.6h0M177.7 709.6h0M177.6 711.5h0M177.7 703.1h0M177.6 711.8h0M178.5 698.3h0M178.5 702.3h0M178.5 709.3h0M178.6 702.8h0M178.6 707.7h0M179.5 718.1h0M179.5 704.9h0M179.7 702.6h0M179.5 700.4h0M179.5 704.3h0M180.4 699.0h0M180.6 729.2h0M180.3 704.0h0M180.4 704.5h0M180.3 708.4h0M181.3 700.8h0M181.5 703.1h0M181.3 701.9h0M181.3 698.4h0M181.4 703.4h0M182.3 702.1h0M182.4 708.7h0M182.3 703.2h0M182.3 701.0h0M182.4 702.3h0M183.2 710.4h0M183.1 704.1h0M183.2 707.5h0M183.2 704.3h0M183.3 703.4h0M184.2 703.9h0M184.0 706.2h0M184.2 700.8h0M184.0 701.6h0M184.3 709.0h0M185.1 701.4h0M185.1 708.0h0M185.0 700.0h0M185.0 711.6h0M184.9 704.0h0M186.0 705.3h0M186.0 712.4h0M186.0 707.4h0M186.1 700.1h0M185.9 708.8h0M186.9 706.7h0M186.9 712.5h0M187.0 700.7h0M186.9 706.9h0M187.0 710.5h0M187.9 714.9h0M187.9 716.0h0M187.9 713.0h0M187.8 714.2h0M188.0 713.0h0M188.7 705.6h0M188.9 711.7h0M188.8 724.7h0M188.7 719.7h0M188.8 722.2h0M189.7 710.0h0M189.6 710.4h0M189.7 716.2h0M189.7 711.8h0M189.8 709.7h0M190.6 706.1h0M190.6 705.6h0M190.7 709.2h0M190.6 723.6h0M190.7 718.7h0M191.7 719.2h0M191.4 717.3h0M191.4 729.0h0M191.6 727.2h0M191.5 731.8h0M192.4 724.7h0M192.4 722.8h0M192.4 720.4h0M192.5 736.0h0M192.5 708.8h0M193.5 731.3h0M193.3 719.6h0M193.4 718.0h0M193.4 726.0h0M193.5 718.1h0M194.3 716.8h0M194.3 723.3h0M194.4 728.4h0M194.4 714.8h0M194.3 725.5h0M195.3 728.0h0M195.1 725.8h0M195.4 726.7h0M195.2 717.1h0M195.2 715.2h0M196.2 723.2h0M196.1 718.7h0M196.1 725.6h0M196.2 723.0h0M196.1 718.0h0M197.1 725.0h0M197.0 733.0h0M197.0 732.4h0M197.2 729.6h0M197.0 735.0h0M198.0 732.6h0M198.0 737.8h0M198.1 722.4h0M198.0 727.2h0M198.1 736.1h0M199.0 721.9h0M198.8 728.2h0M198.8 721.6h0M199.1 731.3h0M199.0 724.4h0M199.9 729.8h0M199.9 725.7h0M199.8 719.6h0M199.8 738.9h0M199.7 731.1h0M200.9 719.0h0M200.8 698.0h0M200.8 729.3h0M200.9 727.4h0M200.7 731.8h0M201.7 698.9h0M201.8 735.3h0M201.7 723.4h0M201.8 738.9h0M201.6 729.4h0M202.8 728.8h0M202.7 734.6h0M202.5 735.4h0M202.7 733.8h0M202.6 730.7h0M203.4 720.4h0M203.4 724.6h0M203.6 723.7h0M203.5 730.6h0M203.5 724.7h0M204.3 727.8h0M204.5 724.4h0M204.5 727.2h0M204.4 736.5h0M204.4 724.6h0M205.4 724.8h0M205.4 737.7h0M205.3 718.8h0M205.4 718.9h0M205.4 727.9h0M206.4 723.1h0M206.3 730.6h0M206.2 732.9h0M206.3 730.8h0M206.2 723.4h0M207.2 728.6h0M207.1 727.4h0M207.3 719.4h0M207.3 726.0h0M207.2 720.7h0M208.3 719.5h0M208.1 717.8h0M208.0 728.0h0M208.1 723.4h0M208.1 720.2h0M209.1 722.6h0M209.0 716.5h0M209.0 715.9h0M209.2 715.3h0M209.0 713.9h0M209.9 716.7h0M210.0 725.3h0M209.9 707.6h0M209.9 725.1h0M210.0 705.6h0M211.0 713.3h0M211.0 718.2h0M210.9 711.8h0M210.9 710.9h0M210.9 711.3h0M211.7 719.6h0M211.8 718.8h0M211.8 713.5h0M211.8 715.0h0M211.8 714.3h0M212.8 722.1h0M212.8 717.7h0M212.8 705.4h0M212.7 723.6h0M212.8 712.3h0M213.8 720.1h0M213.6 724.8h0M213.6 719.7h0M213.6 718.1h0M213.7 722.8h0M214.6 721.1h0M214.7 715.9h0M214.7 719.3h0M214.7 718.3h0M214.6 717.6h0M215.6 717.2h0M215.7 725.7h0M215.6 715.6h0M215.5 716.3h0M215.4 725.3h0M216.5 718.0h0M216.5 726.4h0M216.4 725.0h0M216.5 732.2h0M216.5 730.5h0M217.3 708.5h0M217.3 720.6h0M217.3 715.9h0M217.5 726.1h0M217.3 715.9h0M218.2 733.8h0M218.2 718.9h0M218.4 727.6h0M218.3 729.5h0M218.2 719.9h0M219.1 723.3h0M219.4 715.6h0M219.2 719.6h0M219.3 728.2h0M219.2 713.8h0M220.2 725.2h0M220.2 723.9h0M220.1 727.0h0M220.2 735.8h0M220.3 729.3h0M221.1 714.1h0M221.2 733.3h0M220.9 719.8h0M221.1 732.3h0M221.1 732.7h0M222.0 727.3h0M222.0 718.6h0M222.1 721.3h0M222.0 721.3h0M221.9 727.3h0M222.8 717.1h0M223.0 726.2h0M222.9 729.0h0M222.8 732.2h0M223.0 719.7h0M223.8 728.0h0M223.8 735.2h0M223.8 733.1h0M223.8 724.9h0M223.8 720.6h0M224.7 724.1h0M224.9 724.4h0M224.9 738.8h0M224.8 712.7h0M224.9 715.8h0M225.8 738.7h0M225.6 711.7h0M225.6 714.4h0M225.6 735.0h0M225.6 718.6h0M226.5 719.3h0M226.5 714.6h0M226.6 713.9h0M226.7 730.8h0M226.7 704.4h0M227.5 724.1h0M227.4 731.7h0M227.5 721.6h0M227.4 720.8h0M227.4 719.9h0M228.5 731.3h0M228.4 717.9h0M228.5 719.8h0M228.5 717.1h0M228.5 710.0h0M229.5 711.6h0M229.3 714.7h0M229.3 718.2h0M229.4 717.6h0M229.3 725.6h0M230.2 701.3h0M230.4 716.6h0M230.3 729.6h0M230.2 730.1h0M230.4 730.2h0M231.2 720.9h0M231.4 727.5h0M231.3 720.8h0M231.1 721.8h0M231.3 728.0h0M232.2 733.2h0M232.1 705.7h0M232.1 726.9h0M232.0 720.9h0M232.2 713.8h0M233.2 718.5h0M233.2 715.9h0M233.1 728.8h0M233.1 708.8h0M233.2 721.9h0M233.9 726.7h0M234.0 720.9h0M234.1 726.0h0M234.1 729.8h0M233.9 725.0h0M234.9 724.3h0M235.0 726.1h0M234.9 734.6h0M234.8 727.4h0M235.0 710.3h0M235.9 738.8h0M235.8 724.6h0M235.7 722.0h0M235.9 732.5h0M235.8 713.9h0M236.8 737.2h0M236.7 729.1h0M236.7 731.6h0M236.8 723.1h0M236.8 738.6h0M237.7 731.5h0M237.6 698.7h0M237.8 733.8h0M237.8 732.2h0M237.8 723.5h0M238.5 726.0h0M238.7 733.2h0M238.6 726.1h0M238.6 737.9h0M238.7 732.6h0M239.5 724.4h0M239.6 730.1h0M239.6 707.9h0M239.6 736.6h0M239.5 734.1h0M240.5 726.3h0M240.4 725.3h0M240.5 716.4h0M240.4 709.9h0M240.6 736.5h0M241.3 738.9h0M241.4 731.7h0M241.4 719.9h0M241.5 728.9h0M241.3 733.3h0M242.3 735.2h0M242.3 727.1h0M242.2 737.4h0M242.4 731.0h0M242.2 732.3h0M243.1 715.5h0M243.3 722.5h0M243.2 729.3h0M243.2 738.9h0M243.2 727.2h0M244.2 737.9h0M244.0 724.1h0M244.2 726.4h0M244.1 730.9h0M244.1 728.3h0M245.0 738.9h0M245.0 729.0h0M245.1 724.6h0M244.9 714.6h0M245.0 713.6h0M246.0 723.2h0M246.1 728.4h0M246.0 738.9h0M246.1 731.1h0M245.9 726.3h0M246.8 738.7h0M247.0 718.3h0M247.0 732.4h0M246.9 718.5h0M246.9 729.7h0M247.8 710.0h0M247.7 728.3h0M247.8 724.6h0M247.8 726.3h0M247.9 730.7h0M248.7 732.2h0M248.8 738.7h0M248.8 736.0h0M248.7 725.0h0M248.9 727.8h0M249.7 725.0h0M249.7 719.9h0M249.7 730.6h0M249.8 726.4h0M249.6 724.6h0M250.6 726.8h0M250.7 738.9h0M250.6 712.4h0M250.7 718.3h0M250.6 735.0h0M251.6 730.7h0M251.6 720.3h0M251.6 737.3h0M251.5 738.8h0M251.5 724.9h0M252.4 727.3h0M252.6 717.9h0M252.4 728.8h0M252.5 734.8h0M252.5 717.1h0M253.3 720.6h0M253.3 732.8h0M253.5 725.9h0M253.3 718.2h0M253.5 732.3h0M254.3 732.3h0M254.3 728.0h0M254.2 731.9h0M254.3 719.6h0M254.3 732.6h0M255.4 724.2h0M255.3 733.3h0M255.2 723.1h0M255.3 734.6h0M255.1 727.7h0M256.2 721.9h0M256.1 724.5h0M256.2 720.1h0M256.1 699.6h0M256.2 733.5h0M257.1 738.9h0M257.1 714.4h0M257.0 717.5h0M257.2 724.4h0M257.1 735.9h0M258.0 719.2h0M257.9 719.7h0M257.9 736.7h0M258.1 728.7h0M258.0 717.5h0M258.8 720.8h0M258.9 723.5h0M259.0 720.2h0M258.9 727.5h0M259.0 734.5h0M260.0 726.0h0M259.9 723.6h0M259.7 725.0h0M259.9 732.7h0M259.7 728.7h0M260.8 715.2h0M260.9 730.1h0M260.7 724.1h0M260.7 715.2h0M260.8 736.1h0M261.7 715.9h0M261.7 718.7h0M261.7 738.9h0M261.7 730.2h0M261.7 721.6h0M262.5 731.1h0M262.8 722.1h0M262.6 721.2h0M262.5 721.5h0M262.6 698.1h0M263.5 725.1h0M263.7 724.2h0M263.4 732.8h0M263.6 722.5h0M263.4 708.8h0M264.4 716.1h0M264.6 711.2h0M264.6 724.1h0M264.6 720.5h0M264.5 716.4h0M265.3 707.1h0M265.3 712.5h0M265.3 706.9h0M265.3 707.5h0M265.3 712.6h0M266.4 706.1h0M266.2 715.5h0M266.3 723.1h0M266.3 722.1h0M266.3 717.9h0M267.4 719.2h0M267.2 708.7h0M267.2 700.3h0M267.3 707.1h0M267.2 716.3h0M268.1 712.7h0M268.2 704.3h0M268.2 699.4h0M268.2 707.8h0M268.1 707.2h0M269.0 701.3h0M269.2 709.0h0M269.1 705.5h0M269.1 708.3h0M269.2 699.3h0M270.1 706.8h0M269.9 707.5h0M270.0 719.1h0M270.1 703.6h0M269.9 711.4h0M270.8 699.4h0M271.0 708.7h0M270.8 705.7h0M270.8 705.9h0M271.0 709.2h0M271.9 708.3h0M271.9 715.3h0M271.9 706.3h0M271.7 708.5h0M271.7 714.1h0M272.8 709.9h0M272.9 703.5h0M272.7 702.7h0M272.8 701.9h0M272.8 706.7h0M273.7 708.9h0M273.7 708.7h0M273.7 710.4h0M273.6 710.3h0M273.7 704.2h0M274.5 705.1h0M274.6 704.9h0M274.7 710.3h0M274.6 710.3h0M274.6 711.7h0M275.5 708.4h0M275.7 707.4h0M275.4 717.4h0M275.4 705.4h0M275.4 707.7h0M276.3 710.0h0M276.5 699.4h0M276.5 705.0h0M276.4 700.4h0M276.4 731.7h0M277.3 698.7h0M277.3 706.7h0M277.3 713.8h0M277.5 707.8h0M277.3 713.6h0M278.3 707.8h0M278.2 702.8h0M278.4 705.9h0M278.3 712.4h0M278.4 701.2h0M279.2 710.4h0M279.3 699.8h0M279.1 709.3h0M279.4 712.3h0M279.2 710.3h0M280.1 697.2h0M280.2 705.4h0M280.1 706.6h0M280.0 704.1h0M280.0 707.1h0M281.0 702.6h0M281.0 707.5h0M281.0 704.8h0M281.1 707.6h0M281.1 706.8h0M282.1 713.4h0M281.9 704.0h0M282.1 705.3h0M282.0 704.9h0M282.1 718.6h0M283.0 710.8h0M283.0 702.8h0M283.0 706.7h0M282.9 709.3h0M283.1 704.9h0M284.0 697.1h0M283.9 707.9h0M283.9 715.8h0M283.8 705.7h0M283.8 698.7h0M284.8 698.0h0M284.8 708.4h0M284.6 704.4h0M284.8 710.0h0M284.7 715.5h0M285.7 703.5h0M285.8 710.4h0M285.6 718.4h0M285.8 711.8h0M285.6 698.9h0M286.5 705.9h0M286.7 713.0h0M286.5 705.8h0M286.7 701.1h0M286.7 707.8h0M287.6 698.1h0M287.6 706.0h0M287.5 714.8h0M287.6 709.1h0M287.4 710.5h0M288.4 707.4h0M288.4 709.4h0M288.4 710.7h0M288.4 708.7h0M288.5 707.1h0M289.5 708.7h0M289.4 708.0h0M289.4 703.5h0M289.3 711.3h0M289.4 709.4h0M290.4 706.6h0M290.4 710.7h0M290.2 707.5h0M290.2 705.4h0M290.2 705.7h0M291.2 711.0h0M291.3 710.8h0M291.2 711.7h0M291.2 712.3h0M291.3 699.2h0M292.2 707.8h0M292.1 708.2h0M292.2 708.0h0M292.3 704.9h0M292.2 706.2h0M293.2 708.1h0M293.2 718.4h0M293.1 710.5h0M293.0 710.3h0M293.1 700.9h0M294.1 703.9h0M294.1 715.8h0M294.0 714.2h0M293.9 703.3h0M294.1 715.6h0M294.8 708.2h0M294.9 705.9h0M294.9 707.7h0M295.0 714.0h0M294.9 696.8h0M295.9 711.8h0M295.9 712.5h0M296.0 711.1h0M295.8 698.1h0M295.8 705.2h0M296.8 701.3h0M296.8 706.2h0M296.7 707.6h0M296.8 714.9h0M296.8 708.7h0M297.8 707.7h0M297.6 701.1h0M297.6 709.6h0M297.7 708.9h0M297.7 706.4h0M298.7 715.2h0M298.6 712.9h0M298.7 703.3h0M298.5 706.7h0M298.7 701.3h0M299.6 705.8h0M299.4 699.1h0M299.5 713.3h0M299.5 702.6h0M299.5 706.5h0M300.4 706.1h0M300.5 707.5h0M300.4 700.1h0M300.3 718.5h0M300.4 708.7h0M301.3 699.9h0M301.5 704.7h0M301.3 710.9h0M301.3 706.2h0M301.4 712.8h0M302.3 699.2h0M302.4 698.0h0M302.4 711.5h0M302.2 710.4h0M302.3 709.9h0M303.4 718.2h0M303.1 708.1h0M303.1 700.8h0M303.2 702.7h0M303.3 704.6h0M304.0 699.6h0M304.1 701.3h0M304.2 711.3h0M304.1 701.5h0M304.1 714.2h0M305.1 712.2h0M305.0 716.3h0M305.1 699.5h0M305.0 710.9h0M305.2 718.4h0M306.1 709.9h0M305.9 704.9h0M306.1 704.3h0M306.0 705.6h0M306.1 709.5h0M307.0 712.2h0M307.0 709.3h0M306.8 715.0h0M307.0 702.6h0M307.0 708.3h0M308.0 702.5h0M307.8 704.6h0M308.0 701.9h0M308.0 703.2h0M307.7 710.9h0M308.7 704.5h0M308.8 706.0h0M308.8 699.7h0M308.8 710.2h0M308.7 712.9h0M309.7 725.9h0M309.8 709.9h0M309.8 711.4h0M309.6 715.0h0M309.6 703.9h0M310.7 711.6h0M310.7 713.2h0M310.6 702.5h0M310.5 714.7h0M310.6 711.4h0M311.5 705.0h0M311.5 713.2h0M311.6 712.8h0M311.5 713.6h0M311.4 711.0h0M312.5 712.4h0M312.5 706.2h0M312.5 710.4h0M312.3 711.0h0M312.6 713.2h0M313.5 711.7h0M313.3 711.2h0M313.5 706.2h0M313.5 717.0h0M313.4 712.3h0M314.4 705.3h0M314.2 710.5h0M314.3 714.1h0M314.3 699.8h0M314.4 704.0h0M315.1 711.5h0M315.2 699.0h0M315.1 707.5h0M315.1 712.0h0M315.1 710.2h0M316.2 710.6h0M316.2 710.6h0M316.2 711.8h0M316.1 700.9h0M316.1 706.3h0M317.0 706.5h0M317.2 713.7h0M317.1 702.8h0M317.0 712.9h0M317.2 705.8h0M317.9 712.1h0M318.0 710.3h0M318.1 712.9h0M318.0 709.7h0M318.0 702.1h0M319.0 709.6h0M319.0 709.4h0M318.9 709.7h0M318.8 704.8h0M319.0 723.1h0M319.8 704.6h0M319.9 711.8h0M319.9 710.5h0M319.9 700.3h0M319.8 701.2h0M320.8 709.7h0M320.9 712.8h0M320.7 710.1h0M320.7 699.2h0M320.8 703.6h0M321.7 712.5h0M321.7 713.6h0M321.6 697.9h0M321.8 699.1h0M321.6 713.4h0M322.6 699.1h0M322.5 708.4h0M322.7 707.8h0M322.6 705.8h0M322.5 706.0h0M323.5 700.1h0M323.4 709.0h0M323.6 710.8h0M323.7 717.6h0M323.7 716.5h0M324.5 706.1h0M324.5 711.9h0M324.6 711.9h0M324.3 712.0h0M324.5 711.4h0M325.3 706.5h0M325.4 717.4h0M325.5 711.4h0M325.5 701.9h0M325.3 702.5h0M326.3 709.2h0M326.3 711.1h0M326.3 707.6h0M326.3 701.4h0M326.4 707.7h0M327.1 713.0h0M327.2 698.4h0M327.2 700.8h0M327.3 708.5h0M327.3 701.2h0M328.0 714.5h0M328.2 713.0h0M328.0 713.1h0M328.1 711.3h0M328.1 708.0h0M329.1 713.1h0M329.0 710.3h0M329.2 706.7h0M329.2 707.9h0M329.1 712.2h0M330.0 709.3h0M329.9 708.3h0M329.9 705.1h0M329.9 713.0h0M330.0 710.0h0M330.8 702.9h0M331.0 703.1h0M330.8 708.0h0M330.9 711.0h0M331.0 702.5h0M331.8 704.6h0M331.8 701.4h0M331.9 708.6h0M331.8 705.2h0M331.7 709.9h0M332.9 716.4h0M332.7 708.3h0M332.8 705.5h0M332.8 699.3h0M332.7 708.9h0M333.6 699.4h0M333.7 708.8h0M333.7 714.2h0M333.8 711.7h0M333.6 701.5h0M334.6 712.8h0M334.6 704.8h0M334.7 700.4h0M334.7 711.3h0M334.6 716.6h0M335.4 711.5h0M335.5 701.1h0M335.4 708.2h0M335.5 705.2h0M335.6 710.9h0M336.5 710.1h0M336.5 706.8h0M336.4 706.5h0M336.4 707.8h0M336.5 709.6h0M337.5 710.1h0M337.3 713.3h0M337.4 704.5h0M337.3 702.1h0M337.5 699.6h0M338.4 713.7h0M338.4 708.4h0M338.3 708.7h0M338.3 707.3h0M338.2 699.5h0M339.3 705.0h0M339.1 715.0h0M339.3 708.2h0M339.1 708.3h0M339.1 710.2h0M340.2 712.3h0M340.0 707.9h0M340.1 699.2h0M340.0 702.3h0M340.2 702.8h0M341.1 699.9h0M341.2 706.7h0M341.0 713.2h0M341.1 709.7h0M340.9 701.9h0M341.9 709.8h0M342.0 702.7h0M342.1 707.3h0M342.0 705.1h0M342.1 703.7h0M342.8 703.9h0M343.0 698.2h0M343.0 701.7h0M342.9 703.7h0M343.0 697.8h0M343.8 697.9h0M343.9 715.9h0M343.7 704.7h0M343.7 705.7h0M344.0 703.7h0M344.9 704.5h0M344.7 708.7h0M344.9 700.8h0M344.8 700.0h0M344.7 707.9h0M345.8 704.9h0M345.6 701.1h0M345.6 707.3h0M345.8 701.6h0M345.6 706.4h0M346.5 707.7h0M346.7 699.7h0M346.6 703.1h0M346.6 697.8h0M346.5 706.4h0M347.5 700.4h0M347.4 699.0h0M347.6 701.8h0M347.5 704.8h0M347.7 702.1h0M348.4 703.3h0M348.5 701.9h0M348.6 704.5h0M348.5 707.4h0M348.6 703.9h0M349.4 701.3h0M349.5 707.7h0M349.3 701.8h0M349.3 700.9h0M349.2 696.9h0M350.4 705.4h0M350.3 702.8h0M350.3 698.1h0M350.3 706.2h0M350.4 704.7h0M351.1 705.9h0M351.3 700.8h0M351.3 704.7h0M351.2 701.1h0M351.1 698.8h0M352.0 702.2h0M352.0 699.2h0M352.2 699.9h0M352.1 704.0h0M352.2 701.2h0M353.0 701.8h0M353.0 701.1h0M353.1 704.3h0M353.1 701.1h0M353.1 702.5h0M353.9 698.6h0M354.0 702.7h0M354.1 699.2h0M354.0 701.0h0M354.0 702.9h0M354.9 706.2h0M354.8 704.3h0M354.8 700.8h0M354.8 697.6h0M354.9 703.9h0M355.9 702.4h0M355.7 697.3h0M355.8 706.6h0M355.8 699.5h0M355.7 705.7h0M356.8 708.3h0M356.8 704.0h0M356.8 702.3h0M356.7 702.1h0M356.7 702.5h0M357.7 701.5h0M357.6 705.9h0M357.6 704.8h0M357.7 703.7h0M357.7 698.8h0M358.5 701.9h0M358.6 700.0h0M358.6 706.1h0M358.5 696.8h0M358.6 701.1h0M359.6 706.3h0M359.4 701.1h0M359.5 698.4h0M359.4 701.0h0M359.6 702.7h0M360.5 696.8h0M360.5 705.3h0M360.4 701.7h0M360.3 698.4h0M360.3 701.6h0M361.4 700.8h0M361.5 697.9h0M361.4 699.3h0M361.5 699.8h0M361.3 698.5h0M362.4 712.0h0M362.2 698.1h0M362.3 702.2h0M362.4 699.8h0M362.2 699.3h0M363.1 702.2h0M363.1 706.3h0M363.3 703.3h0M363.3 703.9h0M363.1 713.5h0M364.0 703.9h0M364.2 705.5h0M364.1 705.1h0M364.2 700.2h0M364.1 701.5h0M365.0 708.6h0M365.1 705.2h0M365.1 702.6h0M365.0 707.1h0M365.1 701.3h0M365.9 702.0h0M366.1 711.5h0M366.0 712.9h0M365.9 701.6h0M366.0 700.5h0M366.9 705.6h0M366.9 702.4h0M366.8 706.4h0M366.8 702.1h0M366.9 706.1h0M367.7 706.5h0M368.0 711.9h0M367.9 703.0h0M368.0 710.7h0M367.9 709.5h0M368.8 706.2h0M368.8 712.3h0M368.6 708.8h0M368.7 709.0h0M368.7 707.5h0M369.7 711.6h0M369.6 707.3h0M369.6 707.6h0M369.7 706.8h0M369.7 698.8h0M370.6 710.8h0M370.7 716.4h0M370.6 713.4h0M370.6 712.4h0M370.7 711.8h0M371.5 710.8h0M371.6 697.4h0M371.4 710.1h0M371.4 714.6h0M371.5 705.4h0M372.5 710.6h0M372.5 702.2h0M372.4 710.6h0M372.4 712.5h0M372.4 709.2h0M373.4 711.4h0M373.4 707.9h0M373.4 713.9h0M373.3 715.1h0M373.4 708.5h0M374.3 710.3h0M374.4 704.5h0M374.3 712.1h0M374.4 710.5h0M374.3 713.7h0M375.1 713.2h0M375.1 709.6h0M375.4 716.0h0M375.2 717.3h0M375.2 702.8h0M376.3 723.5h0M376.2 714.2h0M376.2 717.3h0M376.2 707.6h0M376.2 712.2h0M377.1 712.2h0M377.2 709.4h0M377.1 718.3h0M377.1 714.9h0M377.0 720.2h0M378.0 709.3h0M378.0 710.9h0M378.0 716.1h0M377.9 718.3h0M378.0 711.7h0M379.0 710.2h0M379.0 721.5h0M378.9 715.4h0M378.9 719.1h0M378.9 714.6h0M379.9 720.5h0M379.9 718.9h0M379.9 711.0h0M380.0 713.9h0M379.9 728.5h0M380.7 715.8h0M380.9 722.1h0M380.6 721.0h0M380.6 712.5h0M380.9 707.9h0M381.8 702.9h0M381.7 724.3h0M381.6 714.7h0M381.7 712.1h0M381.7 730.0h0M382.5 721.1h0M382.6 716.3h0M382.7 709.3h0M382.5 731.4h0M382.5 713.8h0M383.4 722.4h0M383.5 721.3h0M383.5 724.3h0M383.5 719.0h0M383.6 726.5h0M384.4 720.4h0M384.5 731.3h0M384.4 714.2h0M384.3 726.6h0M384.4 729.2h0M385.4 712.5h0M385.5 731.6h0M385.4 718.5h0M385.3 726.2h0M385.4 719.7h0M386.2 727.0h0M386.2 720.6h0M386.2 719.8h0M386.3 718.0h0M386.4 708.0h0M387.2 728.1h0M387.1 718.9h0M387.2 719.9h0M387.3 723.3h0M387.2 715.9h0M388.2 730.0h0M388.1 713.8h0M388.1 722.4h0M388.1 724.0h0M388.0 727.2h0M389.0 729.2h0M389.0 735.7h0M388.9 727.8h0M389.1 720.4h0M389.1 717.4h0M389.9 724.1h0M390.1 728.4h0M390.1 720.7h0M389.9 725.5h0M389.9 725.2h0M390.8 728.9h0M390.8 738.9h0M390.9 725.6h0M390.9 719.8h0M391.0 729.5h0M391.9 728.0h0M391.8 723.6h0M391.9 738.9h0M391.8 723.0h0M392.0 725.2h0M392.8 723.7h0M392.7 725.7h0M392.7 731.0h0M392.7 729.1h0M392.9 732.3h0M393.6 729.1h0M393.6 725.5h0M393.6 727.7h0M393.8 729.0h0M393.5 731.2h0M394.5 726.2h0M394.6 724.3h0M394.5 736.2h0M394.5 733.3h0M394.7 734.4h0M395.5 732.7h0M395.5 726.2h0M395.5 726.0h0M395.6 734.7h0M395.6 733.1h0M396.5 734.7h0M396.5 728.0h0M396.4 731.6h0M396.5 732.5h0M396.4 736.7h0M397.4 729.6h0M397.2 735.0h0M397.4 731.1h0M397.4 736.1h0M397.4 734.0h0M398.3 731.0h0M398.2 730.7h0M398.4 733.8h0M398.3 731.5h0M398.3 737.8h0M399.1 737.5h0M399.2 736.3h0M399.1 736.6h0M399.3 735.7h0M399.2 733.5h0M400.1 735.1h0M400.1 735.5h0M400.1 733.8h0M400.0 730.2h0M400.1 731.8h0M401.1 737.7h0M401.0 735.2h0M401.0 733.2h0M401.0 736.5h0M401.0 733.7h0M402.0 735.1h0M402.1 736.4h0M402.1 737.9h0M401.9 735.5h0M402.0 735.8h0M403.0 737.2h0M402.9 738.9h0M402.8 738.8h0M402.9 738.6h0M402.9 737.8h0M403.8 734.5h0M403.7 733.4h0M403.7 735.9h0M403.7 736.1h0M403.7 737.8h0M404.8 735.6h0M404.7 735.7h0M404.9 735.6h0M404.7 736.2h0M404.7 734.3h0M405.5 699.3h0M405.7 737.8h0M405.8 736.5h0M405.6 737.3h0M405.6 735.5h0M406.5 737.5h0M406.6 734.2h0M406.7 736.2h0M406.6 738.9h0M406.7 733.1h0M407.5 737.4h0M407.6 737.7h0M407.4 701.3h0M407.4 735.5h0M407.5 738.9h0M408.3 738.2h0M408.4 734.9h0M408.5 735.8h0M408.4 738.9h0M408.4 735.6h0M409.3 737.9h0M409.4 737.1h0M409.4 738.4h0M409.3 737.6h0M409.4 734.7h0M410.4 736.1h0M410.2 738.4h0M410.4 737.5h0M410.4 733.6h0M410.4 736.7h0M411.2 736.2h0M411.2 738.9h0M411.3 738.9h0M411.3 736.1h0M411.3 738.8h0M412.2 737.3h0M412.2 735.3h0M412.3 737.5h0M412.3 736.4h0M412.2 738.6h0M413.0 734.6h0M413.0 736.5h0M413.0 736.2h0M413.1 738.9h0M413.2 735.9h0M413.9 733.2h0M414.0 737.0h0M413.9 735.1h0M413.9 738.4h0M414.1 733.0h0M415.0 737.2h0M415.0 738.4h0M414.9 722.1h0M414.9 738.9h0M414.9 734.1h0M415.9 738.9h0M415.9 738.9h0M415.9 735.5h0M415.8 738.5h0M415.8 736.2h0M416.8 737.9h0M416.7 735.5h0M416.6 738.9h0M416.8 734.2h0M416.6 738.9h0M417.6 737.0h0M417.6 736.5h0M417.7 737.2h0M417.8 738.2h0M417.7 736.1h0M418.5 731.1h0M418.7 738.7h0M418.6 737.5h0M418.7 735.6h0M418.5 735.6h0M419.5 738.7h0M419.6 736.6h0M419.6 738.4h0M419.5 734.6h0M419.5 737.3h0M420.5 738.3h0M420.5 738.9h0M420.5 738.9h0M420.5 738.9h0M420.4 738.3h0M421.3 738.9h0M421.4 735.9h0M421.3 737.7h0M421.4 738.9h0M421.5 738.9h0M422.4 736.4h0M422.2 733.2h0M422.3 736.8h0M422.4 737.4h0M422.4 738.7h0M423.3 726.3h0M423.1 737.5h0M423.2 737.4h0M423.4 734.4h0M423.2 738.4h0M424.2 738.9h0M424.2 738.9h0M424.2 737.9h0M424.3 736.8h0M424.1 737.3h0M425.2 734.5h0M425.1 722.7h0M425.0 735.4h0M424.9 736.1h0M425.2 734.6h0M426.1 737.6h0M426.1 735.0h0M426.0 738.9h0M426.0 736.6h0M425.9 738.9h0M426.9 738.9h0M426.9 738.9h0M426.8 734.6h0M426.9 736.7h0M426.8 738.9h0M427.8 738.9h0M427.7 736.9h0M427.8 738.9h0M427.7 738.5h0M427.9 735.1h0M428.9 737.6h0M428.9 735.0h0M428.8 738.9h0M428.9 738.6h0M428.8 736.4h0M429.8 737.8h0M429.6 738.8h0M429.6 735.5h0M429.8 735.0h0M429.5 735.9h0M430.7 738.9h0M430.6 738.6h0M430.6 737.5h0M430.7 735.8h0M430.5 737.8h0M431.4 736.0h0M431.4 738.8h0M431.5 737.9h0M431.4 738.8h0M431.7 736.5h0M432.4 733.7h0M432.5 738.9h0M432.4 736.8h0M432.3 735.9h0M432.5 737.2h0M433.4 735.0h0M433.3 733.9h0M433.5 736.4h0M433.4 738.9h0M433.4 738.4h0M434.3 736.9h0M434.2 737.1h0M434.3 736.9h0M434.3 736.1h0M434.2 732.9h0M435.1 736.8h0M435.2 733.9h0M435.1 735.2h0M435.3 736.3h0M435.1 738.5h0M436.2 736.2h0M436.1 737.3h0M436.1 735.7h0M436.1 697.2h0M436.2 738.7h0M437.0 735.7h0M437.0 734.0h0M437.1 738.9h0M437.2 734.8h0M437.1 738.5h0M437.9 738.5h0M438.0 736.3h0M437.9 736.9h0M438.1 735.2h0M438.0 738.9h0M439.0 737.3h0M439.0 733.4h0M439.0 738.1h0M438.9 737.1h0M439.0 738.3h0M440.0 735.1h0M439.9 738.9h0M439.8 738.8h0M440.0 736.8h0M439.9 737.4h0M440.8 736.7h0M440.8 736.5h0M440.7 732.4h0M440.9 736.2h0M440.7 738.9h0M441.6 738.6h0M441.8 734.4h0M441.8 736.7h0M441.8 738.9h0M441.8 734.7h0M442.5 736.9h0M442.6 738.9h0M442.6 738.1h0M442.5 738.9h0M442.7 735.8h0M443.4 737.6h0M443.6 736.7h0M443.6 736.1h0M443.6 738.7h0M443.4 738.9h0M444.3 736.0h0M444.4 737.5h0M444.5 734.9h0M444.3 736.9h0M444.4 738.9h0M445.3 737.7h0M445.3 734.8h0M445.3 736.1h0M445.4 734.9h0M445.4 738.9h0M446.4 737.7h0M446.3 736.7h0M446.3 734.2h0M446.3 717.7h0M446.3 736.7h0M447.1 738.5h0M447.1 734.9h0M447.1 738.9h0M447.3 734.3h0M447.2 711.5h0M448.1 737.4h0M448.2 737.2h0M448.2 734.8h0M448.1 734.8h0M448.2 736.2h0M449.1 737.5h0M448.9 738.9h0M449.0 738.1h0M449.0 738.8h0M449.0 735.4h0M450.0 736.4h0M450.1 738.9h0M449.9 736.2h0M449.9 736.5h0M449.9 736.7h0M451.0 738.6h0M450.8 737.6h0M451.0 738.9h0M450.9 733.4h0M450.8 720.1h0M451.9 713.5h0M451.7 734.1h0M451.9 734.0h0M451.8 736.6h0M451.7 738.9h0M452.7 737.2h0M452.8 730.3h0M452.9 738.0h0M452.7 737.6h0M452.7 736.2h0M453.6 738.2h0M453.8 733.9h0M453.8 736.4h0M453.6 738.9h0M453.8 735.4h0M454.5 735.0h0M454.5 737.9h0M454.7 733.6h0M454.7 735.8h0M454.5 735.5h0M455.6 735.0h0M455.5 734.5h0M455.5 738.9h0M455.6 734.1h0M455.5 734.7h0M456.4 733.3h0M456.4 738.7h0M456.4 734.2h0M456.3 738.9h0M456.4 735.9h0M457.4 732.2h0M457.4 736.2h0M457.4 738.9h0M457.3 738.7h0M457.3 734.5h0M458.2 699.8h0M458.4 736.1h0M458.2 736.8h0M458.3 738.6h0M458.3 734.1h0M459.3 738.8h0M459.2 738.9h0M459.3 738.9h0M459.2 738.3h0M459.3 737.2h0M460.0 738.9h0M460.1 717.2h0M460.0 734.2h0M460.1 735.6h0M460.1 734.1h0M461.0 738.4h0M461.1 700.6h0M461.2 735.9h0M461.1 738.9h0M461.1 737.7h0M462.1 738.9h0M462.0 738.5h0M462.0 737.8h0M462.0 736.5h0M462.1 737.8h0M463.0 737.9h0M462.8 738.9h0M462.8 737.2h0M462.9 738.9h0M462.9 733.4h0M463.9 738.9h0M463.8 738.9h0M463.9 736.7h0M463.8 738.9h0M463.8 738.9h0M464.7 738.9h0M464.8 737.3h0M464.7 737.8h0M464.9 738.9h0M464.8 738.9h0M465.5 738.8h0M465.8 736.3h0M465.7 738.9h0M465.8 736.6h0M465.6 738.9h0M466.7 738.9h0M466.5 734.1h0M466.6 738.9h0M466.5 736.5h0M466.5 738.9h0M467.4 737.7h0M467.6 736.7h0M467.4 738.9h0M467.5 738.9h0M467.6 738.9h0M468.5 738.9h0M468.4 736.7h0M468.4 738.9h0M468.5 733.3h0M468.5 734.6h0M469.4 734.6h0M469.2 732.1h0M469.4 736.0h0M469.3 736.4h0M469.3 738.7h0M470.3 731.5h0M470.2 738.3h0M470.3 737.5h0M470.3 735.0h0M470.2 738.9h0M471.3 737.5h0M471.3 734.5h0M471.1 738.9h0M471.3 736.9h0M471.3 734.4h0M472.3 734.6h0M472.1 737.7h0M472.3 735.2h0M472.1 738.9h0M472.0 701.8h0M473.2 738.6h0M473.0 734.0h0M473.1 737.5h0M473.1 738.7h0M473.1 738.9h0M474.0 734.2h0M474.0 736.2h0M473.9 738.9h0M474.1 734.6h0M474.0 735.1h0M474.9 732.4h0M475.0 734.1h0M475.0 733.0h0M475.0 733.1h0M475.0 734.8h0M475.8 738.0h0M475.9 738.6h0M475.9 701.7h0M475.8 735.7h0M475.9 727.3h0M476.7 734.3h0M476.7 732.1h0M476.7 738.9h0M476.8 726.3h0M476.8 723.9h0M477.7 733.5h0M477.6 736.6h0M477.5 731.0h0M477.6 734.9h0M477.6 735.0h0M478.6 731.1h0M478.6 736.1h0M478.7 731.8h0M478.5 730.5h0M478.7 730.6h0M479.6 732.5h0M479.6 730.4h0M479.7 733.8h0M479.6 733.3h0M479.5 731.5h0M480.4 732.4h0M480.3 732.3h0M480.6 726.8h0M480.3 732.1h0M480.4 733.0h0M481.5 736.6h0M481.5 734.6h0M481.3 731.7h0M481.4 737.0h0M481.2 729.6h0M482.2 735.3h0M482.3 699.7h0M482.3 733.2h0M482.2 737.5h0M482.2 735.7h0M483.3 732.3h0M483.2 733.2h0M483.1 735.6h0M483.1 732.9h0M483.3 735.2h0M484.2 731.5h0M484.0 734.9h0M484.3 730.3h0M484.1 733.0h0M484.3 737.0h0M485.1 734.8h0M485.1 732.2h0M485.0 731.7h0M485.1 735.0h0M485.0 737.7h0M486.0 737.3h0M485.9 733.3h0M486.0 732.4h0M485.9 731.3h0M485.9 731.4h0M486.8 738.9h0M487.0 734.8h0M486.8 731.2h0M486.9 736.7h0M486.9 735.7h0M487.7 736.0h0M487.8 735.7h0M487.9 735.2h0M487.9 737.4h0M487.9 728.0h0M488.7 732.8h0M488.7 703.0h0M488.7 729.6h0M488.8 737.6h0M488.7 738.5h0M489.5 738.5h0M489.6 738.9h0M489.8 738.3h0M489.6 735.9h0M489.6 738.6h0M490.5 737.0h0M490.7 738.0h0M490.5 738.0h0M490.6 735.1h0M490.6 733.6h0M491.4 737.2h0M491.6 738.9h0M491.4 738.4h0M491.6 737.1h0M491.4 734.5h0M492.5 726.8h0M492.4 738.7h0M492.4 737.7h0M492.4 736.5h0M492.4 735.9h0M493.3 737.8h0M493.2 737.7h0M493.5 723.5h0M493.5 738.9h0M493.2 738.7h0M494.4 736.4h0M494.3 734.5h0M494.2 738.9h0M494.2 738.9h0M494.2 737.7h0M495.3 738.9h0M495.2 733.9h0M495.3 738.9h0M495.1 738.8h0M495.3 738.9h0M496.0 735.7h0M496.1 732.3h0M496.3 732.5h0M496.0 736.5h0M496.1 737.0h0M497.2 735.1h0M497.1 735.6h0M497.0 735.7h0M497.1 735.7h0M496.9 732.3h0M497.9 735.4h0M497.9 738.9h0M498.0 738.0h0M498.0 735.9h0M497.9 735.2h0M499.0 733.6h0M498.8 734.3h0M498.8 737.3h0M498.8 736.5h0M498.8 737.5h0M499.8 734.2h0M499.7 734.3h0M499.9 733.1h0M499.7 733.1h0M499.7 732.6h0M500.7 737.7h0M500.8 738.8h0M500.9 732.9h0M500.8 736.9h0M500.7 731.9h0M501.8 734.8h0M501.6 732.1h0M501.6 735.0h0M501.6 738.0h0M501.5 732.8h0M502.6 732.6h0M502.7 733.3h0M502.5 737.6h0M502.6 736.4h0M502.5 738.1h0M503.7 732.6h0M503.5 735.8h0M503.5 735.0h0M503.4 732.9h0M503.6 733.7h0M504.3 731.4h0M504.4 735.1h0M504.5 734.3h0M504.3 728.2h0M504.6 734.4h0M505.3 738.9h0M505.5 736.3h0M505.3 729.8h0M505.5 738.9h0M505.3 728.3h0M506.2 734.5h0M506.2 735.0h0M506.4 737.8h0M506.3 736.3h0M506.2 737.8h0M507.3 735.7h0M507.3 734.2h0M507.1 731.3h0M507.1 737.4h0M507.3 737.0h0M508.0 738.9h0M508.0 738.3h0M508.1 731.0h0M508.2 736.1h0M508.2 738.9h0M509.0 733.8h0M509.0 738.9h0M509.1 732.1h0M509.1 737.6h0M509.0 730.6h0M509.9 733.3h0M510.0 730.2h0M509.8 730.3h0M510.0 736.4h0M510.1 728.9h0M510.8 737.6h0M510.8 732.3h0M511.0 738.4h0M510.9 738.3h0M510.8 738.4h0M511.7 730.4h0M511.9 734.8h0M511.7 733.0h0M511.8 730.9h0M511.7 733.8h0M512.8 730.7h0M512.6 734.7h0M512.8 737.8h0M512.9 733.7h0M512.7 732.8h0M513.7 736.8h0M513.6 731.8h0M513.7 738.4h0M513.6 736.3h0M513.8 734.0h0M514.7 734.1h0M514.6 738.9h0M514.6 738.0h0M514.6 728.6h0M514.7 732.9h0M515.4 735.5h0M515.6 738.9h0M515.6 736.3h0M515.4 731.6h0M515.6 738.4h0M516.3 732.0h0M516.4 738.9h0M516.5 738.9h0M516.3 736.1h0M516.5 731.7h0M517.4 738.1h0M517.5 724.0h0M517.4 729.2h0M517.3 735.9h0M517.5 736.2h0M518.2 736.8h0M518.3 732.1h0M518.4 738.9h0M518.3 732.7h0M518.3 735.7h0M519.1 731.7h0M519.3 729.7h0M519.1 731.5h0M519.2 731.8h0M519.3 738.9h0M520.2 735.4h0M520.2 738.9h0M520.3 738.1h0M520.1 736.2h0M520.1 730.5h0M521.0 733.6h0M521.0 737.8h0M521.1 736.5h0M521.1 728.3h0M521.1 734.5h0M521.9 711.4h0M521.9 726.1h0M521.9 735.4h0M521.9 735.4h0M522.0 734.8h0M523.0 730.2h0M522.9 728.4h0M523.0 702.8h0M522.8 713.4h0M522.9 731.5h0M523.9 731.2h0M523.9 736.3h0M523.7 731.9h0M524.0 734.4h0M523.9 730.2h0M524.7 737.7h0M524.9 732.3h0M524.8 711.1h0M524.7 737.5h0M524.7 736.5h0M525.7 729.8h0M525.7 738.9h0M525.7 735.4h0M525.6 725.8h0M525.8 730.3h0M526.5 731.0h0M526.5 727.8h0M526.5 730.9h0M526.6 730.0h0M526.6 736.0h0M527.5 736.2h0M527.6 730.3h0M527.6 728.4h0M527.5 730.6h0M527.5 732.2h0M528.5 729.2h0M528.5 715.9h0M528.5 737.1h0M528.5 724.2h0M528.4 736.9h0M529.2 736.3h0M529.3 733.8h0M529.5 730.2h0M529.3 728.9h0M529.5 737.3h0M530.3 721.1h0M530.3 700.7h0M530.2 732.1h0M530.4 729.0h0M530.4 723.6h0M531.1 731.0h0M531.1 729.0h0M531.2 731.3h0M531.2 729.1h0M531.2 738.9h0M532.1 732.5h0M532.1 731.6h0M532.0 724.3h0M532.2 736.9h0M532.0 738.9h0M533.0 710.6h0M533.2 733.6h0M533.1 734.5h0M533.2 738.9h0M533.0 727.6h0M534.1 728.7h0M533.9 738.9h0M533.9 729.9h0M534.1 728.0h0M534.0 699.7h0M534.8 736.2h0M534.8 716.9h0M535.0 738.3h0M535.0 736.8h0M534.8 726.3h0M535.7 731.7h0M535.8 720.5h0M535.8 728.4h0M535.7 735.2h0M535.8 719.3h0M536.7 699.5h0M536.7 738.4h0M536.8 738.6h0M536.8 734.7h0M536.8 738.9h0M537.7 726.3h0M537.5 733.2h0M537.7 736.6h0M537.6 732.8h0M537.6 736.5h0M538.5 738.9h0M538.6 726.6h0M538.7 720.3h0M538.6 732.2h0M538.5 736.2h0M539.6 724.2h0M539.5 737.9h0M539.6 738.9h0M539.6 717.8h0M539.5 735.4h0M540.4 732.1h0M540.4 717.6h0M540.5 731.6h0M540.5 733.3h0M540.4 728.1h0M541.3 733.2h0M541.3 738.0h0M541.4 727.2h0M541.3 738.6h0M541.5 730.5h0M542.2 734.3h0M542.4 734.8h0M542.3 724.4h0M542.4 730.2h0M542.3 726.8h0M543.3 724.8h0M543.3 728.0h0M543.1 732.6h0M543.2 727.5h0M543.1 728.1h0M544.0 731.0h0M544.1 738.6h0M544.3 738.3h0M544.2 732.8h0M544.1 725.1h0M545.1 732.3h0M545.0 731.6h0M545.1 738.5h0M545.0 729.5h0M545.2 711.0h0M545.9 738.9h0M545.9 728.8h0M546.0 729.9h0M546.0 730.7h0M546.0 725.8h0M546.8 735.7h0M547.0 737.8h0M546.8 722.6h0M547.0 728.5h0M546.8 731.1h0M547.8 710.1h0M547.8 729.5h0M547.8 738.9h0M547.7 734.9h0M547.8 722.3h0M548.8 735.6h0M548.8 731.6h0M548.8 700.9h0M548.8 725.8h0M548.7 735.6h0M549.6 731.3h0M549.8 722.3h0M549.6 725.1h0M549.6 729.8h0M549.7 723.7h0M550.6 732.8h0M550.5 721.9h0M550.6 727.4h0M550.5 734.8h0M550.5 733.8h0M551.5 729.8h0M551.6 697.4h0M551.7 735.4h0M551.5 723.3h0M551.4 738.9h0M552.5 730.9h0M552.5 734.1h0M552.4 728.9h0M552.3 734.7h0M552.5 738.9h0M553.3 705.4h0M553.5 724.9h0M553.5 725.3h0M553.2 732.8h0M553.3 735.3h0M554.2 731.2h0M554.3 719.7h0M554.3 735.3h0M554.3 728.3h0M554.1 717.1h0M555.1 728.1h0M555.2 728.2h0M555.1 734.2h0M555.1 730.0h0M555.2 721.6h0M556.1 732.3h0M556.1 734.1h0M556.3 731.5h0M556.2 731.6h0M556.1 723.7h0M557.0 724.7h0M557.0 725.9h0M557.0 738.9h0M557.1 716.3h0M557.2 738.9h0M558.1 724.1h0M557.8 728.6h0M557.9 731.2h0M558.0 731.5h0M558.0 725.5h0M558.8 722.4h0M558.8 719.5h0M558.9 728.7h0M559.0 727.7h0M558.9 720.9h0M559.9 725.7h0M559.8 734.7h0M559.7 726.2h0M559.7 738.0h0M559.8 721.4h0M560.7 716.6h0M560.7 735.8h0M560.8 732.6h0M560.8 738.9h0M560.7 721.5h0M561.6 728.9h0M561.8 723.4h0M561.7 716.7h0M561.6 726.1h0M561.8 730.3h0M562.5 722.7h0M562.7 721.6h0M562.6 735.9h0M562.5 732.9h0M562.5 720.5h0M563.6 728.2h0M563.6 731.6h0M563.4 726.7h0M563.4 726.8h0M563.5 731.5h0M564.4 723.8h0M564.4 720.2h0M564.5 736.6h0M564.5 729.6h0M564.3 729.3h0M565.5 734.0h0M565.4 738.8h0M565.3 698.6h0M565.3 700.1h0M565.2 725.6h0M566.3 699.9h0M566.3 738.9h0M566.4 725.9h0M566.2 721.5h0M566.2 718.8h0M567.2 696.9h0M567.1 718.2h0M567.1 731.9h0M567.1 726.5h0M567.3 738.9h0M568.0 732.5h0M568.1 720.0h0M568.1 718.7h0M568.2 722.1h0M568.2 729.0h0M569.2 722.2h0M569.1 726.3h0M569.0 725.5h0M569.0 729.1h0M569.1 732.5h0M570.0 734.7h0M570.0 729.4h0M570.1 722.7h0M569.9 730.8h0M569.9 730.6h0M570.9 729.3h0M570.9 725.4h0M570.9 725.4h0M570.9 737.4h0M571.0 731.4h0M571.9 733.1h0M571.9 703.4h0M571.9 709.6h0M571.8 732.8h0M571.8 713.3h0M572.7 738.7h0M572.6 732.8h0M572.7 713.4h0M572.8 736.1h0M572.7 722.4h0M573.7 720.1h0M573.7 718.7h0M573.7 734.2h0M573.8 726.0h0M573.8 719.3h0M574.5 736.0h0M574.5 735.5h0M574.6 729.2h0M574.5 720.5h0M574.7 727.4h0M575.6 738.9h0M575.5 721.2h0M575.5 734.7h0M575.6 733.6h0M575.6 729.4h0M576.5 736.6h0M576.4 734.0h0M576.4 729.9h0M576.5 733.1h0M576.5 733.3h0M577.4 729.9h0M577.5 718.3h0M577.3 716.0h0M577.4 738.2h0M577.4 712.6h0M578.3 737.9h0M578.4 731.7h0M578.4 720.3h0M578.4 734.9h0M578.2 728.8h0M579.1 722.7h0M579.2 729.6h0M579.1 729.2h0M579.3 729.9h0M579.1 720.6h0M580.1 725.2h0M580.0 733.7h0M580.2 726.0h0M580.2 727.4h0M580.0 700.0h0M581.0 722.4h0M581.0 732.3h0M581.0 724.2h0M581.0 712.7h0M581.1 729.3h0M582.1 737.6h0M582.1 716.1h0M582.0 732.3h0M582.0 729.4h0M581.9 730.2h0M582.9 730.7h0M583.0 728.4h0M583.0 721.4h0M582.9 738.9h0M582.9 715.4h0M583.9 723.4h0M583.8 729.3h0M583.7 734.3h0M583.9 727.1h0M583.8 729.8h0M584.8 716.8h0M584.7 732.3h0M584.9 718.8h0M584.6 732.0h0M584.7 737.3h0M585.7 729.6h0M585.7 701.0h0M585.6 725.6h0M585.6 724.8h0M585.6 727.2h0M586.6 738.9h0M586.7 713.9h0M586.5 727.7h0M586.7 738.9h0M586.7 723.8h0M587.6 709.1h0M587.4 722.3h0M587.6 731.0h0M587.5 726.2h0M587.5 726.7h0M588.4 731.9h0M588.5 731.9h0M588.5 729.6h0M588.4 735.0h0M588.5 738.9h0M589.3 726.9h0M589.3 722.4h0M589.2 726.6h0M589.4 700.5h0M589.3 738.9h0M590.2 715.2h0M590.4 725.6h0M590.2 722.0h0M590.4 738.9h0M590.2 722.9h0M591.2 730.4h0M591.1 728.1h0M591.3 738.9h0M591.2 711.8h0M591.3 725.0h0M592.1 721.8h0M592.2 725.4h0M592.3 728.1h0M592.2 735.9h0M592.2 730.0h0M593.1 720.2h0M592.9 719.7h0M593.0 718.5h0M593.0 736.8h0M593.1 732.0h0M594.0 738.9h0M594.1 738.9h0M594.1 734.5h0M593.9 736.0h0M593.9 716.2h0M594.9 730.6h0M594.9 718.9h0M594.9 720.7h0M594.8 727.4h0M595.0 725.0h0M595.7 725.8h0M595.9 736.0h0M595.9 738.6h0M595.8 700.1h0M595.8 730.5h0M596.9 716.2h0M596.7 730.8h0M596.7 719.8h0M596.8 727.1h0M596.6 729.0h0M597.5 704.4h0M597.6 730.7h0M597.8 726.0h0M597.8 729.7h0M597.5 738.9h0M598.6 725.5h0M598.5 703.9h0M598.7 726.1h0M598.7 728.3h0M598.5 700.3h0M599.6 733.3h0M599.6 719.5h0M599.5 728.9h0M599.5 727.6h0M599.6 733.4h0M600.3 729.6h0M600.3 737.3h0M600.3 721.2h0M600.3 732.0h0M600.4 725.2h0M601.3 728.9h0M601.4 727.0h0M601.5 722.4h0M601.5 718.5h0M601.4 728.7h0M602.2 730.2h0M602.2 732.7h0M602.3 734.3h0M602.3 725.1h0M602.4 700.6h0M603.3 719.9h0M603.3 733.8h0M603.2 738.6h0M603.1 716.8h0M603.3 701.0h0M604.0 737.6h0M604.1 720.7h0M604.0 735.1h0M604.2 731.9h0M604.1 722.2h0M605.1 730.8h0M605.1 733.1h0M604.9 734.9h0M605.1 734.3h0M605.2 722.8h0M605.9 735.8h0M606.0 726.8h0M605.9 731.6h0M606.0 714.3h0M606.0 722.2h0M607.0 720.7h0M606.9 728.1h0M606.8 720.9h0M606.9 725.8h0M606.9 725.6h0M607.9 728.5h0M607.7 736.1h0M607.9 735.5h0M607.9 729.3h0M607.8 729.4h0M608.8 738.9h0M608.7 717.4h0M608.8 719.7h0M608.7 736.2h0M608.8 723.4h0M609.6 721.2h0M609.6 731.5h0M609.5 722.9h0M609.8 732.3h0M609.7 726.7h0M610.6 721.2h0M610.7 723.0h0M610.7 711.5h0M610.7 717.4h0M610.5 724.5h0M611.6 733.9h0M611.6 738.9h0M611.6 718.4h0M611.5 734.3h0M611.6 727.3h0M612.4 725.9h0M612.3 724.0h0M612.6 728.0h0M612.5 728.6h0M612.5 719.9h0M613.3 732.9h0M613.2 723.4h0M613.2 729.2h0M613.4 713.9h0M613.3 726.0h0M614.4 735.0h0M614.3 716.9h0M614.3 730.3h0M614.2 736.1h0M614.1 721.6h0M615.2 734.7h0M615.2 717.0h0M615.2 732.8h0M615.2 737.0h0M615.2 730.6h0M616.2 736.4h0M616.1 724.7h0M616.2 725.0h0M616.2 735.4h0M616.1 723.8h0M616.9 732.6h0M617.1 722.9h0M617.0 715.3h0M617.1 738.9h0M617.0 730.5h0M617.8 727.6h0M617.9 738.9h0M617.9 723.9h0M618.0 733.3h0M618.1 730.3h0M618.9 736.9h0M618.9 725.4h0M618.8 704.2h0M618.9 730.5h0M618.9 731.7h0M619.9 717.4h0M619.9 732.6h0M619.9 734.1h0M619.7 738.9h0M619.8 735.0h0M620.7 730.1h0M620.6 735.1h0M620.8 720.2h0M620.7 711.6h0M620.8 715.8h0M621.6 737.5h0M621.6 729.1h0M621.5 730.5h0M621.6 738.9h0M621.7 701.7h0M622.6 727.5h0M622.7 699.7h0M622.5 728.7h0M622.7 722.2h0M622.5 726.1h0M623.6 729.1h0M623.5 725.4h0M623.6 709.7h0M623.5 723.7h0M623.4 730.1h0M624.3 728.8h0M624.4 716.7h0M624.5 731.4h0M624.6 731.3h0M624.4 723.5h0M625.3 700.3h0M625.4 730.4h0M625.4 720.6h0M625.5 722.1h0M625.2 734.7h0M626.4 737.6h0M626.4 725.4h0M626.2 738.9h0M626.3 725.7h0M626.1 724.0h0M627.3 738.8h0M627.3 726.8h0M627.2 738.3h0M627.2 730.2h0M627.1 724.3h0M628.2 738.9h0M628.2 731.1h0M628.2 727.4h0M628.1 727.8h0M628.3 738.9h0M629.0 715.1h0M629.0 725.7h0M629.0 724.4h0M629.0 738.9h0M629.0 728.6h0M629.8 731.0h0M630.1 730.2h0M630.1 731.5h0M629.9 730.1h0M630.0 722.7h0M630.9 731.3h0M630.9 731.7h0M630.8 699.2h0M630.9 738.9h0M630.8 715.4h0M631.8 737.3h0M631.8 721.2h0M631.7 718.0h0M631.8 724.9h0M631.9 736.6h0M632.7 722.2h0M632.8 732.4h0M632.8 710.7h0M632.8 728.3h0M632.8 725.1h0M633.7 726.4h0M633.7 733.1h0M633.6 718.8h0M633.8 731.3h0M633.8 730.2h0M634.5 728.6h0M634.7 729.9h0M634.6 727.4h0M634.5 736.8h0M634.6 727.3h0M635.4 737.0h0M635.6 737.4h0M635.5 735.4h0M635.5 725.6h0M635.4 730.2h0M636.3 735.1h0M636.3 722.9h0M636.4 727.9h0M636.4 725.8h0M636.4 705.7h0M637.3 736.6h0M637.2 718.2h0M637.4 720.8h0M637.5 734.0h0M637.4 735.5h0M638.2 734.6h0M638.1 729.2h0M638.3 699.4h0M638.2 708.8h0M638.2 735.4h0M639.3 736.8h0M639.3 731.9h0M639.2 738.9h0M639.1 723.7h0M639.1 738.9h0M640.0 733.9h0M640.0 709.0h0M640.1 727.5h0M640.2 731.8h0M640.0 729.3h0M641.1 701.8h0M640.9 725.8h0M641.0 730.4h0M641.0 733.7h0M641.0 732.4h0M642.0 727.1h0M641.9 726.8h0M642.1 731.0h0M642.0 725.6h0M641.9 727.9h0M642.9 727.7h0M642.8 728.4h0M642.8 726.3h0M642.8 723.5h0M642.9 732.4h0M643.8 726.3h0M643.7 724.6h0M643.9 726.8h0M643.9 721.3h0M643.7 737.7h0M644.7 731.9h0M644.9 730.8h0M644.6 720.9h0M644.7 734.9h0M644.8 737.4h0M645.5 731.9h0M645.6 737.9h0M645.6 738.9h0M645.6 715.2h0M645.8 704.4h0M646.5 731.0h0M646.5 726.1h0M646.6 723.8h0M646.6 709.4h0M646.5 735.3h0M647.5 737.3h0M647.6 725.2h0M647.6 718.0h0M647.4 725.7h0M647.4 727.5h0M648.5 699.4h0M648.4 722.3h0M648.5 733.4h0M648.4 727.8h0M648.4 729.6h0M649.4 724.1h0M649.3 726.8h0M649.4 726.4h0M649.4 728.8h0M649.3 726.1h0M650.2 731.2h0M650.3 731.6h0M650.3 724.6h0M650.4 731.8h0M650.3 732.9h0M651.1 720.3h0M651.3 707.5h0M651.3 732.5h0M651.3 735.5h0M651.1 730.2h0M652.0 738.9h0M652.1 728.5h0M652.0 729.3h0M652.1 713.3h0M652.2 736.8h0M653.1 730.6h0M653.1 727.5h0M653.1 734.0h0M653.1 730.1h0M653.1 711.1h0M654.0 735.1h0M653.9 733.8h0M653.9 735.0h0M653.9 729.3h0M654.0 734.5h0M86.3 737.2h0" stroke="#a8a8a8" stroke-width="1.55" stroke-linecap="round" fill="none"/>
<path d="M105.7 697.7h0M107.1 697.8h0M125.1 697.8h0M126.5 697.9h0M127.9 697.8h0M174.6 697.9h0M234.9 697.5h0M278.7 697.7h0M352.5 697.9h0M356.9 697.8h0" stroke="#46c86c" stroke-width="2.75" stroke-linecap="round" fill="none"/>
<path d="M102.8 698.4h0M110.7 698.0h0M113.3 697.7h0M115.9 698.2h0M120.7 697.4h0M132.5 713.5h0M134.3 706.4h0M134.3 698.8h0M140.4 723.3h0M157.0 715.0h0M160.9 708.2h0M162.3 698.4h0M171.1 709.1h0M172.2 701.4h0M178.1 698.5h0M184.2 698.6h0M191.2 725.6h0M235.3 698.8h0M243.7 698.9h0M247.6 735.5h0M256.3 700.0h0M284.3 698.6h0M285.2 698.4h0M295.2 700.2h0M305.4 697.9h0M341.5 707.9h0M342.4 699.6h0M371.0 700.6h0M389.5 719.1h0M393.9 721.2h0M409.2 738.9h0M412.9 738.9h0M423.9 736.5h0M434.0 738.9h0M436.1 738.9h0M439.8 738.9h0M442.8 738.9h0M448.0 738.9h0M458.8 738.2h0M461.1 734.6h0M464.8 738.3h0M467.3 736.3h0M469.9 730.8h0M474.3 736.9h0M476.5 737.0h0M474.9 736.2h0M494.8 734.5h0M501.0 735.0h0M505.9 734.3h0M509.3 735.9h0M509.6 699.2h0M514.4 736.5h0M515.9 738.9h0M517.4 726.6h0M520.2 735.0h0M526.1 713.4h0M532.6 738.2h0M536.3 738.9h0M537.1 719.0h0M543.7 719.8h0M544.7 699.5h0M547.6 738.1h0M548.7 733.4h0M556.0 737.4h0M556.0 734.3h0M559.4 728.3h0M579.0 737.5h0M592.6 738.3h0M593.6 719.2h0M599.1 737.4h0M626.2 728.1h0M641.8 710.4h0M644.5 700.6h0M483.7 720.1h0" stroke="#4452a6" stroke-width="2.75" stroke-linecap="round" fill="none"/>
<path d="M405.6 738.9h0M414.3 738.9h0M419.2 738.9h0M425.2 737.9h0M428.2 734.2h0M430.3 738.2h0M431.1 738.9h0M434.8 738.4h0M439.8 738.9h0M444.3 738.8h0M445.4 735.4h0M446.3 738.4h0M454.4 738.0h0M460.1 729.7h0M463.2 731.6h0M467.5 738.9h0M471.2 737.7h0M479.2 732.2h0M487.4 737.2h0M492.5 736.4h0M493.3 735.5h0M496.6 729.5h0M499.8 732.3h0M504.9 736.2h0M510.0 738.2h0M512.7 732.0h0M521.0 738.1h0M534.8 736.6h0M535.5 734.8h0M541.5 736.9h0M542.8 732.7h0M546.3 738.7h0M560.4 737.4h0M564.3 737.8h0M590.2 734.3h0M600.0 731.3h0M601.4 732.5h0M604.8 738.9h0M604.8 736.8h0M613.8 716.1h0M618.5 733.6h0M628.7 734.9h0M632.5 736.8h0M635.4 733.1h0M652.0 733.7h0M652.9 717.4h0M550.3 727.8h0" stroke="#c6532e" stroke-width="2.75" stroke-linecap="round" fill="none"/>
<text x="56.6" y="741.5" font-size="7.9" text-anchor="end" fill="#333333" font-weight="normal" >0.0</text>
<text x="56.6" y="720.1" font-size="7.9" text-anchor="end" fill="#333333" font-weight="normal" >0.5</text>
<text x="56.6" y="698.8" font-size="7.9" text-anchor="end" fill="#333333" font-weight="normal" >1.0</text>
<text x="85.4" y="747.4" font-size="8.1" text-anchor="middle" fill="#333333" font-weight="normal" >0</text>
<text x="177.7" y="747.4" font-size="8.1" text-anchor="middle" fill="#333333" font-weight="normal" >100</text>
<text x="270.0" y="747.4" font-size="8.1" text-anchor="middle" fill="#333333" font-weight="normal" >200</text>
<text x="362.3" y="747.4" font-size="8.1" text-anchor="middle" fill="#333333" font-weight="normal" >300</text>
<text x="454.6" y="747.4" font-size="8.1" text-anchor="middle" fill="#333333" font-weight="normal" >400</text>
<text x="546.9" y="747.4" font-size="8.1" text-anchor="middle" fill="#333333" font-weight="normal" >500</text>
<text x="639.2" y="747.4" font-size="8.1" text-anchor="middle" fill="#333333" font-weight="normal" >600</text>
<text x="0" y="0" font-size="9.4" fill="#333333" text-anchor="middle" transform="translate(24.0,717.9) rotate(-90)">Maverick</text>
<text x="0" y="0" font-size="9.4" fill="#333333" text-anchor="middle" transform="translate(33.5,717.9) rotate(-90)">Benign</text>
<text x="0" y="0" font-size="9.4" fill="#333333" text-anchor="middle" transform="translate(43.0,717.9) rotate(-90)">Score</text>
<text x="370.3" y="756.9" font-size="9.26" text-anchor="middle" fill="#333333" font-weight="normal" >Amino Acid Position</text>
<circle cx="505.4" cy="795.4" r="2.7" fill="#c6532e"/>
<circle cx="505.4" cy="817.3" r="2.7" fill="#46c86c"/>
<circle cx="505.4" cy="838.2" r="2.7" fill="#4452a6"/>
<circle cx="505.4" cy="859.2" r="1.5" fill="#b0b0b0"/>
<text x="533" y="801.2" font-size="14.8" text-anchor="start" fill="#333333" font-weight="normal" >ClinVar Pathogenic</text>
<text x="533" y="823.0" font-size="14.8" text-anchor="start" fill="#333333" font-weight="normal" >ClinVar Benign</text>
<text x="533" y="843.9" font-size="14.8" text-anchor="start" fill="#333333" font-weight="normal" >ClinVar VUS</text>
<text x="533" y="864.9" font-size="14.8" text-anchor="start" fill="#333333" font-weight="normal" >Not in ClinVar</text>
</svg>
</body></html>
